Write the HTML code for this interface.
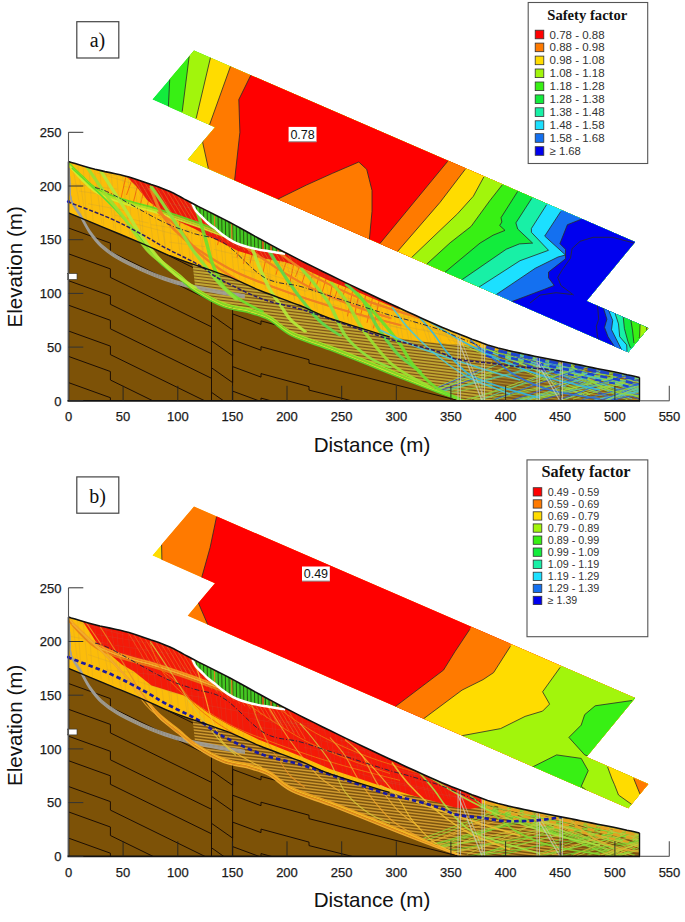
<!DOCTYPE html><html><head><meta charset="utf-8"><style>html,body{margin:0;padding:0;background:#fff;width:685px;height:922px;overflow:hidden}svg{display:block}text{font-family:"Liberation Sans",sans-serif}.tk{font-size:13px;fill:#1a1a1a;stroke:#1a1a1a;stroke-width:0.25px}.ax{font-size:20.6px;fill:#111}</style></head><body>
<svg width="685" height="922" viewBox="0 0 685 922">
<defs>
<clipPath id="outerA"><polygon points="194.0,50.5 635.1,241.9 586.5,300.9 648.3,327.9 628.3,352.3 187.7,159.8 202.3,142.3 215.0,127.2 152.2,99.5"/></clipPath>
<clipPath id="outerB"><polygon points="194.0,506.5 635.1,697.9 586.5,756.9 648.3,783.9 628.3,808.3 187.7,615.8 202.3,598.3 215.0,583.2 152.2,555.5"/></clipPath>
<clipPath id="tailA"><polygon points="506.5,265.9 654.3,330.5 628.3,372.3 480.0,300.0"/></clipPath>
<clipPath id="tailB"><polygon points="506.5,721.9 654.3,786.5 628.3,828.3 480.0,756.0"/></clipPath>
</defs>
<rect width="685" height="922" fill="#fff"/>
<g clip-path="url(#outerA)">
<polygon points="194.0,50.5 635.1,241.9 586.5,300.9 648.3,327.9 628.3,352.3 187.7,159.8 202.3,142.3 215.0,127.2 152.2,99.5" fill="#12ec3c"/>
<polygon points="202.7,-14.0 170.7,59.6 169.7,79.6 168.4,106.5 167.4,126.5 135.4,200.1 2135.4,1070.1 2202.7,856.0" fill="#38f014"/>
<polygon points="223.7,-37.2 191.7,36.4 189.2,56.2 182.2,111.6 179.7,131.4 147.7,205.0 2147.7,1075.0 2223.7,832.8" fill="#a2f50c"/>
<polygon points="247.1,-35.7 215.1,37.9 210.5,57.4 196.2,118.3 191.6,137.8 159.6,211.4 2159.6,1081.4 2247.1,834.3" fill="#ffdc00"/>
<polygon points="269.2,-26.1 237.2,47.5 230.5,66.3 209.6,124.6 202.6,142.1 208.4,168.6 212.7,188.1 180.7,261.7 2180.7,1131.7 2269.2,843.9" fill="#ff7a00"/>
<polygon points="291.7,-16.5 259.7,57.1 250.9,75.0 238.8,99.6 239.9,132.3 234.6,180.3 232.4,200.2 200.4,273.8 2200.4,1143.8 2291.7,853.5" fill="#ff0000"/>
<polygon points="492.4,72.3 460.4,145.9 447.7,161.3 379.8,243.7 367.1,259.1 335.1,332.7 2335.1,1202.7 2492.4,942.3" fill="#ff7a00"/>
<polygon points="509.4,79.7 477.4,153.3 465.3,169.2 440.0,202.4 397.5,251.5 384.4,266.6 352.4,340.2 2352.4,1210.2 2509.4,949.7" fill="#ffdc00"/>
<polygon points="525.4,85.8 493.4,159.4 483.8,177.0 473.3,196.3 457.5,213.8 440.0,230.4 411.5,257.6 397.0,271.4 365.0,345.0 2365.0,1215.0 2525.4,955.8" fill="#a2f50c"/>
<polygon points="546.7,95.5 514.7,169.1 502.3,184.8 489.8,200.7 471.1,226.4 450.1,242.8 426.7,264.2 411.9,277.7 379.9,351.3 2379.9,1221.3 2546.7,965.5" fill="#38f014"/>
<polygon points="560.4,100.9 528.4,174.5 517.7,191.4 501.0,217.7 501.9,222.0 499.7,225.5 505.0,230.4 493.1,235.2 480.0,243.1 445.0,272.2 429.6,285.0 397.6,358.6 2397.6,1228.6 2560.4,970.9" fill="#12ec3c"/>
<polygon points="574.5,108.0 542.5,181.6 531.7,198.4 515.9,222.9 517.7,229.0 532.6,243.1 519.4,243.9 506.3,249.2 462.0,279.7 445.5,291.0 413.5,364.6 2413.5,1234.6 2574.5,978.0" fill="#18f0a6"/>
<polygon points="589.4,114.2 557.4,187.8 546.6,204.7 531.4,228.5 531.4,232.3 548.5,250.3 520.0,260.7 479.0,287.1 462.2,297.9 430.2,371.5 2430.2,1241.5 2589.4,984.2" fill="#1ce0ff"/>
<polygon points="603.7,121.0 571.7,194.6 560.8,211.4 544.7,236.1 565.5,255.0 558.0,257.0 535.2,268.3 496.2,294.6 479.6,305.8 447.6,379.4 2447.6,1249.4 2603.7,991.0" fill="#1470f0"/>
<polygon points="631.3,138.6 599.3,212.2 580.7,219.5 567.4,224.7 559.9,243.7 565.5,249.3 565.5,258.8 548.5,272.1 548.5,277.8 554.2,285.4 544.7,289.2 512.0,301.5 493.3,308.5 461.3,382.1 2461.3,1252.1 2631.3,1008.6" fill="#0000ee"/>
<polygon points="270.0,206.0 277.0,199.5 306.3,185.1 332.5,173.3 358.8,162.0 366.7,169.3 372.0,190.4 372.0,211.4 369.3,240.0 369.0,260.0 270.0,215.0" fill="#ff7a00"/>
<g clip-path="url(#tailA)">
<polygon points="629.4,215.3 597.4,288.9 603.4,308.0 606.9,319.2 604.5,327.4 608.0,336.7 614.5,346.5 625.6,363.2 593.6,436.8 2593.6,1306.8 2629.4,1085.3" fill="#1470f0"/>
<polygon points="633.1,218.0 601.1,291.6 608.6,310.2 612.7,320.4 611.5,329.7 616.2,339.0 621.5,349.5 630.5,367.4 598.5,441.0 2598.5,1311.0 2633.1,1088.0" fill="#1ce0ff"/>
<polygon points="640.8,220.6 608.8,294.2 615.0,313.2 618.5,323.9 619.7,336.7 626.7,344.9 627.0,351.5 627.9,371.5 595.9,445.1 2595.9,1315.1 2640.8,1090.6" fill="#18f0a6"/>
<polygon points="653.2,223.1 621.2,296.7 623.2,316.6 624.4,328.5 627.9,341.4 630.5,348.0 637.8,366.6 605.8,440.2 2605.8,1310.2 2653.2,1093.1" fill="#12ec3c"/>
<polygon points="659.6,226.6 627.6,300.2 630.8,319.9 632.6,330.9 633.7,341.4 634.0,343.0 637.7,362.7 605.7,436.3 2605.7,1306.3 2659.6,1096.6" fill="#38f014"/>
<polygon points="672.9,230.4 640.9,304.0 640.1,324.0 639.6,336.7 639.0,338.0 679.0,330.0 2679.0,1200.0 2672.9,1100.4" fill="#a2f50c"/>
<polygon points="677.2,233.4 645.2,307.0 646.5,327.0 646.8,331.5 646.5,332.0 686.5,324.0 2686.5,1194.0 2677.2,1103.4" fill="#ffdc00"/>
</g>
<polyline points="169.7,79.6 168.4,106.5" fill="none" stroke="#2a2a2a" stroke-width="0.8"/>
<polyline points="189.2,56.2 182.2,111.6" fill="none" stroke="#2a2a2a" stroke-width="0.8"/>
<polyline points="210.5,57.4 196.2,118.3" fill="none" stroke="#2a2a2a" stroke-width="0.8"/>
<polyline points="230.5,66.3 209.6,124.6 202.6,142.1 208.4,168.6" fill="none" stroke="#2a2a2a" stroke-width="0.8"/>
<polyline points="250.9,75.0 238.8,99.6 239.9,132.3 234.6,180.3" fill="none" stroke="#2a2a2a" stroke-width="0.8"/>
<polyline points="447.7,161.3 379.8,243.7" fill="none" stroke="#2a2a2a" stroke-width="0.8"/>
<polyline points="465.3,169.2 440.0,202.4 397.5,251.5" fill="none" stroke="#2a2a2a" stroke-width="0.8"/>
<polyline points="483.8,177.0 473.3,196.3 457.5,213.8 440.0,230.4 411.5,257.6" fill="none" stroke="#2a2a2a" stroke-width="0.8"/>
<polyline points="502.3,184.8 489.8,200.7 471.1,226.4 450.1,242.8 426.7,264.2" fill="none" stroke="#2a2a2a" stroke-width="0.8"/>
<polyline points="517.7,191.4 501.0,217.7 501.9,222.0 499.7,225.5 505.0,230.4 493.1,235.2 480.0,243.1 445.0,272.2" fill="none" stroke="#2a2a2a" stroke-width="0.8"/>
<polyline points="531.7,198.4 515.9,222.9 517.7,229.0 532.6,243.1 519.4,243.9 506.3,249.2 462.0,279.7" fill="none" stroke="#2a2a2a" stroke-width="0.8"/>
<polyline points="546.6,204.7 531.4,228.5 531.4,232.3 548.5,250.3 520.0,260.7 479.0,287.1" fill="none" stroke="#2a2a2a" stroke-width="0.8"/>
<polyline points="560.8,211.4 544.7,236.1 565.5,255.0 558.0,257.0 535.2,268.3 496.2,294.6" fill="none" stroke="#2a2a2a" stroke-width="0.8"/>
<polyline points="580.7,219.5 567.4,224.7 559.9,243.7 565.5,249.3 565.5,258.8 548.5,272.1 548.5,277.8 554.2,285.4 544.7,289.2 512.0,301.5" fill="none" stroke="#2a2a2a" stroke-width="0.8"/>
<polyline points="277.0,199.5 306.3,185.1 332.5,173.3 358.8,162.0 366.7,169.3 372.0,190.4 372.0,211.4 369.3,240.0" fill="none" stroke="#2a2a2a" stroke-width="0.8"/>
<polyline points="603.4,308.0 606.9,319.2 604.5,327.4 608.0,336.7 614.5,346.5" fill="none" stroke="#2a2a2a" stroke-width="0.8"/>
<polyline points="608.6,310.2 612.7,320.4 611.5,329.7 616.2,339.0 621.5,349.5" fill="none" stroke="#2a2a2a" stroke-width="0.8"/>
<polyline points="615.0,313.2 618.5,323.9 619.7,336.7 626.7,344.9 627.0,351.5" fill="none" stroke="#2a2a2a" stroke-width="0.8"/>
<polyline points="623.2,316.6 624.4,328.5 627.9,341.4 630.5,348.0" fill="none" stroke="#2a2a2a" stroke-width="0.8"/>
<polyline points="630.8,319.9 632.6,330.9 633.7,341.4 634.0,343.0" fill="none" stroke="#2a2a2a" stroke-width="0.8"/>
<polyline points="640.1,324.0 639.6,336.7 639.0,338.0" fill="none" stroke="#2a2a2a" stroke-width="0.8"/>
<polyline points="646.5,327.0 646.8,331.5 646.5,332.0" fill="none" stroke="#2a2a2a" stroke-width="0.8"/>
<polyline points="597.5,305.2 598.7,319.2 596.4,326.2 597.5,336.7 600.0,343.0" fill="none" stroke="#2a2a2a" stroke-width="0.8"/>
<polyline points="634.0,243.0 612.3,237.3 593.0,237.3 580.1,241.3 572.1,248.5 570.5,258.2 562.5,269.4 557.7,277.4 560.9,285.5 573.7,295.1" fill="none" stroke="#2a2a2a" stroke-width="0.8"/>
<polyline points="530.0,303.0 540.0,295.1 556.0,292.7 572.1,294.5" fill="none" stroke="#2a2a2a" stroke-width="0.8"/>
</g>
<rect x="288.6" y="126.9" width="27.9" height="14.9" fill="#fff"/>
<line x1="288.6" y1="141.8" x2="316.5" y2="141.8" stroke="#888" stroke-width="1"/>
<text x="302.55" y="138.8" text-anchor="middle" font-size="12.5" fill="#111">0.78</text>
<clipPath id="slopea"><polygon points="68.5,161.6 71.3,162.4 75.2,163.6 79.9,165.0 84.9,166.5 90.1,168.0 95.0,169.3 99.9,170.4 105.0,171.6 110.1,172.6 115.3,173.7 120.2,174.8 124.8,175.9 129.0,177.1 132.9,178.3 136.7,179.5 140.3,180.7 143.9,182.0 147.6,183.3 151.3,184.6 155.1,185.8 158.8,187.1 162.5,188.4 166.2,189.9 170.0,191.5 173.7,193.2 177.2,195.1 180.7,197.0 184.4,199.1 188.5,201.3 193.2,203.8 198.6,206.6 204.7,209.6 211.2,212.9 217.7,216.2 224.1,219.4 230.0,222.5 235.4,225.4 240.6,228.2 245.6,231.0 250.5,233.7 255.2,236.4 260.0,239.0 264.5,241.4 268.6,243.7 272.7,245.9 276.9,248.2 281.6,250.7 287.0,253.5 293.2,256.6 299.9,260.1 307.1,263.7 314.6,267.4 322.2,271.2 330.0,275.0 337.9,278.9 346.1,282.9 354.6,286.9 363.1,291.0 371.6,295.0 380.0,299.0 388.6,303.0 397.4,307.1 406.2,311.2 414.7,315.1 422.7,318.8 430.0,322.0 436.3,324.8 441.8,327.2 446.9,329.3 451.6,331.2 456.4,333.1 461.4,335.1 466.6,337.1 471.9,339.2 477.1,341.1 482.3,343.1 487.6,344.9 492.8,346.5 498.0,348.0 503.3,349.3 508.5,350.6 513.7,351.7 519.0,352.9 524.2,354.0 529.4,355.1 534.6,356.2 539.9,357.2 545.1,358.2 550.3,359.2 555.5,360.2 560.7,361.2 566.0,362.3 571.2,363.3 576.4,364.4 581.7,365.4 586.9,366.5 592.2,367.6 597.7,368.7 603.2,369.8 608.6,370.8 613.7,371.8 618.3,372.8 622.7,373.7 626.9,374.7 630.9,375.5 634.4,376.3 637.3,377.0 639.5,377.5 639.5,400.8 68.5,400.8"/></clipPath>
<polygon points="68.5,161.6 71.3,162.4 75.2,163.6 79.9,165.0 84.9,166.5 90.1,168.0 95.0,169.3 99.9,170.4 105.0,171.6 110.1,172.6 115.3,173.7 120.2,174.8 124.8,175.9 129.0,177.1 132.9,178.3 136.7,179.5 140.3,180.7 143.9,182.0 147.6,183.3 151.3,184.6 155.1,185.8 158.8,187.1 162.5,188.4 166.2,189.9 170.0,191.5 173.7,193.2 177.2,195.1 180.7,197.0 184.4,199.1 188.5,201.3 193.2,203.8 198.6,206.6 204.7,209.6 211.2,212.9 217.7,216.2 224.1,219.4 230.0,222.5 235.4,225.4 240.6,228.2 245.6,231.0 250.5,233.7 255.2,236.4 260.0,239.0 264.5,241.4 268.6,243.7 272.7,245.9 276.9,248.2 281.6,250.7 287.0,253.5 293.2,256.6 299.9,260.1 307.1,263.7 314.6,267.4 322.2,271.2 330.0,275.0 337.9,278.9 346.1,282.9 354.6,286.9 363.1,291.0 371.6,295.0 380.0,299.0 388.6,303.0 397.4,307.1 406.2,311.2 414.7,315.1 422.7,318.8 430.0,322.0 436.3,324.8 441.8,327.2 446.9,329.3 451.6,331.2 456.4,333.1 461.4,335.1 466.6,337.1 471.9,339.2 477.1,341.1 482.3,343.1 487.6,344.9 492.8,346.5 498.0,348.0 503.3,349.3 508.5,350.6 513.7,351.7 519.0,352.9 524.2,354.0 529.4,355.1 534.6,356.2 539.9,357.2 545.1,358.2 550.3,359.2 555.5,360.2 560.7,361.2 566.0,362.3 571.2,363.3 576.4,364.4 581.7,365.4 586.9,366.5 592.2,367.6 597.7,368.7 603.2,369.8 608.6,370.8 613.7,371.8 618.3,372.8 622.7,373.7 626.9,374.7 630.9,375.5 634.4,376.3 637.3,377.0 639.5,377.5 639.5,400.8 68.5,400.8" fill="#7d5207"/>
<g clip-path="url(#slopea)">
<polyline points="68.5,203.5 110.4,218.6 110.4,227.1 211.5,276.6 211.5,290.6 232.6,305.4 232.6,289.4 261.0,299.9 261.0,296.4 309.0,309.4 309.0,312.9 645.0,396.9" fill="none" stroke="#1c0e04" stroke-width="1"/>
<polyline points="68.5,228.0 110.4,243.1 110.4,251.6 211.5,301.1 211.5,315.1 232.6,329.9 232.6,313.9 261.0,324.4 261.0,320.9 309.0,333.9 309.0,337.4 645.0,421.4" fill="none" stroke="#1c0e04" stroke-width="1"/>
<polyline points="68.5,253.8 110.4,268.9 110.4,277.4 211.5,326.9 211.5,340.9 232.6,355.7 232.6,339.7 261.0,350.2 261.0,346.7 309.0,359.7 309.0,363.2 645.0,447.2" fill="none" stroke="#1c0e04" stroke-width="1"/>
<polyline points="68.5,280.7 110.4,295.8 110.4,304.3 211.5,353.8 211.5,367.8 232.6,382.6 232.6,366.6 261.0,377.1 261.0,373.6 309.0,386.6 309.0,390.1 645.0,474.1" fill="none" stroke="#1c0e04" stroke-width="1"/>
<polyline points="68.5,305.2 110.4,320.3 110.4,328.8 211.5,378.3 211.5,392.3 232.6,407.1 232.6,391.1 261.0,401.6 261.0,398.1 309.0,411.1 309.0,414.6 645.0,498.6" fill="none" stroke="#1c0e04" stroke-width="1"/>
<polyline points="68.5,331.0 110.4,346.1 110.4,354.6 211.5,404.1 211.5,418.1 232.6,432.9 232.6,416.9 261.0,427.4 261.0,423.9 309.0,436.9 309.0,440.4 645.0,524.4" fill="none" stroke="#1c0e04" stroke-width="1"/>
<polyline points="68.5,356.4 110.4,371.5 110.4,380.0 211.5,429.5 211.5,443.5 232.6,458.3 232.6,442.3 261.0,452.8 261.0,449.3 309.0,462.3 309.0,465.8 645.0,549.8" fill="none" stroke="#1c0e04" stroke-width="1"/>
<polyline points="68.5,382.6 110.4,397.7 110.4,406.2 211.5,455.7 211.5,469.7 232.6,484.5 232.6,468.5 261.0,479.0 261.0,475.5 309.0,488.5 309.0,492.0 645.0,576.0" fill="none" stroke="#1c0e04" stroke-width="1"/>
<polyline points="68.5,408.0 110.4,423.1 110.4,431.6 211.5,481.1 211.5,495.1 232.6,509.9 232.6,493.9 261.0,504.4 261.0,500.9 309.0,513.9 309.0,517.4 645.0,601.4" fill="none" stroke="#1c0e04" stroke-width="1"/>
<line x1="211.5" y1="296.6" x2="211.5" y2="400.8" stroke="#1c0e04" stroke-width="1"/>
<line x1="232.6" y1="305.1" x2="232.6" y2="400.8" stroke="#1c0e04" stroke-width="1"/>
<polygon points="192.6,264.2 208.3,269.4 230.0,277.2 260.0,290.5 300.0,305.5 330.0,318.4 389.6,337.0 420.0,341.5 440.0,343.6 459.0,344.8 484.0,348.0 495.0,350.0 505.0,351.5 524.2,354.0 555.5,360.2 586.9,366.5 618.3,372.8 640.0,377.5 645.0,381.0 645.0,400.8 470.0,400.8 475.0,403.0 460.0,399.6 437.6,390.4 400.0,374.0 367.7,361.0 329.7,346.0 291.8,332.0 269.0,316.0 249.2,309.0 223.5,303.0 195.2,287.8" fill="#80581a"/>
<clipPath id="kha"><polygon points="192.6,264.2 208.3,269.4 230.0,277.2 260.0,290.5 300.0,305.5 330.0,318.4 389.6,337.0 420.0,341.5 440.0,343.6 459.0,344.8 484.0,348.0 495.0,350.0 505.0,351.5 524.2,354.0 555.5,360.2 586.9,366.5 618.3,372.8 640.0,377.5 645.0,381.0 645.0,400.8 470.0,400.8 475.0,403.0 460.0,399.6 437.6,390.4 400.0,374.0 367.7,361.0 329.7,346.0 291.8,332.0 269.0,316.0 249.2,309.0 223.5,303.0 195.2,287.8"/></clipPath>
<g clip-path="url(#kha)">
<line x1="190" y1="82.0" x2="492" y2="118.2" stroke="#c8b034" stroke-width="1.8" stroke-opacity="0.9"/>
<line x1="492" y1="118.2" x2="650" y2="137.2" stroke="#c8b034" stroke-width="1.26" stroke-opacity="0.55"/>
<line x1="190" y1="85.0" x2="492" y2="121.2" stroke="#c8b034" stroke-width="1.8" stroke-opacity="0.9"/>
<line x1="492" y1="121.2" x2="650" y2="140.2" stroke="#c8b034" stroke-width="1.26" stroke-opacity="0.55"/>
<line x1="190" y1="88.0" x2="492" y2="124.2" stroke="#c8b034" stroke-width="1.8" stroke-opacity="0.9"/>
<line x1="492" y1="124.2" x2="650" y2="143.2" stroke="#c8b034" stroke-width="1.26" stroke-opacity="0.55"/>
<line x1="190" y1="91.0" x2="492" y2="127.2" stroke="#c8b034" stroke-width="1.8" stroke-opacity="0.9"/>
<line x1="492" y1="127.2" x2="650" y2="146.2" stroke="#c8b034" stroke-width="1.26" stroke-opacity="0.55"/>
<line x1="190" y1="94.0" x2="492" y2="130.2" stroke="#c8b034" stroke-width="1.8" stroke-opacity="0.9"/>
<line x1="492" y1="130.2" x2="650" y2="149.2" stroke="#c8b034" stroke-width="1.26" stroke-opacity="0.55"/>
<line x1="190" y1="97.0" x2="492" y2="133.2" stroke="#c8b034" stroke-width="1.8" stroke-opacity="0.9"/>
<line x1="492" y1="133.2" x2="650" y2="152.2" stroke="#c8b034" stroke-width="1.26" stroke-opacity="0.55"/>
<line x1="190" y1="100.0" x2="492" y2="136.2" stroke="#c8b034" stroke-width="1.8" stroke-opacity="0.9"/>
<line x1="492" y1="136.2" x2="650" y2="155.2" stroke="#c8b034" stroke-width="1.26" stroke-opacity="0.55"/>
<line x1="190" y1="103.0" x2="492" y2="139.2" stroke="#c8b034" stroke-width="1.8" stroke-opacity="0.9"/>
<line x1="492" y1="139.2" x2="650" y2="158.2" stroke="#c8b034" stroke-width="1.26" stroke-opacity="0.55"/>
<line x1="190" y1="106.0" x2="492" y2="142.2" stroke="#c8b034" stroke-width="1.8" stroke-opacity="0.9"/>
<line x1="492" y1="142.2" x2="650" y2="161.2" stroke="#c8b034" stroke-width="1.26" stroke-opacity="0.55"/>
<line x1="190" y1="109.0" x2="492" y2="145.2" stroke="#c8b034" stroke-width="1.8" stroke-opacity="0.9"/>
<line x1="492" y1="145.2" x2="650" y2="164.2" stroke="#c8b034" stroke-width="1.26" stroke-opacity="0.55"/>
<line x1="190" y1="112.0" x2="492" y2="148.2" stroke="#c8b034" stroke-width="1.8" stroke-opacity="0.9"/>
<line x1="492" y1="148.2" x2="650" y2="167.2" stroke="#c8b034" stroke-width="1.26" stroke-opacity="0.55"/>
<line x1="190" y1="115.0" x2="492" y2="151.2" stroke="#c8b034" stroke-width="1.8" stroke-opacity="0.9"/>
<line x1="492" y1="151.2" x2="650" y2="170.2" stroke="#c8b034" stroke-width="1.26" stroke-opacity="0.55"/>
<line x1="190" y1="118.0" x2="492" y2="154.2" stroke="#c8b034" stroke-width="1.8" stroke-opacity="0.9"/>
<line x1="492" y1="154.2" x2="650" y2="173.2" stroke="#c8b034" stroke-width="1.26" stroke-opacity="0.55"/>
<line x1="190" y1="121.0" x2="492" y2="157.2" stroke="#c8b034" stroke-width="1.8" stroke-opacity="0.9"/>
<line x1="492" y1="157.2" x2="650" y2="176.2" stroke="#c8b034" stroke-width="1.26" stroke-opacity="0.55"/>
<line x1="190" y1="124.0" x2="492" y2="160.2" stroke="#c8b034" stroke-width="1.8" stroke-opacity="0.9"/>
<line x1="492" y1="160.2" x2="650" y2="179.2" stroke="#c8b034" stroke-width="1.26" stroke-opacity="0.55"/>
<line x1="190" y1="127.0" x2="492" y2="163.2" stroke="#c8b034" stroke-width="1.8" stroke-opacity="0.9"/>
<line x1="492" y1="163.2" x2="650" y2="182.2" stroke="#c8b034" stroke-width="1.26" stroke-opacity="0.55"/>
<line x1="190" y1="130.0" x2="492" y2="166.2" stroke="#c8b034" stroke-width="1.8" stroke-opacity="0.9"/>
<line x1="492" y1="166.2" x2="650" y2="185.2" stroke="#c8b034" stroke-width="1.26" stroke-opacity="0.55"/>
<line x1="190" y1="133.0" x2="492" y2="169.2" stroke="#c8b034" stroke-width="1.8" stroke-opacity="0.9"/>
<line x1="492" y1="169.2" x2="650" y2="188.2" stroke="#c8b034" stroke-width="1.26" stroke-opacity="0.55"/>
<line x1="190" y1="136.0" x2="492" y2="172.2" stroke="#c8b034" stroke-width="1.8" stroke-opacity="0.9"/>
<line x1="492" y1="172.2" x2="650" y2="191.2" stroke="#c8b034" stroke-width="1.26" stroke-opacity="0.55"/>
<line x1="190" y1="139.0" x2="492" y2="175.2" stroke="#c8b034" stroke-width="1.8" stroke-opacity="0.9"/>
<line x1="492" y1="175.2" x2="650" y2="194.2" stroke="#c8b034" stroke-width="1.26" stroke-opacity="0.55"/>
<line x1="190" y1="142.0" x2="492" y2="178.2" stroke="#c8b034" stroke-width="1.8" stroke-opacity="0.9"/>
<line x1="492" y1="178.2" x2="650" y2="197.2" stroke="#c8b034" stroke-width="1.26" stroke-opacity="0.55"/>
<line x1="190" y1="145.0" x2="492" y2="181.2" stroke="#c8b034" stroke-width="1.8" stroke-opacity="0.9"/>
<line x1="492" y1="181.2" x2="650" y2="200.2" stroke="#c8b034" stroke-width="1.26" stroke-opacity="0.55"/>
<line x1="190" y1="148.0" x2="492" y2="184.2" stroke="#c8b034" stroke-width="1.8" stroke-opacity="0.9"/>
<line x1="492" y1="184.2" x2="650" y2="203.2" stroke="#c8b034" stroke-width="1.26" stroke-opacity="0.55"/>
<line x1="190" y1="151.0" x2="492" y2="187.2" stroke="#c8b034" stroke-width="1.8" stroke-opacity="0.9"/>
<line x1="492" y1="187.2" x2="650" y2="206.2" stroke="#c8b034" stroke-width="1.26" stroke-opacity="0.55"/>
<line x1="190" y1="154.0" x2="492" y2="190.2" stroke="#c8b034" stroke-width="1.8" stroke-opacity="0.9"/>
<line x1="492" y1="190.2" x2="650" y2="209.2" stroke="#c8b034" stroke-width="1.26" stroke-opacity="0.55"/>
<line x1="190" y1="157.0" x2="492" y2="193.2" stroke="#c8b034" stroke-width="1.8" stroke-opacity="0.9"/>
<line x1="492" y1="193.2" x2="650" y2="212.2" stroke="#c8b034" stroke-width="1.26" stroke-opacity="0.55"/>
<line x1="190" y1="160.0" x2="492" y2="196.2" stroke="#c8b034" stroke-width="1.8" stroke-opacity="0.9"/>
<line x1="492" y1="196.2" x2="650" y2="215.2" stroke="#c8b034" stroke-width="1.26" stroke-opacity="0.55"/>
<line x1="190" y1="163.0" x2="492" y2="199.2" stroke="#c8b034" stroke-width="1.8" stroke-opacity="0.9"/>
<line x1="492" y1="199.2" x2="650" y2="218.2" stroke="#c8b034" stroke-width="1.26" stroke-opacity="0.55"/>
<line x1="190" y1="166.0" x2="492" y2="202.2" stroke="#c8b034" stroke-width="1.8" stroke-opacity="0.9"/>
<line x1="492" y1="202.2" x2="650" y2="221.2" stroke="#c8b034" stroke-width="1.26" stroke-opacity="0.55"/>
<line x1="190" y1="169.0" x2="492" y2="205.2" stroke="#c8b034" stroke-width="1.8" stroke-opacity="0.9"/>
<line x1="492" y1="205.2" x2="650" y2="224.2" stroke="#c8b034" stroke-width="1.26" stroke-opacity="0.55"/>
<line x1="190" y1="172.0" x2="492" y2="208.2" stroke="#c8b034" stroke-width="1.8" stroke-opacity="0.9"/>
<line x1="492" y1="208.2" x2="650" y2="227.2" stroke="#c8b034" stroke-width="1.26" stroke-opacity="0.55"/>
<line x1="190" y1="175.0" x2="492" y2="211.2" stroke="#c8b034" stroke-width="1.8" stroke-opacity="0.9"/>
<line x1="492" y1="211.2" x2="650" y2="230.2" stroke="#c8b034" stroke-width="1.26" stroke-opacity="0.55"/>
<line x1="190" y1="178.0" x2="492" y2="214.2" stroke="#c8b034" stroke-width="1.8" stroke-opacity="0.9"/>
<line x1="492" y1="214.2" x2="650" y2="233.2" stroke="#c8b034" stroke-width="1.26" stroke-opacity="0.55"/>
<line x1="190" y1="181.0" x2="492" y2="217.2" stroke="#c8b034" stroke-width="1.8" stroke-opacity="0.9"/>
<line x1="492" y1="217.2" x2="650" y2="236.2" stroke="#c8b034" stroke-width="1.26" stroke-opacity="0.55"/>
<line x1="190" y1="184.0" x2="492" y2="220.2" stroke="#c8b034" stroke-width="1.8" stroke-opacity="0.9"/>
<line x1="492" y1="220.2" x2="650" y2="239.2" stroke="#c8b034" stroke-width="1.26" stroke-opacity="0.55"/>
<line x1="190" y1="187.0" x2="492" y2="223.2" stroke="#c8b034" stroke-width="1.8" stroke-opacity="0.9"/>
<line x1="492" y1="223.2" x2="650" y2="242.2" stroke="#c8b034" stroke-width="1.26" stroke-opacity="0.55"/>
<line x1="190" y1="190.0" x2="492" y2="226.2" stroke="#c8b034" stroke-width="1.8" stroke-opacity="0.9"/>
<line x1="492" y1="226.2" x2="650" y2="245.2" stroke="#c8b034" stroke-width="1.26" stroke-opacity="0.55"/>
<line x1="190" y1="193.0" x2="492" y2="229.2" stroke="#c8b034" stroke-width="1.8" stroke-opacity="0.9"/>
<line x1="492" y1="229.2" x2="650" y2="248.2" stroke="#c8b034" stroke-width="1.26" stroke-opacity="0.55"/>
<line x1="190" y1="196.0" x2="492" y2="232.2" stroke="#c8b034" stroke-width="1.8" stroke-opacity="0.9"/>
<line x1="492" y1="232.2" x2="650" y2="251.2" stroke="#c8b034" stroke-width="1.26" stroke-opacity="0.55"/>
<line x1="190" y1="199.0" x2="492" y2="235.2" stroke="#c8b034" stroke-width="1.8" stroke-opacity="0.9"/>
<line x1="492" y1="235.2" x2="650" y2="254.2" stroke="#c8b034" stroke-width="1.26" stroke-opacity="0.55"/>
<line x1="190" y1="202.0" x2="492" y2="238.2" stroke="#c8b034" stroke-width="1.8" stroke-opacity="0.9"/>
<line x1="492" y1="238.2" x2="650" y2="257.2" stroke="#c8b034" stroke-width="1.26" stroke-opacity="0.55"/>
<line x1="190" y1="205.0" x2="492" y2="241.2" stroke="#c8b034" stroke-width="1.8" stroke-opacity="0.9"/>
<line x1="492" y1="241.2" x2="650" y2="260.2" stroke="#c8b034" stroke-width="1.26" stroke-opacity="0.55"/>
<line x1="190" y1="208.0" x2="492" y2="244.2" stroke="#c8b034" stroke-width="1.8" stroke-opacity="0.9"/>
<line x1="492" y1="244.2" x2="650" y2="263.2" stroke="#c8b034" stroke-width="1.26" stroke-opacity="0.55"/>
<line x1="190" y1="211.0" x2="492" y2="247.2" stroke="#c8b034" stroke-width="1.8" stroke-opacity="0.9"/>
<line x1="492" y1="247.2" x2="650" y2="266.2" stroke="#c8b034" stroke-width="1.26" stroke-opacity="0.55"/>
<line x1="190" y1="214.0" x2="492" y2="250.2" stroke="#c8b034" stroke-width="1.8" stroke-opacity="0.9"/>
<line x1="492" y1="250.2" x2="650" y2="269.2" stroke="#c8b034" stroke-width="1.26" stroke-opacity="0.55"/>
<line x1="190" y1="217.0" x2="492" y2="253.2" stroke="#c8b034" stroke-width="1.8" stroke-opacity="0.9"/>
<line x1="492" y1="253.2" x2="650" y2="272.2" stroke="#c8b034" stroke-width="1.26" stroke-opacity="0.55"/>
<line x1="190" y1="220.0" x2="492" y2="256.2" stroke="#c8b034" stroke-width="1.8" stroke-opacity="0.9"/>
<line x1="492" y1="256.2" x2="650" y2="275.2" stroke="#c8b034" stroke-width="1.26" stroke-opacity="0.55"/>
<line x1="190" y1="223.0" x2="492" y2="259.2" stroke="#c8b034" stroke-width="1.8" stroke-opacity="0.9"/>
<line x1="492" y1="259.2" x2="650" y2="278.2" stroke="#c8b034" stroke-width="1.26" stroke-opacity="0.55"/>
<line x1="190" y1="226.0" x2="492" y2="262.2" stroke="#c8b034" stroke-width="1.8" stroke-opacity="0.9"/>
<line x1="492" y1="262.2" x2="650" y2="281.2" stroke="#c8b034" stroke-width="1.26" stroke-opacity="0.55"/>
<line x1="190" y1="229.0" x2="492" y2="265.2" stroke="#c8b034" stroke-width="1.8" stroke-opacity="0.9"/>
<line x1="492" y1="265.2" x2="650" y2="284.2" stroke="#c8b034" stroke-width="1.26" stroke-opacity="0.55"/>
<line x1="190" y1="232.0" x2="492" y2="268.2" stroke="#c8b034" stroke-width="1.8" stroke-opacity="0.9"/>
<line x1="492" y1="268.2" x2="650" y2="287.2" stroke="#c8b034" stroke-width="1.26" stroke-opacity="0.55"/>
<line x1="190" y1="235.0" x2="492" y2="271.2" stroke="#c8b034" stroke-width="1.8" stroke-opacity="0.9"/>
<line x1="492" y1="271.2" x2="650" y2="290.2" stroke="#c8b034" stroke-width="1.26" stroke-opacity="0.55"/>
<line x1="190" y1="238.0" x2="492" y2="274.2" stroke="#c8b034" stroke-width="1.8" stroke-opacity="0.9"/>
<line x1="492" y1="274.2" x2="650" y2="293.2" stroke="#c8b034" stroke-width="1.26" stroke-opacity="0.55"/>
<line x1="190" y1="241.0" x2="492" y2="277.2" stroke="#c8b034" stroke-width="1.8" stroke-opacity="0.9"/>
<line x1="492" y1="277.2" x2="650" y2="296.2" stroke="#c8b034" stroke-width="1.26" stroke-opacity="0.55"/>
<line x1="190" y1="244.0" x2="492" y2="280.2" stroke="#c8b034" stroke-width="1.8" stroke-opacity="0.9"/>
<line x1="492" y1="280.2" x2="650" y2="299.2" stroke="#c8b034" stroke-width="1.26" stroke-opacity="0.55"/>
<line x1="190" y1="247.0" x2="492" y2="283.2" stroke="#c8b034" stroke-width="1.8" stroke-opacity="0.9"/>
<line x1="492" y1="283.2" x2="650" y2="302.2" stroke="#c8b034" stroke-width="1.26" stroke-opacity="0.55"/>
<line x1="190" y1="250.0" x2="492" y2="286.2" stroke="#c8b034" stroke-width="1.8" stroke-opacity="0.9"/>
<line x1="492" y1="286.2" x2="650" y2="305.2" stroke="#c8b034" stroke-width="1.26" stroke-opacity="0.55"/>
<line x1="190" y1="253.0" x2="492" y2="289.2" stroke="#c8b034" stroke-width="1.8" stroke-opacity="0.9"/>
<line x1="492" y1="289.2" x2="650" y2="308.2" stroke="#c8b034" stroke-width="1.26" stroke-opacity="0.55"/>
<line x1="190" y1="256.0" x2="492" y2="292.2" stroke="#c8b034" stroke-width="1.8" stroke-opacity="0.9"/>
<line x1="492" y1="292.2" x2="650" y2="311.2" stroke="#c8b034" stroke-width="1.26" stroke-opacity="0.55"/>
<line x1="190" y1="259.0" x2="492" y2="295.2" stroke="#c8b034" stroke-width="1.8" stroke-opacity="0.9"/>
<line x1="492" y1="295.2" x2="650" y2="314.2" stroke="#c8b034" stroke-width="1.26" stroke-opacity="0.55"/>
<line x1="190" y1="262.0" x2="492" y2="298.2" stroke="#c8b034" stroke-width="1.8" stroke-opacity="0.9"/>
<line x1="492" y1="298.2" x2="650" y2="317.2" stroke="#c8b034" stroke-width="1.26" stroke-opacity="0.55"/>
<line x1="190" y1="265.0" x2="492" y2="301.2" stroke="#c8b034" stroke-width="1.8" stroke-opacity="0.9"/>
<line x1="492" y1="301.2" x2="650" y2="320.2" stroke="#c8b034" stroke-width="1.26" stroke-opacity="0.55"/>
<line x1="190" y1="268.0" x2="492" y2="304.2" stroke="#c8b034" stroke-width="1.8" stroke-opacity="0.9"/>
<line x1="492" y1="304.2" x2="650" y2="323.2" stroke="#c8b034" stroke-width="1.26" stroke-opacity="0.55"/>
<line x1="190" y1="271.0" x2="492" y2="307.2" stroke="#c8b034" stroke-width="1.8" stroke-opacity="0.9"/>
<line x1="492" y1="307.2" x2="650" y2="326.2" stroke="#c8b034" stroke-width="1.26" stroke-opacity="0.55"/>
<line x1="190" y1="274.0" x2="492" y2="310.2" stroke="#c8b034" stroke-width="1.8" stroke-opacity="0.9"/>
<line x1="492" y1="310.2" x2="650" y2="329.2" stroke="#c8b034" stroke-width="1.26" stroke-opacity="0.55"/>
<line x1="190" y1="277.0" x2="492" y2="313.2" stroke="#c8b034" stroke-width="1.8" stroke-opacity="0.9"/>
<line x1="492" y1="313.2" x2="650" y2="332.2" stroke="#c8b034" stroke-width="1.26" stroke-opacity="0.55"/>
<line x1="190" y1="280.0" x2="492" y2="316.2" stroke="#c8b034" stroke-width="1.8" stroke-opacity="0.9"/>
<line x1="492" y1="316.2" x2="650" y2="335.2" stroke="#c8b034" stroke-width="1.26" stroke-opacity="0.55"/>
<line x1="190" y1="283.0" x2="492" y2="319.2" stroke="#c8b034" stroke-width="1.8" stroke-opacity="0.9"/>
<line x1="492" y1="319.2" x2="650" y2="338.2" stroke="#c8b034" stroke-width="1.26" stroke-opacity="0.55"/>
<line x1="190" y1="286.0" x2="492" y2="322.2" stroke="#c8b034" stroke-width="1.8" stroke-opacity="0.9"/>
<line x1="492" y1="322.2" x2="650" y2="341.2" stroke="#c8b034" stroke-width="1.26" stroke-opacity="0.55"/>
<line x1="190" y1="289.0" x2="492" y2="325.2" stroke="#c8b034" stroke-width="1.8" stroke-opacity="0.9"/>
<line x1="492" y1="325.2" x2="650" y2="344.2" stroke="#c8b034" stroke-width="1.26" stroke-opacity="0.55"/>
<line x1="190" y1="292.0" x2="492" y2="328.2" stroke="#c8b034" stroke-width="1.8" stroke-opacity="0.9"/>
<line x1="492" y1="328.2" x2="650" y2="347.2" stroke="#c8b034" stroke-width="1.26" stroke-opacity="0.55"/>
<line x1="190" y1="295.0" x2="492" y2="331.2" stroke="#c8b034" stroke-width="1.8" stroke-opacity="0.9"/>
<line x1="492" y1="331.2" x2="650" y2="350.2" stroke="#c8b034" stroke-width="1.26" stroke-opacity="0.55"/>
<line x1="190" y1="298.0" x2="492" y2="334.2" stroke="#c8b034" stroke-width="1.8" stroke-opacity="0.9"/>
<line x1="492" y1="334.2" x2="650" y2="353.2" stroke="#c8b034" stroke-width="1.26" stroke-opacity="0.55"/>
<line x1="190" y1="301.0" x2="492" y2="337.2" stroke="#c8b034" stroke-width="1.8" stroke-opacity="0.9"/>
<line x1="492" y1="337.2" x2="650" y2="356.2" stroke="#c8b034" stroke-width="1.26" stroke-opacity="0.55"/>
<line x1="190" y1="304.0" x2="492" y2="340.2" stroke="#c8b034" stroke-width="1.8" stroke-opacity="0.9"/>
<line x1="492" y1="340.2" x2="650" y2="359.2" stroke="#c8b034" stroke-width="1.26" stroke-opacity="0.55"/>
<line x1="190" y1="307.0" x2="492" y2="343.2" stroke="#c8b034" stroke-width="1.8" stroke-opacity="0.9"/>
<line x1="492" y1="343.2" x2="650" y2="362.2" stroke="#c8b034" stroke-width="1.26" stroke-opacity="0.55"/>
<line x1="190" y1="310.0" x2="492" y2="346.2" stroke="#c8b034" stroke-width="1.8" stroke-opacity="0.9"/>
<line x1="492" y1="346.2" x2="650" y2="365.2" stroke="#c8b034" stroke-width="1.26" stroke-opacity="0.55"/>
<line x1="190" y1="313.0" x2="492" y2="349.2" stroke="#c8b034" stroke-width="1.8" stroke-opacity="0.9"/>
<line x1="492" y1="349.2" x2="650" y2="368.2" stroke="#c8b034" stroke-width="1.26" stroke-opacity="0.55"/>
<line x1="190" y1="316.0" x2="492" y2="352.2" stroke="#c8b034" stroke-width="1.8" stroke-opacity="0.9"/>
<line x1="492" y1="352.2" x2="650" y2="371.2" stroke="#c8b034" stroke-width="1.26" stroke-opacity="0.55"/>
<line x1="190" y1="319.0" x2="492" y2="355.2" stroke="#c8b034" stroke-width="1.8" stroke-opacity="0.9"/>
<line x1="492" y1="355.2" x2="650" y2="374.2" stroke="#c8b034" stroke-width="1.26" stroke-opacity="0.55"/>
<line x1="190" y1="322.0" x2="492" y2="358.2" stroke="#c8b034" stroke-width="1.8" stroke-opacity="0.9"/>
<line x1="492" y1="358.2" x2="650" y2="377.2" stroke="#c8b034" stroke-width="1.26" stroke-opacity="0.55"/>
<line x1="190" y1="325.0" x2="492" y2="361.2" stroke="#c8b034" stroke-width="1.8" stroke-opacity="0.9"/>
<line x1="492" y1="361.2" x2="650" y2="380.2" stroke="#c8b034" stroke-width="1.26" stroke-opacity="0.55"/>
<line x1="190" y1="328.0" x2="492" y2="364.2" stroke="#c8b034" stroke-width="1.8" stroke-opacity="0.9"/>
<line x1="492" y1="364.2" x2="650" y2="383.2" stroke="#c8b034" stroke-width="1.26" stroke-opacity="0.55"/>
<line x1="190" y1="331.0" x2="492" y2="367.2" stroke="#c8b034" stroke-width="1.8" stroke-opacity="0.9"/>
<line x1="492" y1="367.2" x2="650" y2="386.2" stroke="#c8b034" stroke-width="1.26" stroke-opacity="0.55"/>
<line x1="190" y1="334.0" x2="492" y2="370.2" stroke="#c8b034" stroke-width="1.8" stroke-opacity="0.9"/>
<line x1="492" y1="370.2" x2="650" y2="389.2" stroke="#c8b034" stroke-width="1.26" stroke-opacity="0.55"/>
<line x1="190" y1="337.0" x2="492" y2="373.2" stroke="#c8b034" stroke-width="1.8" stroke-opacity="0.9"/>
<line x1="492" y1="373.2" x2="650" y2="392.2" stroke="#c8b034" stroke-width="1.26" stroke-opacity="0.55"/>
<line x1="190" y1="340.0" x2="492" y2="376.2" stroke="#c8b034" stroke-width="1.8" stroke-opacity="0.9"/>
<line x1="492" y1="376.2" x2="650" y2="395.2" stroke="#c8b034" stroke-width="1.26" stroke-opacity="0.55"/>
<line x1="190" y1="343.0" x2="492" y2="379.2" stroke="#c8b034" stroke-width="1.8" stroke-opacity="0.9"/>
<line x1="492" y1="379.2" x2="650" y2="398.2" stroke="#c8b034" stroke-width="1.26" stroke-opacity="0.55"/>
<line x1="190" y1="346.0" x2="492" y2="382.2" stroke="#c8b034" stroke-width="1.8" stroke-opacity="0.9"/>
<line x1="492" y1="382.2" x2="650" y2="401.2" stroke="#c8b034" stroke-width="1.26" stroke-opacity="0.55"/>
<line x1="190" y1="349.0" x2="492" y2="385.2" stroke="#c8b034" stroke-width="1.8" stroke-opacity="0.9"/>
<line x1="492" y1="385.2" x2="650" y2="404.2" stroke="#c8b034" stroke-width="1.26" stroke-opacity="0.55"/>
<line x1="190" y1="352.0" x2="492" y2="388.2" stroke="#c8b034" stroke-width="1.8" stroke-opacity="0.9"/>
<line x1="492" y1="388.2" x2="650" y2="407.2" stroke="#c8b034" stroke-width="1.26" stroke-opacity="0.55"/>
<line x1="190" y1="355.0" x2="492" y2="391.2" stroke="#c8b034" stroke-width="1.8" stroke-opacity="0.9"/>
<line x1="492" y1="391.2" x2="650" y2="410.2" stroke="#c8b034" stroke-width="1.26" stroke-opacity="0.55"/>
<line x1="190" y1="358.0" x2="492" y2="394.2" stroke="#c8b034" stroke-width="1.8" stroke-opacity="0.9"/>
<line x1="492" y1="394.2" x2="650" y2="413.2" stroke="#c8b034" stroke-width="1.26" stroke-opacity="0.55"/>
<line x1="190" y1="361.0" x2="492" y2="397.2" stroke="#c8b034" stroke-width="1.8" stroke-opacity="0.9"/>
<line x1="492" y1="397.2" x2="650" y2="416.2" stroke="#c8b034" stroke-width="1.26" stroke-opacity="0.55"/>
<line x1="190" y1="364.0" x2="492" y2="400.2" stroke="#c8b034" stroke-width="1.8" stroke-opacity="0.9"/>
<line x1="492" y1="400.2" x2="650" y2="419.2" stroke="#c8b034" stroke-width="1.26" stroke-opacity="0.55"/>
<line x1="190" y1="367.0" x2="492" y2="403.2" stroke="#c8b034" stroke-width="1.8" stroke-opacity="0.9"/>
<line x1="492" y1="403.2" x2="650" y2="422.2" stroke="#c8b034" stroke-width="1.26" stroke-opacity="0.55"/>
<line x1="190" y1="370.0" x2="492" y2="406.2" stroke="#c8b034" stroke-width="1.8" stroke-opacity="0.9"/>
<line x1="492" y1="406.2" x2="650" y2="425.2" stroke="#c8b034" stroke-width="1.26" stroke-opacity="0.55"/>
<line x1="190" y1="373.0" x2="492" y2="409.2" stroke="#c8b034" stroke-width="1.8" stroke-opacity="0.9"/>
<line x1="492" y1="409.2" x2="650" y2="428.2" stroke="#c8b034" stroke-width="1.26" stroke-opacity="0.55"/>
<line x1="190" y1="376.0" x2="492" y2="412.2" stroke="#c8b034" stroke-width="1.8" stroke-opacity="0.9"/>
<line x1="492" y1="412.2" x2="650" y2="431.2" stroke="#c8b034" stroke-width="1.26" stroke-opacity="0.55"/>
<line x1="190" y1="379.0" x2="492" y2="415.2" stroke="#c8b034" stroke-width="1.8" stroke-opacity="0.9"/>
<line x1="492" y1="415.2" x2="650" y2="434.2" stroke="#c8b034" stroke-width="1.26" stroke-opacity="0.55"/>
<line x1="190" y1="382.0" x2="492" y2="418.2" stroke="#c8b034" stroke-width="1.8" stroke-opacity="0.9"/>
<line x1="492" y1="418.2" x2="650" y2="437.2" stroke="#c8b034" stroke-width="1.26" stroke-opacity="0.55"/>
<line x1="190" y1="385.0" x2="492" y2="421.2" stroke="#c8b034" stroke-width="1.8" stroke-opacity="0.9"/>
<line x1="492" y1="421.2" x2="650" y2="440.2" stroke="#c8b034" stroke-width="1.26" stroke-opacity="0.55"/>
<line x1="190" y1="388.0" x2="492" y2="424.2" stroke="#c8b034" stroke-width="1.8" stroke-opacity="0.9"/>
<line x1="492" y1="424.2" x2="650" y2="443.2" stroke="#c8b034" stroke-width="1.26" stroke-opacity="0.55"/>
<line x1="190" y1="391.0" x2="492" y2="427.2" stroke="#c8b034" stroke-width="1.8" stroke-opacity="0.9"/>
<line x1="492" y1="427.2" x2="650" y2="446.2" stroke="#c8b034" stroke-width="1.26" stroke-opacity="0.55"/>
<line x1="190" y1="394.0" x2="492" y2="430.2" stroke="#c8b034" stroke-width="1.8" stroke-opacity="0.9"/>
<line x1="492" y1="430.2" x2="650" y2="449.2" stroke="#c8b034" stroke-width="1.26" stroke-opacity="0.55"/>
<line x1="190" y1="397.0" x2="492" y2="433.2" stroke="#c8b034" stroke-width="1.8" stroke-opacity="0.9"/>
<line x1="492" y1="433.2" x2="650" y2="452.2" stroke="#c8b034" stroke-width="1.26" stroke-opacity="0.55"/>
<line x1="190" y1="400.0" x2="492" y2="436.2" stroke="#c8b034" stroke-width="1.8" stroke-opacity="0.9"/>
<line x1="492" y1="436.2" x2="650" y2="455.2" stroke="#c8b034" stroke-width="1.26" stroke-opacity="0.55"/>
<line x1="190" y1="403.0" x2="492" y2="439.2" stroke="#c8b034" stroke-width="1.8" stroke-opacity="0.9"/>
<line x1="492" y1="439.2" x2="650" y2="458.2" stroke="#c8b034" stroke-width="1.26" stroke-opacity="0.55"/>
<line x1="190" y1="406.0" x2="492" y2="442.2" stroke="#c8b034" stroke-width="1.8" stroke-opacity="0.9"/>
<line x1="492" y1="442.2" x2="650" y2="461.2" stroke="#c8b034" stroke-width="1.26" stroke-opacity="0.55"/>
<line x1="190" y1="409.0" x2="492" y2="445.2" stroke="#c8b034" stroke-width="1.8" stroke-opacity="0.9"/>
<line x1="492" y1="445.2" x2="650" y2="464.2" stroke="#c8b034" stroke-width="1.26" stroke-opacity="0.55"/>
<line x1="190" y1="412.0" x2="492" y2="448.2" stroke="#c8b034" stroke-width="1.8" stroke-opacity="0.9"/>
<line x1="492" y1="448.2" x2="650" y2="467.2" stroke="#c8b034" stroke-width="1.26" stroke-opacity="0.55"/>
<line x1="190" y1="415.0" x2="492" y2="451.2" stroke="#c8b034" stroke-width="1.8" stroke-opacity="0.9"/>
<line x1="492" y1="451.2" x2="650" y2="470.2" stroke="#c8b034" stroke-width="1.26" stroke-opacity="0.55"/>
<line x1="190" y1="418.0" x2="492" y2="454.2" stroke="#c8b034" stroke-width="1.8" stroke-opacity="0.9"/>
<line x1="492" y1="454.2" x2="650" y2="473.2" stroke="#c8b034" stroke-width="1.26" stroke-opacity="0.55"/>
<line x1="190" y1="421.0" x2="492" y2="457.2" stroke="#c8b034" stroke-width="1.8" stroke-opacity="0.9"/>
<line x1="492" y1="457.2" x2="650" y2="476.2" stroke="#c8b034" stroke-width="1.26" stroke-opacity="0.55"/>
<line x1="190" y1="424.0" x2="492" y2="460.2" stroke="#c8b034" stroke-width="1.8" stroke-opacity="0.9"/>
<line x1="492" y1="460.2" x2="650" y2="479.2" stroke="#c8b034" stroke-width="1.26" stroke-opacity="0.55"/>
<line x1="190" y1="427.0" x2="492" y2="463.2" stroke="#c8b034" stroke-width="1.8" stroke-opacity="0.9"/>
<line x1="492" y1="463.2" x2="650" y2="482.2" stroke="#c8b034" stroke-width="1.26" stroke-opacity="0.55"/>
<line x1="190" y1="430.0" x2="492" y2="466.2" stroke="#c8b034" stroke-width="1.8" stroke-opacity="0.9"/>
<line x1="492" y1="466.2" x2="650" y2="485.2" stroke="#c8b034" stroke-width="1.26" stroke-opacity="0.55"/>
<line x1="190" y1="433.0" x2="492" y2="469.2" stroke="#c8b034" stroke-width="1.8" stroke-opacity="0.9"/>
<line x1="492" y1="469.2" x2="650" y2="488.2" stroke="#c8b034" stroke-width="1.26" stroke-opacity="0.55"/>
<line x1="190" y1="436.0" x2="492" y2="472.2" stroke="#c8b034" stroke-width="1.8" stroke-opacity="0.9"/>
<line x1="492" y1="472.2" x2="650" y2="491.2" stroke="#c8b034" stroke-width="1.26" stroke-opacity="0.55"/>
<line x1="190" y1="439.0" x2="492" y2="475.2" stroke="#c8b034" stroke-width="1.8" stroke-opacity="0.9"/>
<line x1="492" y1="475.2" x2="650" y2="494.2" stroke="#c8b034" stroke-width="1.26" stroke-opacity="0.55"/>
<line x1="190" y1="442.0" x2="492" y2="478.2" stroke="#c8b034" stroke-width="1.8" stroke-opacity="0.9"/>
<line x1="492" y1="478.2" x2="650" y2="497.2" stroke="#c8b034" stroke-width="1.26" stroke-opacity="0.55"/>
<line x1="190" y1="445.0" x2="492" y2="481.2" stroke="#c8b034" stroke-width="1.8" stroke-opacity="0.9"/>
<line x1="492" y1="481.2" x2="650" y2="500.2" stroke="#c8b034" stroke-width="1.26" stroke-opacity="0.55"/>
<line x1="190" y1="448.0" x2="492" y2="484.2" stroke="#c8b034" stroke-width="1.8" stroke-opacity="0.9"/>
<line x1="492" y1="484.2" x2="650" y2="503.2" stroke="#c8b034" stroke-width="1.26" stroke-opacity="0.55"/>
<line x1="190" y1="451.0" x2="492" y2="487.2" stroke="#c8b034" stroke-width="1.8" stroke-opacity="0.9"/>
<line x1="492" y1="487.2" x2="650" y2="506.2" stroke="#c8b034" stroke-width="1.26" stroke-opacity="0.55"/>
<line x1="190" y1="454.0" x2="492" y2="490.2" stroke="#c8b034" stroke-width="1.8" stroke-opacity="0.9"/>
<line x1="492" y1="490.2" x2="650" y2="509.2" stroke="#c8b034" stroke-width="1.26" stroke-opacity="0.55"/>
<line x1="190" y1="457.0" x2="492" y2="493.2" stroke="#c8b034" stroke-width="1.8" stroke-opacity="0.9"/>
<line x1="492" y1="493.2" x2="650" y2="512.2" stroke="#c8b034" stroke-width="1.26" stroke-opacity="0.55"/>
<line x1="190" y1="460.0" x2="492" y2="496.2" stroke="#c8b034" stroke-width="1.8" stroke-opacity="0.9"/>
<line x1="492" y1="496.2" x2="650" y2="515.2" stroke="#c8b034" stroke-width="1.26" stroke-opacity="0.55"/>
<line x1="190" y1="463.0" x2="492" y2="499.2" stroke="#c8b034" stroke-width="1.8" stroke-opacity="0.9"/>
<line x1="492" y1="499.2" x2="650" y2="518.2" stroke="#c8b034" stroke-width="1.26" stroke-opacity="0.55"/>
<line x1="190" y1="466.0" x2="492" y2="502.2" stroke="#c8b034" stroke-width="1.8" stroke-opacity="0.9"/>
<line x1="492" y1="502.2" x2="650" y2="521.2" stroke="#c8b034" stroke-width="1.26" stroke-opacity="0.55"/>
<line x1="190" y1="469.0" x2="492" y2="505.2" stroke="#c8b034" stroke-width="1.8" stroke-opacity="0.9"/>
<line x1="492" y1="505.2" x2="650" y2="524.2" stroke="#c8b034" stroke-width="1.26" stroke-opacity="0.55"/>
<line x1="190" y1="472.0" x2="492" y2="508.2" stroke="#c8b034" stroke-width="1.8" stroke-opacity="0.9"/>
<line x1="492" y1="508.2" x2="650" y2="527.2" stroke="#c8b034" stroke-width="1.26" stroke-opacity="0.55"/>
<line x1="190" y1="475.0" x2="492" y2="511.2" stroke="#c8b034" stroke-width="1.8" stroke-opacity="0.9"/>
<line x1="492" y1="511.2" x2="650" y2="530.2" stroke="#c8b034" stroke-width="1.26" stroke-opacity="0.55"/>
<line x1="190" y1="478.0" x2="492" y2="514.2" stroke="#c8b034" stroke-width="1.8" stroke-opacity="0.9"/>
<line x1="492" y1="514.2" x2="650" y2="533.2" stroke="#c8b034" stroke-width="1.26" stroke-opacity="0.55"/>
<line x1="190" y1="481.0" x2="492" y2="517.2" stroke="#c8b034" stroke-width="1.8" stroke-opacity="0.9"/>
<line x1="492" y1="517.2" x2="650" y2="536.2" stroke="#c8b034" stroke-width="1.26" stroke-opacity="0.55"/>
<line x1="190" y1="484.0" x2="492" y2="520.2" stroke="#c8b034" stroke-width="1.8" stroke-opacity="0.9"/>
<line x1="492" y1="520.2" x2="650" y2="539.2" stroke="#c8b034" stroke-width="1.26" stroke-opacity="0.55"/>
<line x1="190" y1="487.0" x2="492" y2="523.2" stroke="#c8b034" stroke-width="1.8" stroke-opacity="0.9"/>
<line x1="492" y1="523.2" x2="650" y2="542.2" stroke="#c8b034" stroke-width="1.26" stroke-opacity="0.55"/>
<line x1="190" y1="490.0" x2="492" y2="526.2" stroke="#c8b034" stroke-width="1.8" stroke-opacity="0.9"/>
<line x1="492" y1="526.2" x2="650" y2="545.2" stroke="#c8b034" stroke-width="1.26" stroke-opacity="0.55"/>
<line x1="190" y1="493.0" x2="492" y2="529.2" stroke="#c8b034" stroke-width="1.8" stroke-opacity="0.9"/>
<line x1="492" y1="529.2" x2="650" y2="548.2" stroke="#c8b034" stroke-width="1.26" stroke-opacity="0.55"/>
<line x1="190" y1="496.0" x2="492" y2="532.2" stroke="#c8b034" stroke-width="1.8" stroke-opacity="0.9"/>
<line x1="492" y1="532.2" x2="650" y2="551.2" stroke="#c8b034" stroke-width="1.26" stroke-opacity="0.55"/>
<line x1="190" y1="499.0" x2="492" y2="535.2" stroke="#c8b034" stroke-width="1.8" stroke-opacity="0.9"/>
<line x1="492" y1="535.2" x2="650" y2="554.2" stroke="#c8b034" stroke-width="1.26" stroke-opacity="0.55"/>
<line x1="190" y1="502.0" x2="492" y2="538.2" stroke="#c8b034" stroke-width="1.8" stroke-opacity="0.9"/>
<line x1="492" y1="538.2" x2="650" y2="557.2" stroke="#c8b034" stroke-width="1.26" stroke-opacity="0.55"/>
<line x1="190" y1="505.0" x2="492" y2="541.2" stroke="#c8b034" stroke-width="1.8" stroke-opacity="0.9"/>
<line x1="492" y1="541.2" x2="650" y2="560.2" stroke="#c8b034" stroke-width="1.26" stroke-opacity="0.55"/>
<line x1="190" y1="508.0" x2="492" y2="544.2" stroke="#c8b034" stroke-width="1.8" stroke-opacity="0.9"/>
<line x1="492" y1="544.2" x2="650" y2="563.2" stroke="#c8b034" stroke-width="1.26" stroke-opacity="0.55"/>
<line x1="190" y1="511.0" x2="492" y2="547.2" stroke="#c8b034" stroke-width="1.8" stroke-opacity="0.9"/>
<line x1="492" y1="547.2" x2="650" y2="566.2" stroke="#c8b034" stroke-width="1.26" stroke-opacity="0.55"/>
<line x1="190" y1="514.0" x2="492" y2="550.2" stroke="#c8b034" stroke-width="1.8" stroke-opacity="0.9"/>
<line x1="492" y1="550.2" x2="650" y2="569.2" stroke="#c8b034" stroke-width="1.26" stroke-opacity="0.55"/>
<line x1="190" y1="517.0" x2="492" y2="553.2" stroke="#c8b034" stroke-width="1.8" stroke-opacity="0.9"/>
<line x1="492" y1="553.2" x2="650" y2="572.2" stroke="#c8b034" stroke-width="1.26" stroke-opacity="0.55"/>
<line x1="190" y1="520.0" x2="492" y2="556.2" stroke="#c8b034" stroke-width="1.8" stroke-opacity="0.9"/>
<line x1="492" y1="556.2" x2="650" y2="575.2" stroke="#c8b034" stroke-width="1.26" stroke-opacity="0.55"/>
<line x1="190" y1="523.0" x2="492" y2="559.2" stroke="#c8b034" stroke-width="1.8" stroke-opacity="0.9"/>
<line x1="492" y1="559.2" x2="650" y2="578.2" stroke="#c8b034" stroke-width="1.26" stroke-opacity="0.55"/>
<line x1="190" y1="526.0" x2="492" y2="562.2" stroke="#c8b034" stroke-width="1.8" stroke-opacity="0.9"/>
<line x1="492" y1="562.2" x2="650" y2="581.2" stroke="#c8b034" stroke-width="1.26" stroke-opacity="0.55"/>
<line x1="190" y1="529.0" x2="492" y2="565.2" stroke="#c8b034" stroke-width="1.8" stroke-opacity="0.9"/>
<line x1="492" y1="565.2" x2="650" y2="584.2" stroke="#c8b034" stroke-width="1.26" stroke-opacity="0.55"/>
<line x1="190" y1="532.0" x2="492" y2="568.2" stroke="#c8b034" stroke-width="1.8" stroke-opacity="0.9"/>
<line x1="492" y1="568.2" x2="650" y2="587.2" stroke="#c8b034" stroke-width="1.26" stroke-opacity="0.55"/>
<line x1="190" y1="535.0" x2="492" y2="571.2" stroke="#c8b034" stroke-width="1.8" stroke-opacity="0.9"/>
<line x1="492" y1="571.2" x2="650" y2="590.2" stroke="#c8b034" stroke-width="1.26" stroke-opacity="0.55"/>
<line x1="190" y1="538.0" x2="492" y2="574.2" stroke="#c8b034" stroke-width="1.8" stroke-opacity="0.9"/>
<line x1="492" y1="574.2" x2="650" y2="593.2" stroke="#c8b034" stroke-width="1.26" stroke-opacity="0.55"/>
<line x1="190" y1="541.0" x2="492" y2="577.2" stroke="#c8b034" stroke-width="1.8" stroke-opacity="0.9"/>
<line x1="492" y1="577.2" x2="650" y2="596.2" stroke="#c8b034" stroke-width="1.26" stroke-opacity="0.55"/>
<line x1="190" y1="544.0" x2="492" y2="580.2" stroke="#c8b034" stroke-width="1.8" stroke-opacity="0.9"/>
<line x1="492" y1="580.2" x2="650" y2="599.2" stroke="#c8b034" stroke-width="1.26" stroke-opacity="0.55"/>
<line x1="190" y1="547.0" x2="492" y2="583.2" stroke="#c8b034" stroke-width="1.8" stroke-opacity="0.9"/>
<line x1="492" y1="583.2" x2="650" y2="602.2" stroke="#c8b034" stroke-width="1.26" stroke-opacity="0.55"/>
<line x1="190" y1="550.0" x2="492" y2="586.2" stroke="#c8b034" stroke-width="1.8" stroke-opacity="0.9"/>
<line x1="492" y1="586.2" x2="650" y2="605.2" stroke="#c8b034" stroke-width="1.26" stroke-opacity="0.55"/>
<line x1="190" y1="553.0" x2="492" y2="589.2" stroke="#c8b034" stroke-width="1.8" stroke-opacity="0.9"/>
<line x1="492" y1="589.2" x2="650" y2="608.2" stroke="#c8b034" stroke-width="1.26" stroke-opacity="0.55"/>
<line x1="190" y1="556.0" x2="492" y2="592.2" stroke="#c8b034" stroke-width="1.8" stroke-opacity="0.9"/>
<line x1="492" y1="592.2" x2="650" y2="611.2" stroke="#c8b034" stroke-width="1.26" stroke-opacity="0.55"/>
<line x1="190" y1="559.0" x2="492" y2="595.2" stroke="#c8b034" stroke-width="1.8" stroke-opacity="0.9"/>
<line x1="492" y1="595.2" x2="650" y2="614.2" stroke="#c8b034" stroke-width="1.26" stroke-opacity="0.55"/>
<line x1="190" y1="562.0" x2="492" y2="598.2" stroke="#c8b034" stroke-width="1.8" stroke-opacity="0.9"/>
<line x1="492" y1="598.2" x2="650" y2="617.2" stroke="#c8b034" stroke-width="1.26" stroke-opacity="0.55"/>
<line x1="190" y1="565.0" x2="492" y2="601.2" stroke="#c8b034" stroke-width="1.8" stroke-opacity="0.9"/>
<line x1="492" y1="601.2" x2="650" y2="620.2" stroke="#c8b034" stroke-width="1.26" stroke-opacity="0.55"/>
<line x1="190" y1="568.0" x2="492" y2="604.2" stroke="#c8b034" stroke-width="1.8" stroke-opacity="0.9"/>
<line x1="492" y1="604.2" x2="650" y2="623.2" stroke="#c8b034" stroke-width="1.26" stroke-opacity="0.55"/>
<line x1="190" y1="571.0" x2="492" y2="607.2" stroke="#c8b034" stroke-width="1.8" stroke-opacity="0.9"/>
<line x1="492" y1="607.2" x2="650" y2="626.2" stroke="#c8b034" stroke-width="1.26" stroke-opacity="0.55"/>
<line x1="190" y1="574.0" x2="492" y2="610.2" stroke="#c8b034" stroke-width="1.8" stroke-opacity="0.9"/>
<line x1="492" y1="610.2" x2="650" y2="629.2" stroke="#c8b034" stroke-width="1.26" stroke-opacity="0.55"/>
<line x1="190" y1="577.0" x2="492" y2="613.2" stroke="#c8b034" stroke-width="1.8" stroke-opacity="0.9"/>
<line x1="492" y1="613.2" x2="650" y2="632.2" stroke="#c8b034" stroke-width="1.26" stroke-opacity="0.55"/>
<line x1="190" y1="580.0" x2="492" y2="616.2" stroke="#c8b034" stroke-width="1.8" stroke-opacity="0.9"/>
<line x1="492" y1="616.2" x2="650" y2="635.2" stroke="#c8b034" stroke-width="1.26" stroke-opacity="0.55"/>
<line x1="190" y1="583.0" x2="492" y2="619.2" stroke="#c8b034" stroke-width="1.8" stroke-opacity="0.9"/>
<line x1="492" y1="619.2" x2="650" y2="638.2" stroke="#c8b034" stroke-width="1.26" stroke-opacity="0.55"/>
</g>
<g clip-path="url(#kha)">
<line x1="441.9" y1="332.6" x2="598.5" y2="370.5" stroke="#5cc8a0" stroke-width="1.0" stroke-opacity="0.9"/>
<line x1="397.0" y1="307.1" x2="498.5" y2="347.3" stroke="#48bce0" stroke-width="1.0" stroke-opacity="0.9"/>
<line x1="429.9" y1="329.1" x2="577.8" y2="373.3" stroke="#a2dc40" stroke-width="1.0" stroke-opacity="0.9"/>
<line x1="546.2" y1="359.9" x2="745.0" y2="425.4" stroke="#5cc8a0" stroke-width="1.0" stroke-opacity="0.9"/>
<line x1="481.4" y1="342.9" x2="566.9" y2="375.0" stroke="#5cc8a0" stroke-width="1.0" stroke-opacity="0.9"/>
<line x1="391.1" y1="312.0" x2="494.2" y2="352.4" stroke="#5cc8a0" stroke-width="1.0" stroke-opacity="0.9"/>
<line x1="566.9" y1="371.3" x2="774.3" y2="445.0" stroke="#a2dc40" stroke-width="1.0" stroke-opacity="0.9"/>
<line x1="569.3" y1="368.7" x2="650.8" y2="404.4" stroke="#2a5ce0" stroke-width="1.0" stroke-opacity="0.9"/>
<line x1="405.3" y1="312.2" x2="619.8" y2="353.3" stroke="#a2dc40" stroke-width="1.0" stroke-opacity="0.9"/>
<line x1="582.5" y1="374.2" x2="775.9" y2="424.3" stroke="#5cc8a0" stroke-width="1.0" stroke-opacity="0.9"/>
<line x1="471.2" y1="344.8" x2="675.9" y2="408.8" stroke="#86d048" stroke-width="1.0" stroke-opacity="0.9"/>
<line x1="602.7" y1="379.5" x2="688.8" y2="408.9" stroke="#2a5ce0" stroke-width="1.0" stroke-opacity="0.9"/>
<line x1="630.8" y1="384.6" x2="805.0" y2="438.2" stroke="#48bce0" stroke-width="1.0" stroke-opacity="0.9"/>
<line x1="544.6" y1="368.0" x2="624.5" y2="384.6" stroke="#a2dc40" stroke-width="1.0" stroke-opacity="0.9"/>
<line x1="602.0" y1="379.4" x2="790.1" y2="407.5" stroke="#a2dc40" stroke-width="1.0" stroke-opacity="0.9"/>
<line x1="613.2" y1="372.0" x2="739.7" y2="405.0" stroke="#86d048" stroke-width="1.0" stroke-opacity="0.9"/>
<line x1="391.5" y1="310.5" x2="566.4" y2="334.1" stroke="#2a5ce0" stroke-width="1.0" stroke-opacity="0.9"/>
<line x1="523.2" y1="363.0" x2="621.0" y2="383.7" stroke="#86d048" stroke-width="1.0" stroke-opacity="0.9"/>
<line x1="460.5" y1="335.5" x2="525.5" y2="356.2" stroke="#48bce0" stroke-width="1.0" stroke-opacity="0.9"/>
<line x1="632.6" y1="378.8" x2="802.9" y2="414.1" stroke="#2a5ce0" stroke-width="1.0" stroke-opacity="0.9"/>
<line x1="461.6" y1="344.8" x2="582.0" y2="394.9" stroke="#a2dc40" stroke-width="1.0" stroke-opacity="0.9"/>
<line x1="606.2" y1="374.2" x2="775.1" y2="442.8" stroke="#86d048" stroke-width="1.0" stroke-opacity="0.9"/>
<line x1="541.2" y1="366.8" x2="670.2" y2="403.9" stroke="#48bce0" stroke-width="1.0" stroke-opacity="0.9"/>
<line x1="623.5" y1="378.3" x2="732.0" y2="400.5" stroke="#2a5ce0" stroke-width="1.0" stroke-opacity="0.9"/>
<line x1="383.0" y1="304.5" x2="446.2" y2="324.2" stroke="#5cc8a0" stroke-width="1.0" stroke-opacity="0.9"/>
<line x1="533.2" y1="357.2" x2="646.4" y2="394.4" stroke="#2a5ce0" stroke-width="1.0" stroke-opacity="0.9"/>
<line x1="556.6" y1="363.9" x2="734.7" y2="426.9" stroke="#86d048" stroke-width="1.0" stroke-opacity="0.9"/>
<line x1="533.2" y1="365.4" x2="652.3" y2="380.5" stroke="#a2dc40" stroke-width="1.0" stroke-opacity="0.9"/>
<line x1="457.6" y1="339.6" x2="547.3" y2="355.6" stroke="#2a5ce0" stroke-width="1.0" stroke-opacity="0.9"/>
<line x1="599.4" y1="371.6" x2="676.2" y2="400.8" stroke="#86d048" stroke-width="1.0" stroke-opacity="0.9"/>
<line x1="632.6" y1="382.8" x2="772.6" y2="405.6" stroke="#2a5ce0" stroke-width="1.0" stroke-opacity="0.9"/>
<line x1="442.1" y1="329.1" x2="613.8" y2="374.4" stroke="#86d048" stroke-width="1.0" stroke-opacity="0.9"/>
<line x1="536.2" y1="366.0" x2="632.1" y2="398.8" stroke="#48bce0" stroke-width="1.0" stroke-opacity="0.9"/>
<line x1="400.8" y1="316.1" x2="551.7" y2="345.1" stroke="#2a5ce0" stroke-width="1.0" stroke-opacity="0.9"/>
<line x1="438.5" y1="326.9" x2="529.0" y2="353.6" stroke="#5cc8a0" stroke-width="1.0" stroke-opacity="0.9"/>
<line x1="427.7" y1="323.8" x2="590.4" y2="386.6" stroke="#5cc8a0" stroke-width="1.0" stroke-opacity="0.9"/>
<line x1="469.8" y1="339.7" x2="656.8" y2="380.1" stroke="#2a5ce0" stroke-width="1.0" stroke-opacity="0.9"/>
<line x1="500.8" y1="355.1" x2="651.8" y2="387.6" stroke="#86d048" stroke-width="1.0" stroke-opacity="0.9"/>
<line x1="619.4" y1="374.6" x2="830.3" y2="400.2" stroke="#5cc8a0" stroke-width="1.0" stroke-opacity="0.9"/>
<line x1="636.6" y1="381.2" x2="845.0" y2="471.5" stroke="#48bce0" stroke-width="1.0" stroke-opacity="0.9"/>
<line x1="388.4" y1="307.5" x2="568.1" y2="373.7" stroke="#2a5ce0" stroke-width="1.0" stroke-opacity="0.9"/>
<line x1="521.4" y1="362.3" x2="718.7" y2="442.1" stroke="#2a5ce0" stroke-width="1.0" stroke-opacity="0.9"/>
<line x1="411.2" y1="315.9" x2="599.7" y2="340.7" stroke="#5cc8a0" stroke-width="1.0" stroke-opacity="0.9"/>
<line x1="620.2" y1="382.2" x2="772.5" y2="445.7" stroke="#86d048" stroke-width="1.0" stroke-opacity="0.9"/>
<line x1="505.1" y1="351.0" x2="603.3" y2="379.1" stroke="#86d048" stroke-width="1.0" stroke-opacity="0.9"/>
<line x1="516.5" y1="356.5" x2="674.4" y2="424.4" stroke="#2a5ce0" stroke-width="1.0" stroke-opacity="0.9"/>
<line x1="412.6" y1="323.9" x2="602.5" y2="380.5" stroke="#86d048" stroke-width="1.0" stroke-opacity="0.9"/>
<line x1="471.5" y1="341.0" x2="662.2" y2="397.5" stroke="#48bce0" stroke-width="1.0" stroke-opacity="0.9"/>
<line x1="442.3" y1="330.1" x2="522.8" y2="363.4" stroke="#86d048" stroke-width="1.0" stroke-opacity="0.9"/>
<line x1="506.8" y1="355.9" x2="687.8" y2="401.5" stroke="#48bce0" stroke-width="1.0" stroke-opacity="0.9"/>
<line x1="449.8" y1="335.8" x2="585.5" y2="371.0" stroke="#86d048" stroke-width="1.0" stroke-opacity="0.9"/>
<line x1="602.8" y1="377.4" x2="670.8" y2="386.6" stroke="#a2dc40" stroke-width="1.0" stroke-opacity="0.9"/>
<line x1="633.4" y1="384.7" x2="773.8" y2="405.5" stroke="#2a5ce0" stroke-width="1.0" stroke-opacity="0.9"/>
<line x1="420.8" y1="318.6" x2="543.2" y2="348.9" stroke="#2a5ce0" stroke-width="1.0" stroke-opacity="0.9"/>
<line x1="473.8" y1="341.8" x2="553.6" y2="360.1" stroke="#5cc8a0" stroke-width="1.0" stroke-opacity="0.9"/>
<line x1="380.9" y1="306.7" x2="531.6" y2="364.3" stroke="#86d048" stroke-width="1.0" stroke-opacity="0.9"/>
<line x1="477.1" y1="347.2" x2="597.9" y2="392.9" stroke="#86d048" stroke-width="1.0" stroke-opacity="0.9"/>
<line x1="542.0" y1="361.9" x2="681.3" y2="395.7" stroke="#2a5ce0" stroke-width="1.0" stroke-opacity="0.9"/>
<line x1="489.3" y1="352.3" x2="588.5" y2="379.3" stroke="#5cc8a0" stroke-width="1.0" stroke-opacity="0.9"/>
<line x1="450.2" y1="336.6" x2="546.1" y2="373.5" stroke="#48bce0" stroke-width="1.0" stroke-opacity="0.9"/>
<line x1="608.7" y1="380.2" x2="812.4" y2="429.8" stroke="#2a5ce0" stroke-width="1.0" stroke-opacity="0.9"/>
<line x1="411.6" y1="320.6" x2="588.6" y2="396.7" stroke="#5cc8a0" stroke-width="1.0" stroke-opacity="0.9"/>
<line x1="586.0" y1="373.0" x2="736.3" y2="427.4" stroke="#86d048" stroke-width="1.0" stroke-opacity="0.9"/>
<line x1="591.0" y1="374.5" x2="688.8" y2="401.5" stroke="#a2dc40" stroke-width="1.0" stroke-opacity="0.9"/>
<line x1="391.5" y1="305.3" x2="592.4" y2="336.0" stroke="#48bce0" stroke-width="1.0" stroke-opacity="0.9"/>
<line x1="593.1" y1="371.1" x2="657.1" y2="396.9" stroke="#86d048" stroke-width="1.0" stroke-opacity="0.9"/>
<line x1="555.1" y1="368.5" x2="707.8" y2="434.8" stroke="#86d048" stroke-width="1.0" stroke-opacity="0.9"/>
<line x1="389.4" y1="311.1" x2="563.9" y2="361.5" stroke="#86d048" stroke-width="1.0" stroke-opacity="0.9"/>
<line x1="524.2" y1="355.0" x2="672.2" y2="399.8" stroke="#5cc8a0" stroke-width="1.0" stroke-opacity="0.9"/>
<line x1="426.9" y1="321.4" x2="590.3" y2="394.8" stroke="#a2dc40" stroke-width="1.0" stroke-opacity="0.9"/>
<line x1="527.8" y1="400.3" x2="631.9" y2="372.4" stroke="#a2dc40" stroke-width="1.0" stroke-opacity="0.85"/>
<line x1="605.3" y1="399.9" x2="710.3" y2="353.7" stroke="#48bce0" stroke-width="1.0" stroke-opacity="0.85"/>
<line x1="613.5" y1="399.6" x2="692.8" y2="370.0" stroke="#5cc8a0" stroke-width="1.0" stroke-opacity="0.85"/>
<line x1="561.5" y1="400.1" x2="679.5" y2="364.1" stroke="#a2dc40" stroke-width="1.0" stroke-opacity="0.85"/>
<line x1="595.4" y1="399.1" x2="745.2" y2="372.3" stroke="#5cc8a0" stroke-width="1.0" stroke-opacity="0.85"/>
<line x1="608.2" y1="400.0" x2="684.5" y2="368.9" stroke="#48bce0" stroke-width="1.0" stroke-opacity="0.85"/>
<line x1="415.2" y1="399.8" x2="577.4" y2="330.0" stroke="#5cc8a0" stroke-width="1.0" stroke-opacity="0.85"/>
<line x1="608.8" y1="399.4" x2="718.4" y2="359.8" stroke="#5cc8a0" stroke-width="1.0" stroke-opacity="0.85"/>
<line x1="520.3" y1="399.3" x2="583.1" y2="385.8" stroke="#a2dc40" stroke-width="1.0" stroke-opacity="0.85"/>
<line x1="573.0" y1="399.2" x2="661.6" y2="370.7" stroke="#a2dc40" stroke-width="1.0" stroke-opacity="0.85"/>
<line x1="565.8" y1="399.1" x2="683.4" y2="346.5" stroke="#5cc8a0" stroke-width="1.0" stroke-opacity="0.85"/>
<line x1="429.4" y1="400.0" x2="567.7" y2="341.8" stroke="#86d048" stroke-width="1.0" stroke-opacity="0.85"/>
<line x1="495.5" y1="400.2" x2="603.5" y2="356.3" stroke="#86d048" stroke-width="1.0" stroke-opacity="0.85"/>
<line x1="492.2" y1="399.3" x2="638.3" y2="367.0" stroke="#86d048" stroke-width="1.0" stroke-opacity="0.85"/>
<line x1="610.1" y1="400.5" x2="692.8" y2="382.1" stroke="#2a5ce0" stroke-width="1.0" stroke-opacity="0.85"/>
<line x1="413.0" y1="400.0" x2="477.4" y2="377.3" stroke="#2a5ce0" stroke-width="1.0" stroke-opacity="0.85"/>
<line x1="420.7" y1="398.9" x2="491.6" y2="384.4" stroke="#86d048" stroke-width="1.0" stroke-opacity="0.85"/>
<line x1="408.3" y1="399.3" x2="472.6" y2="372.0" stroke="#a2dc40" stroke-width="1.0" stroke-opacity="0.85"/>
<line x1="519.3" y1="400.2" x2="619.4" y2="384.9" stroke="#a2dc40" stroke-width="1.0" stroke-opacity="0.85"/>
<line x1="471.1" y1="399.0" x2="620.2" y2="347.8" stroke="#a2dc40" stroke-width="1.0" stroke-opacity="0.85"/>
<line x1="473.8" y1="399.9" x2="566.8" y2="382.6" stroke="#a2dc40" stroke-width="1.0" stroke-opacity="0.85"/>
<line x1="407.0" y1="400.6" x2="478.6" y2="370.3" stroke="#2a5ce0" stroke-width="1.0" stroke-opacity="0.85"/>
<line x1="542.8" y1="399.5" x2="682.4" y2="359.7" stroke="#2a5ce0" stroke-width="1.0" stroke-opacity="0.85"/>
<line x1="405.7" y1="400.7" x2="533.6" y2="368.5" stroke="#5cc8a0" stroke-width="1.0" stroke-opacity="0.85"/>
<line x1="407.2" y1="399.8" x2="553.4" y2="362.4" stroke="#5cc8a0" stroke-width="1.0" stroke-opacity="0.85"/>
<line x1="558.1" y1="400.1" x2="636.1" y2="371.3" stroke="#2a5ce0" stroke-width="1.0" stroke-opacity="0.85"/>
<line x1="593.6" y1="400.1" x2="765.4" y2="368.0" stroke="#48bce0" stroke-width="1.0" stroke-opacity="0.85"/>
<line x1="601.0" y1="400.1" x2="711.4" y2="362.0" stroke="#2a5ce0" stroke-width="1.0" stroke-opacity="0.85"/>
<line x1="535.4" y1="399.7" x2="616.6" y2="379.9" stroke="#86d048" stroke-width="1.0" stroke-opacity="0.85"/>
<line x1="405.8" y1="399.2" x2="534.9" y2="358.4" stroke="#a2dc40" stroke-width="1.0" stroke-opacity="0.85"/>
<line x1="466.2" y1="399.3" x2="630.9" y2="355.7" stroke="#86d048" stroke-width="1.0" stroke-opacity="0.85"/>
<line x1="494.9" y1="399.3" x2="616.7" y2="355.7" stroke="#2a5ce0" stroke-width="1.0" stroke-opacity="0.85"/>
<line x1="606.8" y1="399.7" x2="675.1" y2="372.9" stroke="#a2dc40" stroke-width="1.0" stroke-opacity="0.85"/>
<line x1="583.3" y1="399.0" x2="655.2" y2="382.4" stroke="#86d048" stroke-width="1.0" stroke-opacity="0.85"/>
<line x1="515.4" y1="400.6" x2="659.2" y2="374.2" stroke="#5cc8a0" stroke-width="1.0" stroke-opacity="0.85"/>
<line x1="480.0" y1="400.3" x2="629.8" y2="341.1" stroke="#5cc8a0" stroke-width="1.0" stroke-opacity="0.85"/>
<line x1="525.9" y1="400.5" x2="651.3" y2="351.7" stroke="#48bce0" stroke-width="1.0" stroke-opacity="0.85"/>
<line x1="516.4" y1="399.2" x2="670.2" y2="364.6" stroke="#86d048" stroke-width="1.0" stroke-opacity="0.85"/>
<line x1="582.2" y1="399.7" x2="739.9" y2="356.8" stroke="#2a5ce0" stroke-width="1.0" stroke-opacity="0.85"/>
<line x1="512.6" y1="400.0" x2="689.9" y2="339.7" stroke="#2a5ce0" stroke-width="1.0" stroke-opacity="0.85"/>
</g>
</g>
<polygon points="68.5,161.6 71.3,162.4 75.2,163.6 79.9,165.0 84.9,166.5 90.1,168.0 95.0,169.3 99.9,170.4 105.0,171.6 110.1,172.6 115.3,173.7 120.2,174.8 124.8,175.9 129.0,177.1 132.9,178.3 136.7,179.5 140.3,180.7 143.9,182.0 147.6,183.3 151.3,184.6 155.1,185.8 158.8,187.1 162.5,188.4 166.2,189.9 170.0,191.5 173.7,193.2 177.2,195.1 180.7,197.0 184.4,199.1 188.5,201.3 193.2,203.8 198.6,206.6 204.7,209.6 211.2,212.9 217.7,216.2 224.1,219.4 230.0,222.5 235.4,225.4 240.6,228.2 245.6,231.0 250.5,233.7 255.2,236.4 260.0,239.0 264.5,241.4 268.6,243.7 272.7,245.9 276.9,248.2 281.6,250.7 287.0,253.5 293.2,256.6 299.9,260.1 307.1,263.7 314.6,267.4 322.2,271.2 330.0,275.0 337.9,278.9 346.1,282.9 354.6,286.9 363.1,291.0 371.6,295.0 380.0,299.0 388.6,303.0 397.4,307.1 406.2,311.2 414.7,315.1 422.7,318.8 430.0,322.0 436.3,324.8 441.8,327.2 446.9,329.3 451.6,331.2 456.4,333.1 461.4,335.1 466.6,337.1 471.9,339.2 477.1,341.1 482.3,343.1 487.6,344.9 492.8,346.5 498.0,348.0 503.3,349.3 508.5,350.6 513.7,351.7 519.0,352.9 524.2,354.0 529.4,355.1 534.6,356.2 539.9,357.2 545.1,358.2 550.3,359.2 555.5,360.2 560.7,361.2 566.0,362.3 571.2,363.3 576.4,364.4 581.7,365.4 586.9,366.5 592.2,367.6 597.7,368.7 603.2,369.8 608.6,370.8 613.7,371.8 618.3,372.8 622.7,373.7 626.9,374.7 630.9,375.5 634.4,376.3 637.3,377.0 639.5,377.5 640.0,377.5 618.3,372.8 586.9,366.5 555.5,360.2 524.2,354.0 505.0,351.5 495.0,350.0 484.0,348.0 459.0,344.8 440.0,343.6 420.0,341.5 389.6,337.0 330.0,318.4 300.0,305.5 260.0,290.5 230.0,277.2 208.3,269.4 192.6,264.2 166.3,254.3 144.0,244.3 104.0,227.6 68.5,212.8" fill="#fcbd0a"/>
<clipPath id="upa"><polygon points="68.5,161.6 71.3,162.4 75.2,163.6 79.9,165.0 84.9,166.5 90.1,168.0 95.0,169.3 99.9,170.4 105.0,171.6 110.1,172.6 115.3,173.7 120.2,174.8 124.8,175.9 129.0,177.1 132.9,178.3 136.7,179.5 140.3,180.7 143.9,182.0 147.6,183.3 151.3,184.6 155.1,185.8 158.8,187.1 162.5,188.4 166.2,189.9 170.0,191.5 173.7,193.2 177.2,195.1 180.7,197.0 184.4,199.1 188.5,201.3 193.2,203.8 198.6,206.6 204.7,209.6 211.2,212.9 217.7,216.2 224.1,219.4 230.0,222.5 235.4,225.4 240.6,228.2 245.6,231.0 250.5,233.7 255.2,236.4 260.0,239.0 264.5,241.4 268.6,243.7 272.7,245.9 276.9,248.2 281.6,250.7 287.0,253.5 293.2,256.6 299.9,260.1 307.1,263.7 314.6,267.4 322.2,271.2 330.0,275.0 337.9,278.9 346.1,282.9 354.6,286.9 363.1,291.0 371.6,295.0 380.0,299.0 388.6,303.0 397.4,307.1 406.2,311.2 414.7,315.1 422.7,318.8 430.0,322.0 436.3,324.8 441.8,327.2 446.9,329.3 451.6,331.2 456.4,333.1 461.4,335.1 466.6,337.1 471.9,339.2 477.1,341.1 482.3,343.1 487.6,344.9 492.8,346.5 498.0,348.0 503.3,349.3 508.5,350.6 513.7,351.7 519.0,352.9 524.2,354.0 529.4,355.1 534.6,356.2 539.9,357.2 545.1,358.2 550.3,359.2 555.5,360.2 560.7,361.2 566.0,362.3 571.2,363.3 576.4,364.4 581.7,365.4 586.9,366.5 592.2,367.6 597.7,368.7 603.2,369.8 608.6,370.8 613.7,371.8 618.3,372.8 622.7,373.7 626.9,374.7 630.9,375.5 634.4,376.3 637.3,377.0 639.5,377.5 640.0,377.5 618.3,372.8 586.9,366.5 555.5,360.2 524.2,354.0 505.0,351.5 495.0,350.0 484.0,348.0 459.0,344.8 440.0,343.6 420.0,341.5 389.6,337.0 330.0,318.4 300.0,305.5 260.0,290.5 230.0,277.2 208.3,269.4 192.6,264.2 166.3,254.3 144.0,244.3 104.0,227.6 68.5,212.8"/></clipPath>
<polygon points="129.0,177.1 132.9,178.3 136.7,179.5 140.3,180.7 143.9,182.0 147.6,183.3 151.3,184.6 155.1,185.8 158.8,187.1 162.5,188.4 166.2,189.9 170.0,191.5 173.7,193.2 177.2,195.1 180.7,197.0 184.4,199.1 188.5,201.3 192.3,203.8 196.0,211.0 202.8,217.8 208.0,223.0 215.0,228.3 223.0,235.0 232.6,241.4 241.0,245.0 250.0,247.6 259.0,249.6 267.6,251.0 276.0,252.5 285.1,253.7 287.0,253.5 293.2,256.6 299.9,260.1 307.1,263.7 314.6,267.4 322.2,271.2 330.0,275.0 337.9,278.9 346.1,282.9 354.6,286.9 363.1,291.0 371.6,295.0 380.0,299.0 388.6,303.0 397.4,307.1 400.0,310.0 387.0,304.5 360.0,293.0 330.0,281.0 300.0,267.0 284.8,262.0 261.5,258.0 238.1,251.0 217.1,240.5 205.0,234.5 195.0,229.0 180.0,222.0 163.4,212.8 147.0,200.0 136.0,186.0 125.9,175.9" fill="#ec1a0a"/>
<g clip-path="url(#upa)">
<line x1="72.0" y1="162.7" x2="81.3" y2="214.3" stroke="#8c8070" stroke-width="0.45" stroke-opacity="0.32"/>
<line x1="77.6" y1="164.3" x2="85.3" y2="216.6" stroke="#8c8070" stroke-width="0.45" stroke-opacity="0.32"/>
<line x1="83.2" y1="166.0" x2="86.4" y2="218.9" stroke="#8c8070" stroke-width="0.45" stroke-opacity="0.32"/>
<line x1="88.8" y1="167.6" x2="93.1" y2="221.3" stroke="#8c8070" stroke-width="0.45" stroke-opacity="0.32"/>
<line x1="94.4" y1="169.1" x2="101.8" y2="223.6" stroke="#8c8070" stroke-width="0.45" stroke-opacity="0.32"/>
<line x1="100.0" y1="170.5" x2="103.8" y2="225.9" stroke="#8c8070" stroke-width="0.45" stroke-opacity="0.32"/>
<line x1="105.6" y1="171.7" x2="113.9" y2="228.3" stroke="#8c8070" stroke-width="0.45" stroke-opacity="0.32"/>
<line x1="111.2" y1="172.8" x2="115.8" y2="230.6" stroke="#8c8070" stroke-width="0.45" stroke-opacity="0.32"/>
<line x1="116.8" y1="174.0" x2="121.0" y2="232.9" stroke="#8c8070" stroke-width="0.45" stroke-opacity="0.32"/>
<line x1="122.4" y1="175.3" x2="129.8" y2="235.3" stroke="#8c8070" stroke-width="0.45" stroke-opacity="0.32"/>
<line x1="128.0" y1="176.8" x2="132.4" y2="237.6" stroke="#8c8070" stroke-width="0.45" stroke-opacity="0.32"/>
<line x1="133.6" y1="178.5" x2="142.1" y2="240.0" stroke="#8c8070" stroke-width="0.45" stroke-opacity="0.32"/>
<line x1="139.2" y1="180.4" x2="143.7" y2="242.3" stroke="#8c8070" stroke-width="0.45" stroke-opacity="0.32"/>
<line x1="144.8" y1="182.3" x2="153.5" y2="244.7" stroke="#8c8070" stroke-width="0.45" stroke-opacity="0.32"/>
<line x1="150.4" y1="184.2" x2="159.9" y2="247.2" stroke="#8c8070" stroke-width="0.45" stroke-opacity="0.32"/>
<line x1="156.0" y1="186.1" x2="165.6" y2="249.7" stroke="#8c8070" stroke-width="0.45" stroke-opacity="0.32"/>
<line x1="161.6" y1="188.1" x2="165.4" y2="252.2" stroke="#8c8070" stroke-width="0.45" stroke-opacity="0.32"/>
<line x1="167.2" y1="190.3" x2="172.2" y2="254.6" stroke="#8c8070" stroke-width="0.45" stroke-opacity="0.32"/>
<line x1="172.8" y1="192.8" x2="180.4" y2="256.7" stroke="#8c8070" stroke-width="0.45" stroke-opacity="0.32"/>
<line x1="178.4" y1="195.7" x2="182.5" y2="258.9" stroke="#8c8070" stroke-width="0.45" stroke-opacity="0.32"/>
<line x1="184.0" y1="198.8" x2="190.3" y2="261.0" stroke="#8c8070" stroke-width="0.45" stroke-opacity="0.32"/>
<line x1="189.6" y1="201.9" x2="193.2" y2="263.1" stroke="#8c8070" stroke-width="0.45" stroke-opacity="0.32"/>
<line x1="195.2" y1="204.8" x2="204.7" y2="265.1" stroke="#8c8070" stroke-width="0.45" stroke-opacity="0.32"/>
<line x1="200.8" y1="207.7" x2="204.0" y2="266.9" stroke="#8c8070" stroke-width="0.45" stroke-opacity="0.32"/>
<line x1="206.4" y1="210.5" x2="213.7" y2="268.8" stroke="#8c8070" stroke-width="0.45" stroke-opacity="0.32"/>
<line x1="212.0" y1="213.3" x2="218.5" y2="270.7" stroke="#8c8070" stroke-width="0.45" stroke-opacity="0.32"/>
<line x1="217.6" y1="216.1" x2="224.1" y2="272.7" stroke="#8c8070" stroke-width="0.45" stroke-opacity="0.32"/>
<line x1="223.2" y1="219.0" x2="226.3" y2="274.8" stroke="#8c8070" stroke-width="0.45" stroke-opacity="0.32"/>
<line x1="228.8" y1="221.9" x2="234.2" y2="276.8" stroke="#8c8070" stroke-width="0.45" stroke-opacity="0.32"/>
<line x1="234.4" y1="224.8" x2="239.7" y2="279.2" stroke="#8c8070" stroke-width="0.45" stroke-opacity="0.32"/>
<line x1="240.0" y1="227.9" x2="245.4" y2="281.6" stroke="#8c8070" stroke-width="0.45" stroke-opacity="0.32"/>
<line x1="245.6" y1="231.0" x2="253.5" y2="284.1" stroke="#8c8070" stroke-width="0.45" stroke-opacity="0.32"/>
<line x1="251.2" y1="234.1" x2="254.8" y2="286.6" stroke="#8c8070" stroke-width="0.45" stroke-opacity="0.32"/>
<line x1="256.8" y1="237.2" x2="265.7" y2="289.1" stroke="#8c8070" stroke-width="0.45" stroke-opacity="0.32"/>
<line x1="262.4" y1="240.3" x2="270.8" y2="291.4" stroke="#8c8070" stroke-width="0.45" stroke-opacity="0.32"/>
<line x1="268.0" y1="243.4" x2="271.2" y2="293.5" stroke="#8c8070" stroke-width="0.45" stroke-opacity="0.32"/>
<line x1="273.6" y1="246.4" x2="277.2" y2="295.6" stroke="#8c8070" stroke-width="0.45" stroke-opacity="0.32"/>
<line x1="279.2" y1="249.4" x2="289.2" y2="297.7" stroke="#8c8070" stroke-width="0.45" stroke-opacity="0.32"/>
<line x1="284.8" y1="252.4" x2="294.8" y2="299.8" stroke="#8c8070" stroke-width="0.45" stroke-opacity="0.32"/>
<line x1="290.4" y1="255.2" x2="294.8" y2="301.9" stroke="#8c8070" stroke-width="0.45" stroke-opacity="0.32"/>
<line x1="296.0" y1="258.1" x2="299.4" y2="304.0" stroke="#8c8070" stroke-width="0.45" stroke-opacity="0.32"/>
<line x1="301.6" y1="260.9" x2="306.0" y2="306.2" stroke="#8c8070" stroke-width="0.45" stroke-opacity="0.32"/>
<line x1="307.2" y1="263.7" x2="315.1" y2="308.6" stroke="#8c8070" stroke-width="0.45" stroke-opacity="0.32"/>
<line x1="312.8" y1="266.5" x2="317.3" y2="311.0" stroke="#8c8070" stroke-width="0.45" stroke-opacity="0.32"/>
<line x1="318.4" y1="269.3" x2="323.6" y2="313.4" stroke="#8c8070" stroke-width="0.45" stroke-opacity="0.32"/>
<line x1="324.0" y1="272.1" x2="332.5" y2="315.8" stroke="#8c8070" stroke-width="0.45" stroke-opacity="0.32"/>
<line x1="329.6" y1="274.8" x2="335.5" y2="318.2" stroke="#8c8070" stroke-width="0.45" stroke-opacity="0.32"/>
<line x1="335.2" y1="277.5" x2="344.1" y2="320.0" stroke="#8c8070" stroke-width="0.45" stroke-opacity="0.32"/>
<line x1="340.8" y1="280.3" x2="348.7" y2="321.8" stroke="#8c8070" stroke-width="0.45" stroke-opacity="0.32"/>
<line x1="346.4" y1="283.0" x2="352.1" y2="323.5" stroke="#8c8070" stroke-width="0.45" stroke-opacity="0.32"/>
<line x1="352.0" y1="285.7" x2="358.3" y2="325.3" stroke="#8c8070" stroke-width="0.45" stroke-opacity="0.32"/>
<line x1="357.6" y1="288.4" x2="361.1" y2="327.0" stroke="#8c8070" stroke-width="0.45" stroke-opacity="0.32"/>
<line x1="363.2" y1="291.0" x2="372.2" y2="328.8" stroke="#8c8070" stroke-width="0.45" stroke-opacity="0.32"/>
<line x1="368.8" y1="293.7" x2="373.3" y2="330.5" stroke="#8c8070" stroke-width="0.45" stroke-opacity="0.32"/>
<line x1="374.4" y1="296.4" x2="380.8" y2="332.3" stroke="#8c8070" stroke-width="0.45" stroke-opacity="0.32"/>
<line x1="380.0" y1="299.0" x2="383.2" y2="334.0" stroke="#8c8070" stroke-width="0.45" stroke-opacity="0.32"/>
<line x1="385.6" y1="301.6" x2="391.8" y2="335.8" stroke="#8c8070" stroke-width="0.45" stroke-opacity="0.32"/>
<line x1="391.2" y1="304.2" x2="399.0" y2="337.2" stroke="#8c8070" stroke-width="0.45" stroke-opacity="0.32"/>
<line x1="396.8" y1="306.8" x2="402.9" y2="338.1" stroke="#8c8070" stroke-width="0.45" stroke-opacity="0.32"/>
<line x1="402.4" y1="309.4" x2="408.6" y2="338.9" stroke="#8c8070" stroke-width="0.45" stroke-opacity="0.32"/>
<line x1="408.0" y1="312.0" x2="411.3" y2="339.7" stroke="#8c8070" stroke-width="0.45" stroke-opacity="0.32"/>
<line x1="413.6" y1="314.6" x2="418.4" y2="340.6" stroke="#8c8070" stroke-width="0.45" stroke-opacity="0.32"/>
<line x1="419.2" y1="317.1" x2="428.1" y2="341.4" stroke="#8c8070" stroke-width="0.45" stroke-opacity="0.32"/>
<line x1="424.8" y1="319.7" x2="430.9" y2="342.0" stroke="#8c8070" stroke-width="0.45" stroke-opacity="0.32"/>
<line x1="430.4" y1="322.2" x2="435.9" y2="342.6" stroke="#8c8070" stroke-width="0.45" stroke-opacity="0.32"/>
<line x1="436.0" y1="324.6" x2="441.8" y2="343.2" stroke="#8c8070" stroke-width="0.45" stroke-opacity="0.32"/>
<line x1="441.6" y1="327.1" x2="451.4" y2="343.7" stroke="#8c8070" stroke-width="0.45" stroke-opacity="0.32"/>
<line x1="447.2" y1="329.4" x2="455.8" y2="344.1" stroke="#8c8070" stroke-width="0.45" stroke-opacity="0.32"/>
<line x1="452.8" y1="331.7" x2="457.6" y2="344.4" stroke="#8c8070" stroke-width="0.45" stroke-opacity="0.32"/>
<line x1="458.4" y1="333.9" x2="464.0" y2="344.8" stroke="#8c8070" stroke-width="0.45" stroke-opacity="0.32"/>
<line x1="464.0" y1="336.1" x2="473.0" y2="345.4" stroke="#8c8070" stroke-width="0.45" stroke-opacity="0.32"/>
<line x1="469.6" y1="338.3" x2="476.3" y2="346.2" stroke="#8c8070" stroke-width="0.45" stroke-opacity="0.32"/>
<line x1="475.2" y1="340.4" x2="479.3" y2="346.9" stroke="#8c8070" stroke-width="0.45" stroke-opacity="0.32"/>
<line x1="480.8" y1="342.5" x2="484.0" y2="347.6" stroke="#8c8070" stroke-width="0.45" stroke-opacity="0.32"/>
<line x1="486.4" y1="344.4" x2="493.5" y2="348.4" stroke="#8c8070" stroke-width="0.45" stroke-opacity="0.32"/>
<line x1="70.0" y1="183.7" x2="117.3" y2="189.1" stroke="#8c8070" stroke-width="0.45" stroke-opacity="0.32"/>
<line x1="79.0" y1="191.1" x2="119.5" y2="196.9" stroke="#8c8070" stroke-width="0.45" stroke-opacity="0.32"/>
<line x1="88.0" y1="203.8" x2="127.1" y2="210.9" stroke="#8c8070" stroke-width="0.45" stroke-opacity="0.32"/>
<line x1="97.0" y1="173.2" x2="147.0" y2="179.5" stroke="#8c8070" stroke-width="0.45" stroke-opacity="0.32"/>
<line x1="106.0" y1="175.5" x2="148.3" y2="188.6" stroke="#8c8070" stroke-width="0.45" stroke-opacity="0.32"/>
<line x1="115.0" y1="215.2" x2="148.5" y2="223.1" stroke="#8c8070" stroke-width="0.45" stroke-opacity="0.32"/>
<line x1="124.0" y1="186.5" x2="160.7" y2="191.7" stroke="#8c8070" stroke-width="0.45" stroke-opacity="0.32"/>
<line x1="133.0" y1="223.3" x2="178.8" y2="235.4" stroke="#8c8070" stroke-width="0.45" stroke-opacity="0.32"/>
<line x1="142.0" y1="197.2" x2="201.3" y2="210.6" stroke="#8c8070" stroke-width="0.45" stroke-opacity="0.32"/>
<line x1="151.0" y1="224.6" x2="209.7" y2="233.5" stroke="#8c8070" stroke-width="0.45" stroke-opacity="0.32"/>
<line x1="160.0" y1="217.1" x2="186.1" y2="224.5" stroke="#8c8070" stroke-width="0.45" stroke-opacity="0.32"/>
<line x1="169.0" y1="242.1" x2="205.1" y2="246.7" stroke="#8c8070" stroke-width="0.45" stroke-opacity="0.32"/>
<line x1="178.0" y1="218.7" x2="206.1" y2="228.8" stroke="#8c8070" stroke-width="0.45" stroke-opacity="0.32"/>
<line x1="187.0" y1="207.4" x2="235.8" y2="211.6" stroke="#8c8070" stroke-width="0.45" stroke-opacity="0.32"/>
<line x1="196.0" y1="230.4" x2="237.9" y2="236.3" stroke="#8c8070" stroke-width="0.45" stroke-opacity="0.32"/>
<line x1="205.0" y1="234.6" x2="241.6" y2="247.6" stroke="#8c8070" stroke-width="0.45" stroke-opacity="0.32"/>
<line x1="214.0" y1="249.4" x2="250.9" y2="258.2" stroke="#8c8070" stroke-width="0.45" stroke-opacity="0.32"/>
<line x1="223.0" y1="235.9" x2="271.1" y2="243.7" stroke="#8c8070" stroke-width="0.45" stroke-opacity="0.32"/>
<line x1="232.0" y1="256.8" x2="279.1" y2="264.8" stroke="#8c8070" stroke-width="0.45" stroke-opacity="0.32"/>
<line x1="241.0" y1="269.2" x2="272.4" y2="277.3" stroke="#8c8070" stroke-width="0.45" stroke-opacity="0.32"/>
<line x1="250.0" y1="255.8" x2="294.2" y2="265.2" stroke="#8c8070" stroke-width="0.45" stroke-opacity="0.32"/>
<line x1="259.0" y1="271.0" x2="298.1" y2="283.4" stroke="#8c8070" stroke-width="0.45" stroke-opacity="0.32"/>
<line x1="268.0" y1="278.3" x2="306.5" y2="291.7" stroke="#8c8070" stroke-width="0.45" stroke-opacity="0.32"/>
<line x1="277.0" y1="263.5" x2="308.4" y2="275.5" stroke="#8c8070" stroke-width="0.45" stroke-opacity="0.32"/>
<line x1="286.0" y1="270.7" x2="326.6" y2="281.7" stroke="#8c8070" stroke-width="0.45" stroke-opacity="0.32"/>
<line x1="295.0" y1="271.6" x2="348.7" y2="280.7" stroke="#8c8070" stroke-width="0.45" stroke-opacity="0.32"/>
<line x1="304.0" y1="289.8" x2="361.0" y2="300.7" stroke="#8c8070" stroke-width="0.45" stroke-opacity="0.32"/>
<line x1="313.0" y1="300.5" x2="339.5" y2="306.2" stroke="#8c8070" stroke-width="0.45" stroke-opacity="0.32"/>
<line x1="322.0" y1="298.0" x2="375.8" y2="302.9" stroke="#8c8070" stroke-width="0.45" stroke-opacity="0.32"/>
<line x1="331.0" y1="300.0" x2="379.1" y2="307.2" stroke="#8c8070" stroke-width="0.45" stroke-opacity="0.32"/>
<line x1="340.0" y1="300.7" x2="393.0" y2="305.2" stroke="#8c8070" stroke-width="0.45" stroke-opacity="0.32"/>
<line x1="349.0" y1="304.6" x2="375.7" y2="313.3" stroke="#8c8070" stroke-width="0.45" stroke-opacity="0.32"/>
<line x1="358.0" y1="315.6" x2="405.6" y2="329.6" stroke="#8c8070" stroke-width="0.45" stroke-opacity="0.32"/>
<line x1="367.0" y1="294.9" x2="398.8" y2="306.8" stroke="#8c8070" stroke-width="0.45" stroke-opacity="0.32"/>
<line x1="376.0" y1="323.4" x2="412.8" y2="330.5" stroke="#8c8070" stroke-width="0.45" stroke-opacity="0.32"/>
<line x1="385.0" y1="314.8" x2="438.8" y2="320.9" stroke="#8c8070" stroke-width="0.45" stroke-opacity="0.32"/>
<line x1="394.0" y1="323.8" x2="453.2" y2="337.2" stroke="#8c8070" stroke-width="0.45" stroke-opacity="0.32"/>
<line x1="403.0" y1="314.8" x2="462.5" y2="319.9" stroke="#8c8070" stroke-width="0.45" stroke-opacity="0.32"/>
<line x1="412.0" y1="321.4" x2="444.3" y2="333.9" stroke="#8c8070" stroke-width="0.45" stroke-opacity="0.32"/>
<line x1="421.0" y1="328.7" x2="463.7" y2="341.8" stroke="#8c8070" stroke-width="0.45" stroke-opacity="0.32"/>
<line x1="430.0" y1="328.6" x2="485.9" y2="340.4" stroke="#8c8070" stroke-width="0.45" stroke-opacity="0.32"/>
<line x1="439.0" y1="333.6" x2="485.8" y2="338.0" stroke="#8c8070" stroke-width="0.45" stroke-opacity="0.32"/>
<line x1="448.0" y1="339.4" x2="493.9" y2="352.0" stroke="#8c8070" stroke-width="0.45" stroke-opacity="0.32"/>
<line x1="457.0" y1="336.1" x2="515.0" y2="342.6" stroke="#8c8070" stroke-width="0.45" stroke-opacity="0.32"/>
<line x1="466.0" y1="339.4" x2="505.0" y2="351.7" stroke="#8c8070" stroke-width="0.45" stroke-opacity="0.32"/>
<line x1="126.0" y1="176.2" x2="120.0" y2="202.8" stroke="#ec1a0a" stroke-width="0.6" stroke-opacity="0.8"/>
<line x1="132.5" y1="178.1" x2="126.5" y2="195.0" stroke="#ec1a0a" stroke-width="0.6" stroke-opacity="0.8"/>
<line x1="139.0" y1="180.3" x2="133.0" y2="203.6" stroke="#ec1a0a" stroke-width="0.6" stroke-opacity="0.8"/>
<line x1="145.5" y1="182.6" x2="139.5" y2="208.9" stroke="#ec1a0a" stroke-width="0.6" stroke-opacity="0.8"/>
<line x1="152.0" y1="184.8" x2="146.0" y2="211.7" stroke="#ec1a0a" stroke-width="0.6" stroke-opacity="0.8"/>
<line x1="158.5" y1="187.0" x2="152.5" y2="208.8" stroke="#ec1a0a" stroke-width="0.6" stroke-opacity="0.8"/>
<line x1="165.0" y1="189.4" x2="159.0" y2="215.7" stroke="#ec1a0a" stroke-width="0.6" stroke-opacity="0.8"/>
<line x1="171.5" y1="192.2" x2="165.5" y2="220.4" stroke="#ec1a0a" stroke-width="0.6" stroke-opacity="0.8"/>
<line x1="178.0" y1="195.5" x2="172.0" y2="215.5" stroke="#ec1a0a" stroke-width="0.6" stroke-opacity="0.8"/>
<line x1="184.5" y1="199.1" x2="178.5" y2="230.2" stroke="#ec1a0a" stroke-width="0.6" stroke-opacity="0.8"/>
<line x1="191.0" y1="202.6" x2="185.0" y2="225.2" stroke="#ec1a0a" stroke-width="0.6" stroke-opacity="0.8"/>
<line x1="197.5" y1="206.0" x2="191.5" y2="227.4" stroke="#ec1a0a" stroke-width="0.6" stroke-opacity="0.8"/>
<line x1="204.0" y1="209.3" x2="198.0" y2="226.3" stroke="#ec1a0a" stroke-width="0.6" stroke-opacity="0.8"/>
<line x1="210.5" y1="212.6" x2="204.5" y2="227.7" stroke="#ec1a0a" stroke-width="0.6" stroke-opacity="0.8"/>
<line x1="217.0" y1="215.8" x2="211.0" y2="235.9" stroke="#ec1a0a" stroke-width="0.6" stroke-opacity="0.8"/>
<line x1="223.5" y1="219.1" x2="217.5" y2="245.1" stroke="#ec1a0a" stroke-width="0.6" stroke-opacity="0.8"/>
<line x1="230.0" y1="222.5" x2="224.0" y2="243.3" stroke="#ec1a0a" stroke-width="0.6" stroke-opacity="0.8"/>
<line x1="236.5" y1="226.0" x2="230.5" y2="244.2" stroke="#ec1a0a" stroke-width="0.6" stroke-opacity="0.8"/>
<line x1="243.0" y1="229.6" x2="237.0" y2="257.4" stroke="#ec1a0a" stroke-width="0.6" stroke-opacity="0.8"/>
<line x1="249.5" y1="233.2" x2="243.5" y2="263.9" stroke="#ec1a0a" stroke-width="0.6" stroke-opacity="0.8"/>
<line x1="256.0" y1="236.8" x2="250.0" y2="263.5" stroke="#ec1a0a" stroke-width="0.6" stroke-opacity="0.8"/>
<line x1="262.5" y1="240.4" x2="256.5" y2="261.6" stroke="#ec1a0a" stroke-width="0.6" stroke-opacity="0.8"/>
<line x1="269.0" y1="243.9" x2="263.0" y2="272.3" stroke="#ec1a0a" stroke-width="0.6" stroke-opacity="0.8"/>
<line x1="275.5" y1="247.5" x2="269.5" y2="263.6" stroke="#ec1a0a" stroke-width="0.6" stroke-opacity="0.8"/>
<line x1="282.0" y1="250.9" x2="276.0" y2="274.7" stroke="#ec1a0a" stroke-width="0.6" stroke-opacity="0.8"/>
<line x1="288.5" y1="254.3" x2="282.5" y2="273.5" stroke="#ec1a0a" stroke-width="0.6" stroke-opacity="0.8"/>
<line x1="295.0" y1="257.6" x2="289.0" y2="286.8" stroke="#ec1a0a" stroke-width="0.6" stroke-opacity="0.8"/>
<line x1="301.5" y1="260.9" x2="295.5" y2="276.9" stroke="#ec1a0a" stroke-width="0.6" stroke-opacity="0.8"/>
<line x1="308.0" y1="264.1" x2="302.0" y2="283.1" stroke="#ec1a0a" stroke-width="0.6" stroke-opacity="0.8"/>
<line x1="314.5" y1="267.4" x2="308.5" y2="289.8" stroke="#ec1a0a" stroke-width="0.6" stroke-opacity="0.8"/>
<line x1="321.0" y1="270.6" x2="315.0" y2="289.8" stroke="#ec1a0a" stroke-width="0.6" stroke-opacity="0.8"/>
<line x1="327.5" y1="273.8" x2="321.5" y2="294.3" stroke="#ec1a0a" stroke-width="0.6" stroke-opacity="0.8"/>
<line x1="334.0" y1="277.0" x2="328.0" y2="304.7" stroke="#ec1a0a" stroke-width="0.6" stroke-opacity="0.8"/>
<line x1="340.5" y1="280.1" x2="334.5" y2="298.6" stroke="#ec1a0a" stroke-width="0.6" stroke-opacity="0.8"/>
<line x1="347.0" y1="283.3" x2="341.0" y2="302.0" stroke="#ec1a0a" stroke-width="0.6" stroke-opacity="0.8"/>
<line x1="353.5" y1="286.4" x2="347.5" y2="316.3" stroke="#ec1a0a" stroke-width="0.6" stroke-opacity="0.8"/>
<line x1="360.0" y1="289.5" x2="354.0" y2="317.0" stroke="#ec1a0a" stroke-width="0.6" stroke-opacity="0.8"/>
<line x1="366.5" y1="292.6" x2="360.5" y2="315.5" stroke="#ec1a0a" stroke-width="0.6" stroke-opacity="0.8"/>
<line x1="373.0" y1="295.7" x2="367.0" y2="322.8" stroke="#ec1a0a" stroke-width="0.6" stroke-opacity="0.8"/>
<line x1="379.5" y1="298.8" x2="373.5" y2="328.3" stroke="#ec1a0a" stroke-width="0.6" stroke-opacity="0.8"/>
<line x1="128.0" y1="176.8" x2="146.0" y2="206.8" stroke="#f0c040" stroke-width="0.5" stroke-opacity="0.6"/>
<line x1="133.5" y1="178.5" x2="151.5" y2="208.5" stroke="#f0c040" stroke-width="0.5" stroke-opacity="0.6"/>
<line x1="139.0" y1="180.3" x2="157.0" y2="210.3" stroke="#f0c040" stroke-width="0.5" stroke-opacity="0.6"/>
<line x1="144.5" y1="182.2" x2="162.5" y2="212.2" stroke="#f0c040" stroke-width="0.5" stroke-opacity="0.6"/>
<line x1="150.0" y1="184.1" x2="168.0" y2="214.1" stroke="#f0c040" stroke-width="0.5" stroke-opacity="0.6"/>
<line x1="155.5" y1="186.0" x2="173.5" y2="216.0" stroke="#f0c040" stroke-width="0.5" stroke-opacity="0.6"/>
<line x1="161.0" y1="187.9" x2="179.0" y2="217.9" stroke="#f0c040" stroke-width="0.5" stroke-opacity="0.6"/>
<line x1="166.5" y1="190.0" x2="184.5" y2="220.0" stroke="#f0c040" stroke-width="0.5" stroke-opacity="0.6"/>
<line x1="172.0" y1="192.5" x2="190.0" y2="222.5" stroke="#f0c040" stroke-width="0.5" stroke-opacity="0.6"/>
<line x1="177.5" y1="195.2" x2="195.5" y2="225.2" stroke="#f0c040" stroke-width="0.5" stroke-opacity="0.6"/>
<line x1="183.0" y1="198.3" x2="201.0" y2="228.3" stroke="#f0c040" stroke-width="0.5" stroke-opacity="0.6"/>
<line x1="188.5" y1="201.3" x2="206.5" y2="231.3" stroke="#f0c040" stroke-width="0.5" stroke-opacity="0.6"/>
<line x1="194.0" y1="204.2" x2="212.0" y2="234.2" stroke="#f0c040" stroke-width="0.5" stroke-opacity="0.6"/>
<line x1="199.5" y1="207.0" x2="217.5" y2="237.0" stroke="#f0c040" stroke-width="0.5" stroke-opacity="0.6"/>
<line x1="205.0" y1="209.8" x2="223.0" y2="239.8" stroke="#f0c040" stroke-width="0.5" stroke-opacity="0.6"/>
<line x1="210.5" y1="212.6" x2="228.5" y2="242.6" stroke="#f0c040" stroke-width="0.5" stroke-opacity="0.6"/>
<line x1="216.0" y1="215.3" x2="234.0" y2="245.3" stroke="#f0c040" stroke-width="0.5" stroke-opacity="0.6"/>
<line x1="221.5" y1="218.1" x2="239.5" y2="248.1" stroke="#f0c040" stroke-width="0.5" stroke-opacity="0.6"/>
<line x1="227.0" y1="220.9" x2="245.0" y2="250.9" stroke="#f0c040" stroke-width="0.5" stroke-opacity="0.6"/>
<line x1="232.5" y1="223.8" x2="250.5" y2="253.8" stroke="#f0c040" stroke-width="0.5" stroke-opacity="0.6"/>
<line x1="238.0" y1="226.8" x2="256.0" y2="256.8" stroke="#f0c040" stroke-width="0.5" stroke-opacity="0.6"/>
<line x1="243.5" y1="229.8" x2="261.5" y2="259.8" stroke="#f0c040" stroke-width="0.5" stroke-opacity="0.6"/>
<line x1="249.0" y1="232.9" x2="267.0" y2="262.9" stroke="#f0c040" stroke-width="0.5" stroke-opacity="0.6"/>
<line x1="254.5" y1="236.0" x2="272.5" y2="266.0" stroke="#f0c040" stroke-width="0.5" stroke-opacity="0.6"/>
<line x1="260.0" y1="239.0" x2="278.0" y2="269.0" stroke="#f0c040" stroke-width="0.5" stroke-opacity="0.6"/>
<line x1="265.5" y1="242.0" x2="283.5" y2="272.0" stroke="#f0c040" stroke-width="0.5" stroke-opacity="0.6"/>
<line x1="271.0" y1="245.0" x2="289.0" y2="275.0" stroke="#f0c040" stroke-width="0.5" stroke-opacity="0.6"/>
<line x1="276.5" y1="248.0" x2="294.5" y2="278.0" stroke="#f0c040" stroke-width="0.5" stroke-opacity="0.6"/>
<line x1="282.0" y1="250.9" x2="300.0" y2="280.9" stroke="#f0c040" stroke-width="0.5" stroke-opacity="0.6"/>
<line x1="287.5" y1="253.8" x2="305.5" y2="283.8" stroke="#f0c040" stroke-width="0.5" stroke-opacity="0.6"/>
<path d="M68.5,163.0 C70.8,165.2 77.3,171.7 82.0,176.0 C86.7,180.3 90.0,184.8 96.7,188.7 C103.4,192.6 113.8,196.3 122.4,199.2 C131.0,202.1 138.4,203.3 148.1,206.2 C157.8,209.1 169.7,212.9 180.8,216.7 C192.0,220.5 203.5,224.6 215.0,229.0 C226.5,233.4 244.2,240.7 250.0,243.0" fill="none" stroke="#58e020" stroke-width="1.8" stroke-opacity="0.9" />
<path d="M68.5,164.0 C70.8,166.3 77.3,173.6 82.0,178.0 C86.7,182.4 90.0,186.8 96.7,190.7 C103.4,194.6 113.8,198.3 122.4,201.2 C131.0,204.1 138.4,205.3 148.1,208.2 C157.8,211.1 169.7,214.9 180.8,218.7 C192.0,222.5 203.5,226.6 215.0,231.0 C226.5,235.4 244.2,242.7 250.0,245.0" fill="none" stroke="#a0ea28" stroke-width="1.8" stroke-opacity="0.9" />
<path d="M68.5,165.0 C70.8,167.5 77.3,175.4 82.0,180.0 C86.7,184.6 90.0,188.8 96.7,192.7 C103.4,196.6 113.8,200.3 122.4,203.2 C131.0,206.1 138.4,207.3 148.1,210.2 C157.8,213.1 169.7,216.9 180.8,220.7 C192.0,224.5 203.5,228.6 215.0,233.0 C226.5,237.4 244.2,244.7 250.0,247.0" fill="none" stroke="#d0f030" stroke-width="1.8" stroke-opacity="0.9" />
<path d="M150.0,188.0 C151.7,192.0 156.0,205.0 160.0,212.0 C164.0,219.0 168.0,223.8 174.2,230.0 C180.3,236.2 186.8,242.1 196.9,249.0 C207.0,255.9 222.2,265.4 234.9,271.7 C247.6,278.0 260.2,282.1 272.8,286.9 C285.4,291.6 298.2,296.1 310.8,300.2 C323.4,304.3 333.8,307.5 348.7,311.6 C363.6,315.7 391.4,322.7 400.0,324.9" fill="none" stroke="#f08020" stroke-width="1.9" stroke-opacity="0.9" />
<path d="M151.5,188.5 C153.2,192.5 157.5,205.5 161.5,212.5 C165.5,219.5 169.5,224.3 175.7,230.5 C181.8,236.7 188.3,242.6 198.4,249.5 C208.5,256.4 223.8,265.9 236.4,272.2 C249.1,278.5 261.7,282.6 274.3,287.4 C286.9,292.1 299.7,296.6 312.3,300.7 C324.9,304.8 335.3,308.0 350.2,312.1 C365.1,316.2 392.9,323.2 401.5,325.4" fill="none" stroke="#f08020" stroke-width="1.9" stroke-opacity="0.9" />
<path d="M212.0,222.0 C214.0,223.7 220.2,229.0 224.0,232.0 C227.8,235.0 229.9,236.5 234.9,240.0 C239.9,243.5 245.7,247.5 253.9,253.0 C262.1,258.5 274.7,267.2 284.2,273.0 C293.7,278.8 300.1,282.8 310.8,288.0 C321.6,293.2 335.5,299.0 348.7,304.0 C361.9,309.0 383.1,315.7 390.0,318.0" fill="none" stroke="#f08020" stroke-width="1.9" stroke-opacity="0.9" />
<path d="M213.5,222.5 C215.5,224.2 221.7,229.5 225.5,232.5 C229.3,235.5 231.4,237.0 236.4,240.5 C241.4,244.0 247.2,248.0 255.4,253.5 C263.6,259.0 276.2,267.7 285.7,273.5 C295.2,279.3 301.6,283.3 312.3,288.5 C323.1,293.7 337.0,299.5 350.2,304.5 C363.4,309.5 384.6,316.2 391.5,318.5" fill="none" stroke="#f08020" stroke-width="1.9" stroke-opacity="0.9" />
<path d="M157.4,212.0 C160.5,214.3 169.9,219.9 176.1,226.1 C182.3,232.3 188.3,242.8 194.8,249.4 C201.3,256.1 207.5,260.6 215.0,266.0 C222.5,271.4 235.8,279.3 240.0,282.0" fill="none" stroke="#f08020" stroke-width="1.9" stroke-opacity="0.9" />
<path d="M158.9,212.5 C162.0,214.8 171.4,220.4 177.6,226.6 C183.8,232.8 189.8,243.2 196.3,249.9 C202.8,256.6 209.0,261.1 216.5,266.5 C224.0,271.9 237.3,279.8 241.5,282.5" fill="none" stroke="#f08020" stroke-width="1.9" stroke-opacity="0.9" />
<path d="M270.0,246.0 C275.0,249.7 290.0,261.5 300.0,268.0 C310.0,274.5 318.3,279.3 330.0,285.0 C341.7,290.7 355.0,296.5 370.0,302.0 C385.0,307.5 411.7,315.3 420.0,318.0" fill="none" stroke="#f08020" stroke-width="1.9" stroke-opacity="0.9" />
<path d="M271.5,246.5 C276.5,250.2 291.5,262.0 301.5,268.5 C311.5,275.0 319.8,279.8 331.5,285.5 C343.2,291.2 356.5,297.0 371.5,302.5 C386.5,308.0 413.2,315.8 421.5,318.5" fill="none" stroke="#f08020" stroke-width="1.9" stroke-opacity="0.9" />
</g>
<g clip-path="url(#slopea)">
<path d="M69.0,168.0 C69.2,170.8 69.6,179.7 70.0,185.0 C70.4,190.3 69.8,195.2 71.5,200.0 C73.2,204.8 77.4,208.9 80.4,214.0 C83.4,219.1 86.2,225.3 89.7,230.4 C93.2,235.5 96.7,240.1 101.4,244.4 C106.1,248.7 111.1,252.2 117.7,256.1 C124.3,260.0 133.3,264.2 141.1,267.7 C148.9,271.2 156.6,274.4 164.4,277.1 C172.2,279.8 179.2,282.0 187.8,284.1 C196.4,286.2 206.3,288.1 215.8,289.9 C225.3,291.7 240.1,294.1 245.0,295.0" fill="none" stroke="#a0a09c" stroke-width="1.2" stroke-opacity="0.9" />
<path d="M69.0,168.0 C69.2,170.9 69.6,179.9 70.0,185.3 C70.4,190.7 69.8,195.6 71.5,200.5 C73.2,205.4 77.4,209.8 80.4,215.0 C83.4,220.2 86.2,226.3 89.7,231.4 C93.2,236.5 96.7,241.1 101.4,245.4 C106.1,249.7 111.1,253.2 117.7,257.1 C124.3,261.0 133.3,265.2 141.1,268.7 C148.9,272.2 156.6,275.4 164.4,278.1 C172.2,280.8 179.2,283.0 187.8,285.1 C196.4,287.2 206.3,289.1 215.8,290.9 C225.3,292.7 240.1,295.1 245.0,296.0" fill="none" stroke="#a0a09c" stroke-width="1.2" stroke-opacity="0.9" />
<path d="M69.0,168.0 C69.2,170.9 69.6,180.1 70.0,185.6 C70.4,191.1 69.8,195.9 71.5,201.0 C73.2,206.1 77.4,210.8 80.4,216.0 C83.4,221.2 86.2,227.3 89.7,232.4 C93.2,237.5 96.7,242.1 101.4,246.4 C106.1,250.7 111.1,254.2 117.7,258.1 C124.3,262.0 133.3,266.2 141.1,269.7 C148.9,273.2 156.6,276.4 164.4,279.1 C172.2,281.8 179.2,284.0 187.8,286.1 C196.4,288.2 206.3,290.1 215.8,291.9 C225.3,293.7 240.1,296.1 245.0,297.0" fill="none" stroke="#a0a09c" stroke-width="1.2" stroke-opacity="0.9" />
<path d="M69.0,168.0 C69.2,171.0 69.6,180.3 70.0,185.9 C70.4,191.5 69.8,196.3 71.5,201.5 C73.2,206.7 77.4,211.7 80.4,217.0 C83.4,222.3 86.2,228.3 89.7,233.4 C93.2,238.5 96.7,243.1 101.4,247.4 C106.1,251.7 111.1,255.2 117.7,259.1 C124.3,263.0 133.3,267.2 141.1,270.7 C148.9,274.2 156.6,277.4 164.4,280.1 C172.2,282.8 179.2,285.0 187.8,287.1 C196.4,289.2 206.3,291.1 215.8,292.9 C225.3,294.7 240.1,297.1 245.0,298.0" fill="none" stroke="#a0a09c" stroke-width="1.2" stroke-opacity="0.9" />
<path d="M72.0,168.0 C74.2,170.0 79.3,174.7 85.0,180.0 C90.7,185.3 99.8,193.8 106.0,200.0 C112.2,206.2 116.7,211.1 122.4,217.0 C128.1,222.9 135.8,230.5 140.0,235.3 C144.2,240.1 144.6,241.9 147.9,245.8 C151.2,249.7 154.4,254.1 159.7,258.9 C164.9,263.7 173.5,269.9 179.4,274.7 C185.3,279.5 187.8,283.1 195.2,287.8 C202.5,292.5 214.5,299.5 223.5,303.0 C232.5,306.5 241.6,306.8 249.2,309.0 C256.8,311.2 261.9,312.2 269.0,316.0 C276.1,319.8 281.7,327.0 291.8,332.0 C301.9,337.0 317.1,341.2 329.7,346.0 C342.3,350.8 356.0,356.3 367.7,361.0 C379.4,365.7 388.4,369.1 400.0,374.0 C411.6,378.9 427.6,386.1 437.6,390.4 C447.6,394.7 453.8,397.5 460.0,399.6 C466.2,401.7 472.5,402.4 475.0,403.0" fill="none" stroke="#a8e628" stroke-width="1.5" stroke-opacity="0.95" />
<path d="M72.0,168.0 C74.2,170.0 79.3,174.7 85.0,180.0 C90.7,185.3 99.8,193.8 106.0,200.0 C112.2,206.2 116.7,211.0 122.4,217.0 C128.1,223.0 135.8,231.0 140.0,236.0 C144.2,240.9 144.6,242.4 147.9,246.5 C151.2,250.5 154.4,255.3 159.7,260.2 C164.9,265.1 173.5,271.2 179.4,276.0 C185.3,280.8 187.8,284.4 195.2,289.1 C202.5,293.8 214.5,300.8 223.5,304.3 C232.5,307.8 241.6,308.1 249.2,310.3 C256.8,312.5 261.9,313.5 269.0,317.3 C276.1,321.1 281.7,328.3 291.8,333.3 C301.9,338.3 317.1,342.5 329.7,347.3 C342.3,352.1 356.0,357.6 367.7,362.3 C379.4,367.0 388.4,370.5 400.0,375.3 C411.6,380.1 427.6,387.0 437.6,391.0 C447.6,395.1 453.8,397.6 460.0,399.6 C466.2,401.6 472.5,402.4 475.0,403.0" fill="none" stroke="#7ede2a" stroke-width="1.5" stroke-opacity="0.95" />
<path d="M72.0,168.0 C74.2,170.0 79.3,174.7 85.0,180.0 C90.7,185.3 99.8,193.8 106.0,200.0 C112.2,206.2 116.7,210.9 122.4,217.0 C128.1,223.1 135.8,231.6 140.0,236.6 C144.2,241.6 144.6,243.0 147.9,247.1 C151.2,251.3 154.4,256.5 159.7,261.5 C164.9,266.5 173.5,272.5 179.4,277.3 C185.3,282.1 187.8,285.7 195.2,290.4 C202.5,295.1 214.5,302.1 223.5,305.6 C232.5,309.1 241.6,309.4 249.2,311.6 C256.8,313.8 261.9,314.8 269.0,318.6 C276.1,322.4 281.7,329.6 291.8,334.6 C301.9,339.6 317.1,343.8 329.7,348.6 C342.3,353.4 356.0,358.9 367.7,363.6 C379.4,368.3 388.4,371.9 400.0,376.6 C411.6,381.3 427.6,387.9 437.6,391.7 C447.6,395.5 453.8,397.7 460.0,399.6 C466.2,401.5 472.5,402.4 475.0,403.0" fill="none" stroke="#c8ec30" stroke-width="1.5" stroke-opacity="0.95" />
<path d="M72.0,168.0 C74.2,170.0 79.3,174.7 85.0,180.0 C90.7,185.3 99.8,193.8 106.0,200.0 C112.2,206.2 116.7,210.8 122.4,217.0 C128.1,223.2 135.8,232.1 140.0,237.2 C144.2,242.4 144.6,243.5 147.9,247.8 C151.2,252.0 154.4,257.7 159.7,262.8 C164.9,267.9 173.5,273.8 179.4,278.6 C185.3,283.4 187.8,287.0 195.2,291.7 C202.5,296.4 214.5,303.4 223.5,306.9 C232.5,310.4 241.6,310.7 249.2,312.9 C256.8,315.1 261.9,316.1 269.0,319.9 C276.1,323.7 281.7,330.9 291.8,335.9 C301.9,340.9 317.1,345.1 329.7,349.9 C342.3,354.7 356.0,360.2 367.7,364.9 C379.4,369.6 388.4,373.3 400.0,377.9 C411.6,382.5 427.6,388.7 437.6,392.3 C447.6,396.0 453.8,397.8 460.0,399.6 C466.2,401.4 472.5,402.4 475.0,403.0" fill="none" stroke="#5cd82a" stroke-width="1.5" stroke-opacity="0.95" />
<path d="M85.0,165.3 C88.5,170.4 99.8,187.1 106.0,195.7 C112.2,204.3 115.8,207.8 122.4,216.7 C129.0,225.6 139.5,241.8 145.8,249.4 C152.1,256.9 157.6,259.9 160.0,262.0" fill="none" stroke="#9be030" stroke-width="1.9" stroke-opacity="0.9" />
<path d="M86.6,165.3 C90.1,170.4 101.4,187.1 107.6,195.7 C113.8,204.3 117.4,207.8 124.0,216.7 C130.6,225.6 141.1,241.8 147.4,249.4 C153.7,256.9 159.2,259.9 161.6,262.0" fill="none" stroke="#9be030" stroke-width="1.9" stroke-opacity="0.9" />
<path d="M196.0,210.0 C197.5,215.0 202.5,231.3 205.0,240.0 C207.5,248.7 208.8,255.7 211.0,262.0 C213.2,268.3 215.8,273.7 218.0,278.0 C220.2,282.3 220.3,284.1 224.0,287.8 C227.7,291.5 233.7,296.0 240.0,300.0 C246.3,304.0 258.3,310.0 262.0,312.0" fill="none" stroke="#6fe02c" stroke-width="1.9" stroke-opacity="0.9" />
<path d="M197.6,210.0 C199.1,215.0 204.1,231.3 206.6,240.0 C209.1,248.7 210.4,255.7 212.6,262.0 C214.8,268.3 217.4,273.7 219.6,278.0 C221.8,282.3 221.9,284.1 225.6,287.8 C229.3,291.5 235.3,296.0 241.6,300.0 C247.9,304.0 259.9,310.0 263.6,312.0" fill="none" stroke="#6fe02c" stroke-width="1.9" stroke-opacity="0.9" />
<path d="M244.0,236.0 C245.3,238.3 249.6,244.8 252.0,250.0 C254.4,255.2 255.7,260.5 258.5,267.0 C261.3,273.5 265.3,282.6 269.0,289.2 C272.7,295.8 277.2,301.6 280.7,306.7 C284.2,311.8 285.9,315.8 290.0,320.0 C294.1,324.2 302.5,330.0 305.0,332.0" fill="none" stroke="#b5e838" stroke-width="1.9" stroke-opacity="0.9" />
<path d="M245.6,236.0 C246.9,238.3 251.2,244.8 253.6,250.0 C256.0,255.2 257.3,260.5 260.1,267.0 C262.9,273.5 266.9,282.6 270.6,289.2 C274.3,295.8 278.8,301.6 282.3,306.7 C285.8,311.8 287.6,315.8 291.6,320.0 C295.7,324.2 304.1,330.0 306.6,332.0" fill="none" stroke="#b5e838" stroke-width="1.9" stroke-opacity="0.9" />
<path d="M300.0,268.0 C302.0,270.3 307.1,275.7 312.0,282.0 C316.9,288.3 324.2,296.8 329.7,305.9 C335.2,314.9 338.7,327.8 345.0,336.3 C351.3,344.8 360.2,351.7 367.7,357.0 C375.2,362.3 386.3,366.2 390.0,368.0" fill="none" stroke="#8ee23a" stroke-width="1.9" stroke-opacity="0.9" />
<path d="M301.6,268.0 C303.6,270.3 308.7,275.7 313.6,282.0 C318.6,288.3 325.8,296.8 331.3,305.9 C336.8,314.9 340.3,327.8 346.6,336.3 C352.9,344.8 361.8,351.7 369.3,357.0 C376.8,362.3 387.9,366.2 391.6,368.0" fill="none" stroke="#8ee23a" stroke-width="1.9" stroke-opacity="0.9" />
<path d="M345.0,284.0 C347.8,286.7 356.9,293.2 362.0,300.0 C367.1,306.8 371.0,317.7 375.3,324.9 C379.6,332.1 383.9,337.6 388.0,343.0 C392.1,348.4 394.7,352.2 400.0,357.0 C405.3,361.8 416.7,369.5 420.0,372.0" fill="none" stroke="#5fd848" stroke-width="1.9" stroke-opacity="0.9" />
<path d="M346.6,284.0 C349.4,286.7 358.6,293.2 363.6,300.0 C368.7,306.8 372.6,317.7 376.9,324.9 C381.2,332.1 385.5,337.6 389.6,343.0 C393.7,348.4 396.3,352.2 401.6,357.0 C406.9,361.8 418.3,369.5 421.6,372.0" fill="none" stroke="#5fd848" stroke-width="1.9" stroke-opacity="0.9" />
<path d="M330.0,282.0 C332.5,285.0 339.5,292.0 344.9,300.0 C350.3,308.0 354.4,319.2 362.3,330.0 C370.2,340.8 380.8,355.6 392.0,365.0 C403.2,374.4 423.1,383.1 429.3,386.7" fill="none" stroke="#9be030" stroke-width="1.9" stroke-opacity="0.9" />
<path d="M331.6,282.0 C334.1,285.0 341.1,292.0 346.5,300.0 C351.9,308.0 356.1,319.2 363.9,330.0 C371.8,340.8 382.4,355.6 393.6,365.0 C404.8,374.4 424.7,383.1 430.9,386.7" fill="none" stroke="#9be030" stroke-width="1.9" stroke-opacity="0.9" />
<path d="M354.8,292.3 C358.9,296.9 372.2,310.9 379.6,319.6 C387.1,328.3 394.1,337.1 399.5,344.5 C404.9,351.9 406.1,357.3 411.9,364.3 C417.7,371.3 426.3,380.9 434.2,386.7 C442.1,392.5 454.9,396.9 459.0,399.0" fill="none" stroke="#6fe02c" stroke-width="1.9" stroke-opacity="0.9" />
<path d="M356.4,292.3 C360.5,296.9 373.8,310.9 381.2,319.6 C388.7,328.3 395.7,337.1 401.1,344.5 C406.5,351.9 407.7,357.3 413.5,364.3 C419.3,371.3 427.9,380.9 435.8,386.7 C443.7,392.5 456.5,396.9 460.6,399.0" fill="none" stroke="#6fe02c" stroke-width="1.9" stroke-opacity="0.9" />
<path d="M100.0,171.0 C102.0,174.2 107.7,183.2 112.0,190.0 C116.3,196.8 121.3,204.5 126.0,212.0 C130.7,219.5 135.0,227.7 140.0,235.0 C145.0,242.3 150.2,249.3 156.0,256.0 C161.8,262.7 168.5,269.7 175.0,275.0 C181.5,280.3 191.7,285.8 195.0,288.0" fill="none" stroke="#b5e838" stroke-width="1.9" stroke-opacity="0.9" />
<path d="M101.6,171.0 C103.6,174.2 109.3,183.2 113.6,190.0 C117.9,196.8 122.9,204.5 127.6,212.0 C132.3,219.5 136.6,227.7 141.6,235.0 C146.6,242.3 151.8,249.3 157.6,256.0 C163.4,262.7 170.1,269.7 176.6,275.0 C183.1,280.3 193.3,285.8 196.6,288.0" fill="none" stroke="#b5e838" stroke-width="1.9" stroke-opacity="0.9" />
<path d="M150.0,186.0 C152.2,189.2 158.3,198.0 163.0,205.0 C167.7,212.0 173.2,220.5 178.0,228.0 C182.8,235.5 187.3,243.3 192.0,250.0 C196.7,256.7 201.3,262.2 206.0,268.0 C210.7,273.8 215.0,279.7 220.0,285.0 C225.0,290.3 233.3,297.5 236.0,300.0" fill="none" stroke="#8ee23a" stroke-width="1.9" stroke-opacity="0.9" />
<path d="M151.6,186.0 C153.8,189.2 159.9,198.0 164.6,205.0 C169.3,212.0 174.8,220.5 179.6,228.0 C184.4,235.5 188.9,243.3 193.6,250.0 C198.3,256.7 202.9,262.2 207.6,268.0 C212.3,273.8 216.6,279.7 221.6,285.0 C226.6,290.3 234.9,297.5 237.6,300.0" fill="none" stroke="#8ee23a" stroke-width="1.9" stroke-opacity="0.9" />
<path d="M262.0,240.0 C264.2,243.7 270.3,254.5 275.0,262.0 C279.7,269.5 285.0,277.8 290.0,285.0 C295.0,292.2 300.0,298.8 305.0,305.0 C310.0,311.2 314.2,316.8 320.0,322.0 C325.8,327.2 336.7,333.7 340.0,336.0" fill="none" stroke="#5fd848" stroke-width="1.9" stroke-opacity="0.9" />
<path d="M263.6,240.0 C265.8,243.7 271.9,254.5 276.6,262.0 C281.3,269.5 286.6,277.8 291.6,285.0 C296.6,292.2 301.6,298.8 306.6,305.0 C311.6,311.2 315.8,316.8 321.6,322.0 C327.4,327.2 338.3,333.7 341.6,336.0" fill="none" stroke="#5fd848" stroke-width="1.9" stroke-opacity="0.9" />
<path d="M419.4,317.2 C421.9,320.1 429.6,328.7 434.2,334.5 C438.8,340.3 440.9,345.3 446.7,351.9 C452.5,358.5 460.1,368.4 469.0,374.2 C477.9,380.0 488.2,382.7 500.0,386.7 C511.8,390.7 533.3,396.1 540.0,398.0" fill="none" stroke="#30b8e8" stroke-width="1.6" stroke-opacity="0.9" />
<path d="M392.0,307.0 C395.0,310.8 402.0,321.5 410.0,330.0 C418.0,338.5 430.0,350.0 440.0,358.0 C450.0,366.0 458.3,372.0 470.0,378.0 C481.7,384.0 503.3,391.3 510.0,394.0" fill="none" stroke="#48c8d8" stroke-width="1.6" stroke-opacity="0.9" />
<path d="M470.0,340.0 C473.3,342.7 482.5,350.2 490.0,356.0 C497.5,361.8 505.0,369.3 515.0,375.0 C525.0,380.7 535.8,386.0 550.0,390.0 C564.2,394.0 591.7,397.5 600.0,399.0" fill="none" stroke="#2a70e0" stroke-width="1.6" stroke-opacity="0.9" />
<path d="M566.0,360.0 C568.3,362.2 574.7,368.8 580.0,373.0 C585.3,377.2 591.3,381.7 598.0,385.0 C604.7,388.3 613.0,391.2 620.0,393.0 C627.0,394.8 636.7,395.5 640.0,396.0" fill="none" stroke="#90d840" stroke-width="1.6" stroke-opacity="0.9" />
<path d="M430.0,322.0 C435.0,325.0 448.3,333.7 460.0,340.0 C471.7,346.3 485.0,353.7 500.0,360.0 C515.0,366.3 533.3,373.0 550.0,378.0 C566.7,383.0 591.7,388.0 600.0,390.0" fill="none" stroke="#30b8e8" stroke-width="1.6" stroke-opacity="0.9" />
<path d="M380.0,330.0 C386.7,333.0 403.3,341.7 420.0,348.0 C436.7,354.3 463.3,362.7 480.0,368.0 C496.7,373.3 513.3,378.0 520.0,380.0" fill="none" stroke="#48c8d8" stroke-width="1.6" stroke-opacity="0.9" />
<polyline points="486.0,346.8 492.0,348.7 498.0,350.5 504.0,352.0 510.0,353.4 516.0,354.7 522.0,356.0 528.0,357.3 534.0,358.5 540.0,359.7 546.0,360.9 552.0,362.0 558.0,363.2 564.0,364.4 570.0,365.6 576.0,366.8 582.0,368.0 588.0,369.2 594.0,370.4 600.0,371.6 606.0,372.8 612.0,374.0 618.0,375.2 624.0,376.5 630.0,377.8 636.0,379.2" fill="none" stroke="#1438d8" stroke-width="3.2" stroke-dasharray="9,4" stroke-opacity="0.9"/>
<polyline points="486.0,351.3 492.0,353.2 498.0,355.0 504.0,356.5 510.0,357.9 516.0,359.2 522.0,360.5 528.0,361.8 534.0,363.0 540.0,364.2 546.0,365.4 552.0,366.5 558.0,367.7 564.0,368.9 570.0,370.1 576.0,371.3 582.0,372.5 588.0,373.7 594.0,374.9 600.0,376.1 606.0,377.3 612.0,378.5 618.0,379.7 624.0,381.0 630.0,382.3 636.0,383.7" fill="none" stroke="#1438d8" stroke-width="2.6" stroke-dasharray="7,6" stroke-opacity="0.9"/>
<polyline points="486.0,355.8 492.0,357.7 498.0,359.5 504.0,361.0 510.0,362.4 516.0,363.7 522.0,365.0 528.0,366.3 534.0,367.5 540.0,368.7 546.0,369.9 552.0,371.0 558.0,372.2 564.0,373.4 570.0,374.6 576.0,375.8 582.0,377.0 588.0,378.2 594.0,379.4 600.0,380.6 606.0,381.8 612.0,383.0 618.0,384.2 624.0,385.5 630.0,386.8 636.0,388.2" fill="none" stroke="#1438d8" stroke-width="2.0" stroke-dasharray="6,8" stroke-opacity="0.9"/>
<line x1="458" y1="333.8" x2="458" y2="400.8" stroke="#c8ccc0" stroke-width="1.0" stroke-opacity="0.75"/>
<line x1="460.5" y1="334.7" x2="460.5" y2="400.8" stroke="#c8ccc0" stroke-width="1.0" stroke-opacity="0.75"/>
<line x1="482" y1="342.9" x2="482" y2="400.8" stroke="#c8ccc0" stroke-width="1.0" stroke-opacity="0.75"/>
<line x1="484.5" y1="343.8" x2="484.5" y2="400.8" stroke="#c8ccc0" stroke-width="1.0" stroke-opacity="0.75"/>
<line x1="458" y1="339.8" x2="482" y2="400.8" stroke="#c8ccc0" stroke-width="1.2" stroke-opacity="0.75"/>
<line x1="461" y1="339.8" x2="485" y2="400.8" stroke="#c8ccc0" stroke-width="1.0" stroke-opacity="0.6"/>
<line x1="537" y1="356.6" x2="537" y2="400.8" stroke="#c8ccc0" stroke-width="1.0" stroke-opacity="0.75"/>
<line x1="539.5" y1="357.1" x2="539.5" y2="400.8" stroke="#c8ccc0" stroke-width="1.0" stroke-opacity="0.75"/>
<line x1="560" y1="361.1" x2="560" y2="400.8" stroke="#c8ccc0" stroke-width="1.0" stroke-opacity="0.75"/>
<line x1="562.5" y1="361.6" x2="562.5" y2="400.8" stroke="#c8ccc0" stroke-width="1.0" stroke-opacity="0.75"/>
<line x1="537" y1="362.6" x2="560" y2="400.8" stroke="#c8ccc0" stroke-width="1.2" stroke-opacity="0.75"/>
<line x1="540" y1="362.6" x2="563" y2="400.8" stroke="#c8ccc0" stroke-width="1.0" stroke-opacity="0.6"/>
<path d="M67.5,201.7 C74.7,204.5 98.0,213.0 110.7,218.6 C123.5,224.2 134.7,230.5 144.0,235.5 C153.3,240.5 158.2,244.1 166.3,248.4 C174.4,252.7 186.0,258.0 192.6,261.5 C199.2,265.0 200.9,266.3 205.7,269.4 C210.5,272.5 212.0,275.0 221.2,279.9 C230.4,284.8 247.8,293.6 260.9,298.5 C274.0,303.4 288.5,305.6 300.0,309.0 C311.5,312.4 316.2,314.3 330.0,319.0 C343.8,323.7 369.8,333.1 383.0,337.2 C396.2,341.3 400.0,341.4 409.2,343.8 C418.4,346.2 430.6,349.2 438.4,351.8 C446.2,354.4 450.1,357.5 455.9,359.1 C461.7,360.7 467.9,360.6 473.4,361.3 C478.9,362.0 481.6,362.2 489.0,363.1 C496.4,364.0 506.2,365.5 518.0,366.7 C529.8,367.9 553.0,369.8 560.0,370.4" fill="none" stroke="#2c1c64" stroke-width="1.5" stroke-dasharray="4,1.8"/>
<path d="M95.0,187.5 C97.6,188.5 99.5,187.8 110.7,193.4 C121.9,199.1 148.5,214.8 162.1,221.4 C175.7,228.0 182.2,229.5 192.5,233.1 C202.8,236.7 212.0,235.6 224.0,243.0 C236.0,250.4 251.7,270.3 264.4,277.5 C277.1,284.7 289.1,283.2 300.0,286.3 C310.9,289.4 315.7,291.4 330.0,296.0 C344.3,300.6 372.6,309.8 385.8,313.9 C399.0,318.0 400.4,317.8 409.2,320.4 C418.0,322.9 429.9,326.3 438.4,329.2 C446.9,332.1 453.1,335.2 460.0,338.0 C466.9,340.8 476.7,344.7 480.0,346.0" fill="none" stroke="#202040" stroke-width="0.9" stroke-dasharray="5,2,1,2"/>
<path d="M68.5,212.8 C74.4,215.3 91.4,222.3 104.0,227.6 C116.6,232.8 133.6,239.9 144.0,244.3 C154.4,248.8 158.2,251.0 166.3,254.3 C174.4,257.6 185.6,261.7 192.6,264.2 C199.6,266.7 202.1,267.2 208.3,269.4 C214.5,271.6 221.4,273.7 230.0,277.2 C238.6,280.7 248.3,285.8 260.0,290.5 C271.7,295.2 288.3,300.9 300.0,305.5 C311.7,310.1 315.1,313.1 330.0,318.4 C344.9,323.6 379.7,333.9 389.6,337.0" fill="none" stroke="#111" stroke-width="1.4"/>
</g>
<polygon points="192.3,203.8 230.0,222.8 260.0,239.0 285.1,253.7 276.0,252.5 267.6,251.0 259.0,249.6 250.0,247.6 241.0,245.0 232.6,241.4 223.0,235.0 215.0,228.3 208.0,223.0 202.8,217.8 196.0,211.0 192.3,203.8" fill="#44c822"/>
<clipPath id="wga"><polygon points="192.3,203.8 230.0,222.8 260.0,239.0 285.1,253.7 276.0,252.5 267.6,251.0 259.0,249.6 250.0,247.6 241.0,245.0 232.6,241.4 223.0,235.0 215.0,228.3 208.0,223.0 202.8,217.8 196.0,211.0 192.3,203.8"/></clipPath>
<g clip-path="url(#wga)" stroke="#1a2a08" stroke-width="0.7">
<line x1="196.0" y1="190" x2="197.5" y2="270"/>
<line x1="199.6" y1="190" x2="201.1" y2="270"/>
<line x1="203.2" y1="190" x2="204.7" y2="270"/>
<line x1="206.8" y1="190" x2="208.3" y2="270"/>
<line x1="210.4" y1="190" x2="211.9" y2="270"/>
<line x1="214.0" y1="190" x2="215.5" y2="270"/>
<line x1="217.6" y1="190" x2="219.1" y2="270"/>
<line x1="221.2" y1="190" x2="222.7" y2="270"/>
<line x1="224.8" y1="190" x2="226.3" y2="270"/>
<line x1="228.4" y1="190" x2="229.9" y2="270"/>
<line x1="232.0" y1="190" x2="233.5" y2="270"/>
<line x1="235.6" y1="190" x2="237.1" y2="270"/>
<line x1="239.2" y1="190" x2="240.7" y2="270"/>
<line x1="242.8" y1="190" x2="244.3" y2="270"/>
<line x1="246.4" y1="190" x2="247.9" y2="270"/>
<line x1="250.0" y1="190" x2="251.5" y2="270"/>
<line x1="253.6" y1="190" x2="255.1" y2="270"/>
<line x1="257.2" y1="190" x2="258.7" y2="270"/>
<line x1="260.8" y1="190" x2="262.3" y2="270"/>
<line x1="264.4" y1="190" x2="265.9" y2="270"/>
<line x1="268.0" y1="190" x2="269.5" y2="270"/>
<line x1="271.6" y1="190" x2="273.1" y2="270"/>
<line x1="275.2" y1="190" x2="276.7" y2="270"/>
<line x1="278.8" y1="190" x2="280.3" y2="270"/>
<line x1="282.4" y1="190" x2="283.9" y2="270"/>
<line x1="286.0" y1="190" x2="287.5" y2="270"/>
<line x1="262" y1="190" x2="263.5" y2="270" stroke="#e05018" stroke-width="1.6"/>
<line x1="270" y1="190" x2="271.5" y2="270" stroke="#e05018" stroke-width="1.6"/>
<line x1="277" y1="190" x2="278.5" y2="270" stroke="#e05018" stroke-width="1.6"/>
<line x1="281" y1="190" x2="282.5" y2="270" stroke="#e05018" stroke-width="1.6"/>
<line x1="214" y1="190" x2="215.5" y2="270" stroke="#e08020" stroke-width="1.2"/>
<line x1="231" y1="190" x2="232.5" y2="270" stroke="#e08020" stroke-width="1.2"/>
</g>
<path d="M192.3,203.8 C192.9,205.0 194.2,208.7 196.0,211.0 C197.8,213.3 200.8,215.8 202.8,217.8 C204.8,219.8 206.0,221.2 208.0,223.0 C210.0,224.8 212.5,226.3 215.0,228.3 C217.5,230.3 220.1,232.8 223.0,235.0 C225.9,237.2 229.6,239.7 232.6,241.4 C235.6,243.1 238.1,244.0 241.0,245.0 C243.9,246.0 247.0,246.8 250.0,247.6 C253.0,248.4 256.1,249.0 259.0,249.6 C261.9,250.2 264.8,250.5 267.6,251.0 C270.4,251.5 273.1,252.1 276.0,252.5 C278.9,252.9 283.6,253.5 285.1,253.7" fill="none" stroke="#ffffff" stroke-width="2.4" stroke-opacity="1" />
<polyline points="68.5,161.6 71.3,162.4 75.2,163.6 79.9,165.0 84.9,166.5 90.1,168.0 95.0,169.3 99.9,170.4 105.0,171.6 110.1,172.6 115.3,173.7 120.2,174.8 124.8,175.9 129.0,177.1 132.9,178.3 136.7,179.5 140.3,180.7 143.9,182.0 147.6,183.3 151.3,184.6 155.1,185.8 158.8,187.1 162.5,188.4 166.2,189.9 170.0,191.5 173.7,193.2 177.2,195.1 180.7,197.0 184.4,199.1 188.5,201.3 193.2,203.8 198.6,206.6 204.7,209.6 211.2,212.9 217.7,216.2 224.1,219.4 230.0,222.5 235.4,225.4 240.6,228.2 245.6,231.0 250.5,233.7 255.2,236.4 260.0,239.0 264.5,241.4 268.6,243.7 272.7,245.9 276.9,248.2 281.6,250.7 287.0,253.5 293.2,256.6 299.9,260.1 307.1,263.7 314.6,267.4 322.2,271.2 330.0,275.0 337.9,278.9 346.1,282.9 354.6,286.9 363.1,291.0 371.6,295.0 380.0,299.0 388.6,303.0 397.4,307.1 406.2,311.2 414.7,315.1 422.7,318.8 430.0,322.0 436.3,324.8 441.8,327.2 446.9,329.3 451.6,331.2 456.4,333.1 461.4,335.1 466.6,337.1 471.9,339.2 477.1,341.1 482.3,343.1 487.6,344.9 492.8,346.5 498.0,348.0 503.3,349.3 508.5,350.6 513.7,351.7 519.0,352.9 524.2,354.0 529.4,355.1 534.6,356.2 539.9,357.2 545.1,358.2 550.3,359.2 555.5,360.2 560.7,361.2 566.0,362.3 571.2,363.3 576.4,364.4 581.7,365.4 586.9,366.5 592.2,367.6 597.7,368.7 603.2,369.8 608.6,370.8 613.7,371.8 618.3,372.8 622.7,373.7 626.9,374.7 630.9,375.5 634.4,376.3 637.3,377.0 639.5,377.5" fill="none" stroke="#111" stroke-width="1.6"/>
<line x1="639.5" y1="377.5" x2="639.5" y2="400.8" stroke="#111" stroke-width="1.4"/>
<line x1="68.5" y1="161.6" x2="68.5" y2="400.8" stroke="#222" stroke-width="1.6"/>
<rect x="67.3" y="273.6" width="9.7" height="5.8" fill="#fff" stroke="#333" stroke-width="0.6"/>
<circle cx="68.5" cy="201.6" r="1.6" fill="#2020c0"/>
<g stroke="#555" stroke-width="1.1" fill="none">
<line x1="68.5" y1="132.3" x2="68.5" y2="400.8"/>
<line x1="639.5" y1="400.8" x2="669.5" y2="400.8"/>
<line x1="669.3" y1="400.8" x2="669.3" y2="385.8"/>
</g>
<line x1="67.5" y1="400.8" x2="640" y2="400.8" stroke="#111" stroke-width="1.8"/>
<line x1="68.5" y1="400.8" x2="83.3" y2="400.8" stroke="#333" stroke-width="1"/>
<text x="61.4" y="405.5" text-anchor="end" class="tk">0</text>
<line x1="68.5" y1="347.1" x2="83.3" y2="347.1" stroke="#333" stroke-width="1"/>
<text x="61.4" y="351.8" text-anchor="end" class="tk">50</text>
<line x1="68.5" y1="293.4" x2="83.3" y2="293.4" stroke="#333" stroke-width="1"/>
<text x="61.4" y="298.1" text-anchor="end" class="tk">100</text>
<line x1="68.5" y1="239.7" x2="83.3" y2="239.7" stroke="#333" stroke-width="1"/>
<text x="61.4" y="244.4" text-anchor="end" class="tk">150</text>
<line x1="68.5" y1="186.0" x2="83.3" y2="186.0" stroke="#333" stroke-width="1"/>
<text x="61.4" y="190.7" text-anchor="end" class="tk">200</text>
<line x1="68.5" y1="132.3" x2="83.3" y2="132.3" stroke="#333" stroke-width="1"/>
<text x="61.4" y="137.0" text-anchor="end" class="tk">250</text>
<text x="68.5" y="421.1" text-anchor="middle" class="tk">0</text>
<line x1="123.1" y1="400.8" x2="123.1" y2="385.8" stroke="#222" stroke-width="0.9"/>
<text x="123.1" y="421.1" text-anchor="middle" class="tk">50</text>
<line x1="177.8" y1="400.8" x2="177.8" y2="385.8" stroke="#222" stroke-width="0.9"/>
<text x="177.8" y="421.1" text-anchor="middle" class="tk">100</text>
<line x1="232.4" y1="400.8" x2="232.4" y2="385.8" stroke="#222" stroke-width="0.9"/>
<text x="232.4" y="421.1" text-anchor="middle" class="tk">150</text>
<line x1="287.0" y1="400.8" x2="287.0" y2="385.8" stroke="#222" stroke-width="0.9"/>
<text x="287.0" y="421.1" text-anchor="middle" class="tk">200</text>
<line x1="341.7" y1="400.8" x2="341.7" y2="385.8" stroke="#222" stroke-width="0.9"/>
<text x="341.7" y="421.1" text-anchor="middle" class="tk">250</text>
<line x1="396.3" y1="400.8" x2="396.3" y2="385.8" stroke="#222" stroke-width="0.9"/>
<text x="396.3" y="421.1" text-anchor="middle" class="tk">300</text>
<line x1="450.9" y1="400.8" x2="450.9" y2="385.8" stroke="#222" stroke-width="0.9"/>
<text x="450.9" y="421.1" text-anchor="middle" class="tk">350</text>
<line x1="505.6" y1="400.8" x2="505.6" y2="385.8" stroke="#222" stroke-width="0.9"/>
<text x="505.6" y="421.1" text-anchor="middle" class="tk">400</text>
<line x1="560.2" y1="400.8" x2="560.2" y2="385.8" stroke="#222" stroke-width="0.9"/>
<text x="560.2" y="421.1" text-anchor="middle" class="tk">450</text>
<line x1="614.9" y1="400.8" x2="614.9" y2="385.8" stroke="#222" stroke-width="0.9"/>
<text x="614.9" y="421.1" text-anchor="middle" class="tk">500</text>
<text x="669.5" y="421.1" text-anchor="middle" class="tk">550</text>
<text x="372" y="451.9" text-anchor="middle" class="ax">Distance (m)</text>
<text transform="translate(21.8,266.8) rotate(-90)" text-anchor="middle" class="ax">Elevation (m)</text>
<rect x="528.2" y="2.5" width="119.5" height="161.0" fill="#fff" stroke="#555" stroke-width="1.1"/>
<text x="587.3" y="20.4" text-anchor="middle" style="font-family:Liberation Serif,serif;font-weight:bold;font-size:14.6px" fill="#111" textLength="80" lengthAdjust="spacingAndGlyphs">Safety factor</text>
<rect x="535.2" y="30.2" width="8.6" height="8.6" fill="#ff0000" stroke="#333" stroke-width="0.8"/>
<text x="549.6" y="38.5" font-size="11.3" fill="#333" textLength="55.0" lengthAdjust="spacingAndGlyphs">0.78 - 0.88</text>
<rect x="535.2" y="43.1" width="8.6" height="8.6" fill="#ff7a00" stroke="#333" stroke-width="0.8"/>
<text x="549.6" y="51.4" font-size="11.3" fill="#333" textLength="55.0" lengthAdjust="spacingAndGlyphs">0.88 - 0.98</text>
<rect x="535.2" y="56.1" width="8.6" height="8.6" fill="#ffdc00" stroke="#333" stroke-width="0.8"/>
<text x="549.6" y="64.4" font-size="11.3" fill="#333" textLength="55.0" lengthAdjust="spacingAndGlyphs">0.98 - 1.08</text>
<rect x="535.2" y="69.0" width="8.6" height="8.6" fill="#a2f50c" stroke="#333" stroke-width="0.8"/>
<text x="549.6" y="77.3" font-size="11.3" fill="#333" textLength="55.0" lengthAdjust="spacingAndGlyphs">1.08 - 1.18</text>
<rect x="535.2" y="82.0" width="8.6" height="8.6" fill="#38f014" stroke="#333" stroke-width="0.8"/>
<text x="549.6" y="90.3" font-size="11.3" fill="#333" textLength="55.0" lengthAdjust="spacingAndGlyphs">1.18 - 1.28</text>
<rect x="535.2" y="94.9" width="8.6" height="8.6" fill="#12ec3c" stroke="#333" stroke-width="0.8"/>
<text x="549.6" y="103.2" font-size="11.3" fill="#333" textLength="55.0" lengthAdjust="spacingAndGlyphs">1.28 - 1.38</text>
<rect x="535.2" y="107.8" width="8.6" height="8.6" fill="#18f0a6" stroke="#333" stroke-width="0.8"/>
<text x="549.6" y="116.1" font-size="11.3" fill="#333" textLength="55.0" lengthAdjust="spacingAndGlyphs">1.38 - 1.48</text>
<rect x="535.2" y="120.8" width="8.6" height="8.6" fill="#1ce0ff" stroke="#333" stroke-width="0.8"/>
<text x="549.6" y="129.1" font-size="11.3" fill="#333" textLength="55.0" lengthAdjust="spacingAndGlyphs">1.48 - 1.58</text>
<rect x="535.2" y="133.7" width="8.6" height="8.6" fill="#1470f0" stroke="#333" stroke-width="0.8"/>
<text x="549.6" y="142.0" font-size="11.3" fill="#333" textLength="55.0" lengthAdjust="spacingAndGlyphs">1.58 - 1.68</text>
<rect x="535.2" y="146.7" width="8.6" height="8.6" fill="#0000ee" stroke="#333" stroke-width="0.8"/>
<text x="549.6" y="155.0" font-size="11.3" fill="#333" textLength="31.3" lengthAdjust="spacingAndGlyphs">≥ 1.68</text>
<rect x="76.8" y="21.7" width="42" height="36.3" fill="#fff" stroke="#444" stroke-width="1.2"/>
<text x="97.5" y="47.4" text-anchor="middle" style="font-family:Liberation Serif,serif;font-size:20px" fill="#111">a)</text>
<g clip-path="url(#outerB)">
<polygon points="194.0,506.5 635.1,697.9 586.5,756.9 648.3,783.9 628.3,808.3 187.7,615.8 202.3,598.3 215.0,583.2 152.2,555.5" fill="#ffdc00"/>
<polygon points="193.2,451.0 161.2,524.6 161.6,544.6 161.9,560.7 162.3,580.7 130.3,654.3 2130.3,1524.3 2193.2,1321.0" fill="#ff7a00"/>
<polygon points="252.6,423.7 220.6,497.3 216.5,516.9 210.1,547.6 201.9,576.8 198.4,603.0 208.6,626.6 216.5,645.0 184.5,718.6 2184.5,1588.6 2252.6,1293.7" fill="#ff0000"/>
<polygon points="512.9,539.1 480.9,612.7 469.8,629.3 455.0,651.5 443.5,670.1 395.3,706.6 379.4,718.7 347.4,792.3 2347.4,1662.3 2512.9,1409.1" fill="#ff7a00"/>
<polygon points="553.2,555.8 521.2,629.4 510.4,646.3 493.6,672.6 483.1,679.6 462.0,690.1 423.5,718.8 407.5,730.8 375.5,804.4 2375.5,1674.4 2553.2,1425.8" fill="#ffdc00"/>
<polygon points="603.9,577.5 571.9,651.1 560.2,667.3 542.6,691.8 549.6,704.1 542.6,711.1 525.1,716.4 500.6,728.6 462.0,735.7 442.3,739.3 410.3,812.9 2410.3,1682.9 2603.9,1447.5" fill="#a2f50c"/>
<polygon points="640.0,690.0 632.0,700.5 595.2,705.8 584.7,714.6 581.2,725.1 568.9,737.4 584.7,754.9 600.0,760.0 660.0,720.0" fill="#38f014"/>
<polygon points="528.0,770.0 532.1,767.2 556.6,754.9 581.2,758.4 588.2,770.7 581.2,786.4 588.2,791.7 595.0,800.0 528.0,790.0" fill="#38f014"/>
<g clip-path="url(#tailB)">
<polygon points="632.6,674.4 600.6,748.0 607.5,766.8 612.0,779.0 614.5,784.7 618.5,795.0 631.8,804.5 671.8,796.5 2671.8,1666.5 2632.6,1544.4" fill="#ffdc00"/>
<polygon points="658.2,686.3 626.2,759.9 633.7,778.5 639.0,791.7 640.0,794.0 680.0,786.0 2680.0,1656.0 2658.2,1556.3" fill="#ff7a00"/>
</g>
<polyline points="161.6,544.6 161.9,560.7" fill="none" stroke="#2a2a2a" stroke-width="0.8"/>
<polyline points="216.5,516.9 210.1,547.6 201.9,576.8 198.4,603.0 208.6,626.6" fill="none" stroke="#2a2a2a" stroke-width="0.8"/>
<polyline points="469.8,629.3 455.0,651.5 443.5,670.1 395.3,706.6" fill="none" stroke="#2a2a2a" stroke-width="0.8"/>
<polyline points="510.4,646.3 493.6,672.6 483.1,679.6 462.0,690.1 423.5,718.8" fill="none" stroke="#2a2a2a" stroke-width="0.8"/>
<polyline points="560.2,667.3 542.6,691.8 549.6,704.1 542.6,711.1 525.1,716.4 500.6,728.6 462.0,735.7" fill="none" stroke="#2a2a2a" stroke-width="0.8"/>
<polyline points="632.0,700.5 595.2,705.8 584.7,714.6 581.2,725.1 568.9,737.4 584.7,754.9 600.0,760.0" fill="none" stroke="#2a2a2a" stroke-width="0.8"/>
<polyline points="532.1,767.2 556.6,754.9 581.2,758.4 588.2,770.7 581.2,786.4 588.2,791.7 595.0,800.0" fill="none" stroke="#2a2a2a" stroke-width="0.8"/>
<polyline points="607.5,766.8 612.0,779.0 614.5,784.7 618.5,795.0 631.8,804.5" fill="none" stroke="#2a2a2a" stroke-width="0.8"/>
<polyline points="633.7,778.5 639.0,791.7 640.0,794.0" fill="none" stroke="#2a2a2a" stroke-width="0.8"/>
</g>
<rect x="302" y="566.5" width="27.8" height="14.6" fill="#fff"/>
<line x1="302" y1="581.1" x2="329.8" y2="581.1" stroke="#888" stroke-width="1"/>
<text x="315.9" y="578.1" text-anchor="middle" font-size="12.5" fill="#111">0.49</text>
<clipPath id="slopeb"><polygon points="68.5,617.1 71.3,618.0 75.2,619.1 79.9,620.5 84.9,622.0 90.1,623.5 95.0,624.8 99.9,626.0 105.0,627.0 110.1,628.1 115.3,629.2 120.2,630.3 124.8,631.4 129.0,632.6 132.9,633.8 136.7,635.0 140.3,636.2 143.9,637.5 147.6,638.8 151.3,640.1 155.1,641.3 158.8,642.6 162.5,643.9 166.2,645.4 170.0,647.0 173.7,648.7 177.2,650.6 180.7,652.5 184.4,654.6 188.5,656.8 193.2,659.3 198.6,662.1 204.7,665.1 211.2,668.4 217.7,671.7 224.1,674.9 230.0,678.0 235.4,680.9 240.6,683.7 245.6,686.5 250.5,689.2 255.2,691.9 260.0,694.5 264.5,697.0 268.6,699.2 272.7,701.4 276.9,703.7 281.6,706.2 287.0,709.0 293.2,712.1 299.9,715.6 307.1,719.2 314.6,722.9 322.2,726.7 330.0,730.5 337.9,734.4 346.1,738.4 354.6,742.4 363.1,746.5 371.6,750.5 380.0,754.5 388.6,758.5 397.4,762.6 406.2,766.7 414.7,770.6 422.7,774.2 430.0,777.5 436.3,780.3 441.8,782.7 446.9,784.8 451.6,786.7 456.4,788.6 461.4,790.6 466.6,792.6 471.9,794.7 477.1,796.6 482.3,798.5 487.6,800.4 492.8,802.0 498.0,803.5 503.3,804.8 508.5,806.1 513.7,807.2 519.0,808.4 524.2,809.5 529.4,810.6 534.6,811.7 539.9,812.7 545.1,813.7 550.3,814.7 555.5,815.7 560.7,816.7 566.0,817.8 571.2,818.8 576.4,819.9 581.7,821.0 586.9,822.0 592.2,823.1 597.7,824.2 603.2,825.2 608.6,826.3 613.7,827.3 618.3,828.3 622.7,829.2 626.9,830.2 630.9,831.0 634.4,831.8 637.3,832.5 639.5,833.0 639.5,856.3 68.5,856.3"/></clipPath>
<polygon points="68.5,617.1 71.3,618.0 75.2,619.1 79.9,620.5 84.9,622.0 90.1,623.5 95.0,624.8 99.9,626.0 105.0,627.0 110.1,628.1 115.3,629.2 120.2,630.3 124.8,631.4 129.0,632.6 132.9,633.8 136.7,635.0 140.3,636.2 143.9,637.5 147.6,638.8 151.3,640.1 155.1,641.3 158.8,642.6 162.5,643.9 166.2,645.4 170.0,647.0 173.7,648.7 177.2,650.6 180.7,652.5 184.4,654.6 188.5,656.8 193.2,659.3 198.6,662.1 204.7,665.1 211.2,668.4 217.7,671.7 224.1,674.9 230.0,678.0 235.4,680.9 240.6,683.7 245.6,686.5 250.5,689.2 255.2,691.9 260.0,694.5 264.5,697.0 268.6,699.2 272.7,701.4 276.9,703.7 281.6,706.2 287.0,709.0 293.2,712.1 299.9,715.6 307.1,719.2 314.6,722.9 322.2,726.7 330.0,730.5 337.9,734.4 346.1,738.4 354.6,742.4 363.1,746.5 371.6,750.5 380.0,754.5 388.6,758.5 397.4,762.6 406.2,766.7 414.7,770.6 422.7,774.2 430.0,777.5 436.3,780.3 441.8,782.7 446.9,784.8 451.6,786.7 456.4,788.6 461.4,790.6 466.6,792.6 471.9,794.7 477.1,796.6 482.3,798.5 487.6,800.4 492.8,802.0 498.0,803.5 503.3,804.8 508.5,806.1 513.7,807.2 519.0,808.4 524.2,809.5 529.4,810.6 534.6,811.7 539.9,812.7 545.1,813.7 550.3,814.7 555.5,815.7 560.7,816.7 566.0,817.8 571.2,818.8 576.4,819.9 581.7,821.0 586.9,822.0 592.2,823.1 597.7,824.2 603.2,825.2 608.6,826.3 613.7,827.3 618.3,828.3 622.7,829.2 626.9,830.2 630.9,831.0 634.4,831.8 637.3,832.5 639.5,833.0 639.5,856.3 68.5,856.3" fill="#7d5207"/>
<g clip-path="url(#slopeb)">
<polyline points="68.5,659.0 110.4,674.1 110.4,682.6 211.5,732.1 211.5,746.1 232.6,760.9 232.6,744.9 261.0,755.4 261.0,751.9 309.0,764.9 309.0,768.4 645.0,852.4" fill="none" stroke="#1c0e04" stroke-width="1"/>
<polyline points="68.5,683.5 110.4,698.6 110.4,707.1 211.5,756.6 211.5,770.6 232.6,785.4 232.6,769.4 261.0,779.9 261.0,776.4 309.0,789.4 309.0,792.9 645.0,876.9" fill="none" stroke="#1c0e04" stroke-width="1"/>
<polyline points="68.5,709.3 110.4,724.4 110.4,732.9 211.5,782.4 211.5,796.4 232.6,811.2 232.6,795.2 261.0,805.7 261.0,802.2 309.0,815.2 309.0,818.7 645.0,902.7" fill="none" stroke="#1c0e04" stroke-width="1"/>
<polyline points="68.5,736.2 110.4,751.3 110.4,759.8 211.5,809.3 211.5,823.3 232.6,838.1 232.6,822.1 261.0,832.6 261.0,829.1 309.0,842.1 309.0,845.6 645.0,929.6" fill="none" stroke="#1c0e04" stroke-width="1"/>
<polyline points="68.5,760.7 110.4,775.8 110.4,784.3 211.5,833.8 211.5,847.8 232.6,862.6 232.6,846.6 261.0,857.1 261.0,853.6 309.0,866.6 309.0,870.1 645.0,954.1" fill="none" stroke="#1c0e04" stroke-width="1"/>
<polyline points="68.5,786.5 110.4,801.6 110.4,810.1 211.5,859.6 211.5,873.6 232.6,888.4 232.6,872.4 261.0,882.9 261.0,879.4 309.0,892.4 309.0,895.9 645.0,979.9" fill="none" stroke="#1c0e04" stroke-width="1"/>
<polyline points="68.5,811.9 110.4,827.0 110.4,835.5 211.5,885.0 211.5,899.0 232.6,913.8 232.6,897.8 261.0,908.3 261.0,904.8 309.0,917.8 309.0,921.3 645.0,1005.3" fill="none" stroke="#1c0e04" stroke-width="1"/>
<polyline points="68.5,838.1 110.4,853.2 110.4,861.7 211.5,911.2 211.5,925.2 232.6,940.0 232.6,924.0 261.0,934.5 261.0,931.0 309.0,944.0 309.0,947.5 645.0,1031.5" fill="none" stroke="#1c0e04" stroke-width="1"/>
<polyline points="68.5,863.5 110.4,878.6 110.4,887.1 211.5,936.6 211.5,950.6 232.6,965.4 232.6,949.4 261.0,959.9 261.0,956.4 309.0,969.4 309.0,972.9 645.0,1056.9" fill="none" stroke="#1c0e04" stroke-width="1"/>
<line x1="211.5" y1="752.1" x2="211.5" y2="856.3" stroke="#1c0e04" stroke-width="1"/>
<line x1="232.6" y1="760.6" x2="232.6" y2="856.3" stroke="#1c0e04" stroke-width="1"/>
<polygon points="192.6,719.7 208.3,724.9 230.0,732.7 260.0,746.0 300.0,761.0 330.0,773.9 389.6,792.5 420.0,797.0 440.0,799.1 459.0,800.3 484.0,803.5 495.0,805.5 505.0,807.0 524.2,809.5 555.5,815.7 586.9,822.0 618.3,828.3 640.0,833.0 645.0,836.5 645.0,856.3 470.0,856.3 475.0,858.5 460.0,855.1 437.6,845.9 400.0,829.5 367.7,816.5 329.7,801.5 291.8,787.5 269.0,771.5 249.2,764.5 223.5,758.5 195.2,743.3" fill="#7d5410"/>
<clipPath id="khb"><polygon points="192.6,719.7 208.3,724.9 230.0,732.7 260.0,746.0 300.0,761.0 330.0,773.9 389.6,792.5 420.0,797.0 440.0,799.1 459.0,800.3 484.0,803.5 495.0,805.5 505.0,807.0 524.2,809.5 555.5,815.7 586.9,822.0 618.3,828.3 640.0,833.0 645.0,836.5 645.0,856.3 470.0,856.3 475.0,858.5 460.0,855.1 437.6,845.9 400.0,829.5 367.7,816.5 329.7,801.5 291.8,787.5 269.0,771.5 249.2,764.5 223.5,758.5 195.2,743.3"/></clipPath>
<g clip-path="url(#khb)">
<line x1="190" y1="537.5" x2="560" y2="581.9" stroke="#d8a232" stroke-width="1.5" stroke-opacity="0.9"/>
<line x1="560" y1="581.9" x2="650" y2="592.7" stroke="#d8a232" stroke-width="1.05" stroke-opacity="0.55"/>
<line x1="190" y1="540.5" x2="560" y2="584.9" stroke="#d8a232" stroke-width="1.5" stroke-opacity="0.9"/>
<line x1="560" y1="584.9" x2="650" y2="595.7" stroke="#d8a232" stroke-width="1.05" stroke-opacity="0.55"/>
<line x1="190" y1="543.5" x2="560" y2="587.9" stroke="#d8a232" stroke-width="1.5" stroke-opacity="0.9"/>
<line x1="560" y1="587.9" x2="650" y2="598.7" stroke="#d8a232" stroke-width="1.05" stroke-opacity="0.55"/>
<line x1="190" y1="546.5" x2="560" y2="590.9" stroke="#d8a232" stroke-width="1.5" stroke-opacity="0.9"/>
<line x1="560" y1="590.9" x2="650" y2="601.7" stroke="#d8a232" stroke-width="1.05" stroke-opacity="0.55"/>
<line x1="190" y1="549.5" x2="560" y2="593.9" stroke="#d8a232" stroke-width="1.5" stroke-opacity="0.9"/>
<line x1="560" y1="593.9" x2="650" y2="604.7" stroke="#d8a232" stroke-width="1.05" stroke-opacity="0.55"/>
<line x1="190" y1="552.5" x2="560" y2="596.9" stroke="#d8a232" stroke-width="1.5" stroke-opacity="0.9"/>
<line x1="560" y1="596.9" x2="650" y2="607.7" stroke="#d8a232" stroke-width="1.05" stroke-opacity="0.55"/>
<line x1="190" y1="555.5" x2="560" y2="599.9" stroke="#d8a232" stroke-width="1.5" stroke-opacity="0.9"/>
<line x1="560" y1="599.9" x2="650" y2="610.7" stroke="#d8a232" stroke-width="1.05" stroke-opacity="0.55"/>
<line x1="190" y1="558.5" x2="560" y2="602.9" stroke="#d8a232" stroke-width="1.5" stroke-opacity="0.9"/>
<line x1="560" y1="602.9" x2="650" y2="613.7" stroke="#d8a232" stroke-width="1.05" stroke-opacity="0.55"/>
<line x1="190" y1="561.5" x2="560" y2="605.9" stroke="#d8a232" stroke-width="1.5" stroke-opacity="0.9"/>
<line x1="560" y1="605.9" x2="650" y2="616.7" stroke="#d8a232" stroke-width="1.05" stroke-opacity="0.55"/>
<line x1="190" y1="564.5" x2="560" y2="608.9" stroke="#d8a232" stroke-width="1.5" stroke-opacity="0.9"/>
<line x1="560" y1="608.9" x2="650" y2="619.7" stroke="#d8a232" stroke-width="1.05" stroke-opacity="0.55"/>
<line x1="190" y1="567.5" x2="560" y2="611.9" stroke="#d8a232" stroke-width="1.5" stroke-opacity="0.9"/>
<line x1="560" y1="611.9" x2="650" y2="622.7" stroke="#d8a232" stroke-width="1.05" stroke-opacity="0.55"/>
<line x1="190" y1="570.5" x2="560" y2="614.9" stroke="#d8a232" stroke-width="1.5" stroke-opacity="0.9"/>
<line x1="560" y1="614.9" x2="650" y2="625.7" stroke="#d8a232" stroke-width="1.05" stroke-opacity="0.55"/>
<line x1="190" y1="573.5" x2="560" y2="617.9" stroke="#d8a232" stroke-width="1.5" stroke-opacity="0.9"/>
<line x1="560" y1="617.9" x2="650" y2="628.7" stroke="#d8a232" stroke-width="1.05" stroke-opacity="0.55"/>
<line x1="190" y1="576.5" x2="560" y2="620.9" stroke="#d8a232" stroke-width="1.5" stroke-opacity="0.9"/>
<line x1="560" y1="620.9" x2="650" y2="631.7" stroke="#d8a232" stroke-width="1.05" stroke-opacity="0.55"/>
<line x1="190" y1="579.5" x2="560" y2="623.9" stroke="#d8a232" stroke-width="1.5" stroke-opacity="0.9"/>
<line x1="560" y1="623.9" x2="650" y2="634.7" stroke="#d8a232" stroke-width="1.05" stroke-opacity="0.55"/>
<line x1="190" y1="582.5" x2="560" y2="626.9" stroke="#d8a232" stroke-width="1.5" stroke-opacity="0.9"/>
<line x1="560" y1="626.9" x2="650" y2="637.7" stroke="#d8a232" stroke-width="1.05" stroke-opacity="0.55"/>
<line x1="190" y1="585.5" x2="560" y2="629.9" stroke="#d8a232" stroke-width="1.5" stroke-opacity="0.9"/>
<line x1="560" y1="629.9" x2="650" y2="640.7" stroke="#d8a232" stroke-width="1.05" stroke-opacity="0.55"/>
<line x1="190" y1="588.5" x2="560" y2="632.9" stroke="#d8a232" stroke-width="1.5" stroke-opacity="0.9"/>
<line x1="560" y1="632.9" x2="650" y2="643.7" stroke="#d8a232" stroke-width="1.05" stroke-opacity="0.55"/>
<line x1="190" y1="591.5" x2="560" y2="635.9" stroke="#d8a232" stroke-width="1.5" stroke-opacity="0.9"/>
<line x1="560" y1="635.9" x2="650" y2="646.7" stroke="#d8a232" stroke-width="1.05" stroke-opacity="0.55"/>
<line x1="190" y1="594.5" x2="560" y2="638.9" stroke="#d8a232" stroke-width="1.5" stroke-opacity="0.9"/>
<line x1="560" y1="638.9" x2="650" y2="649.7" stroke="#d8a232" stroke-width="1.05" stroke-opacity="0.55"/>
<line x1="190" y1="597.5" x2="560" y2="641.9" stroke="#d8a232" stroke-width="1.5" stroke-opacity="0.9"/>
<line x1="560" y1="641.9" x2="650" y2="652.7" stroke="#d8a232" stroke-width="1.05" stroke-opacity="0.55"/>
<line x1="190" y1="600.5" x2="560" y2="644.9" stroke="#d8a232" stroke-width="1.5" stroke-opacity="0.9"/>
<line x1="560" y1="644.9" x2="650" y2="655.7" stroke="#d8a232" stroke-width="1.05" stroke-opacity="0.55"/>
<line x1="190" y1="603.5" x2="560" y2="647.9" stroke="#d8a232" stroke-width="1.5" stroke-opacity="0.9"/>
<line x1="560" y1="647.9" x2="650" y2="658.7" stroke="#d8a232" stroke-width="1.05" stroke-opacity="0.55"/>
<line x1="190" y1="606.5" x2="560" y2="650.9" stroke="#d8a232" stroke-width="1.5" stroke-opacity="0.9"/>
<line x1="560" y1="650.9" x2="650" y2="661.7" stroke="#d8a232" stroke-width="1.05" stroke-opacity="0.55"/>
<line x1="190" y1="609.5" x2="560" y2="653.9" stroke="#d8a232" stroke-width="1.5" stroke-opacity="0.9"/>
<line x1="560" y1="653.9" x2="650" y2="664.7" stroke="#d8a232" stroke-width="1.05" stroke-opacity="0.55"/>
<line x1="190" y1="612.5" x2="560" y2="656.9" stroke="#d8a232" stroke-width="1.5" stroke-opacity="0.9"/>
<line x1="560" y1="656.9" x2="650" y2="667.7" stroke="#d8a232" stroke-width="1.05" stroke-opacity="0.55"/>
<line x1="190" y1="615.5" x2="560" y2="659.9" stroke="#d8a232" stroke-width="1.5" stroke-opacity="0.9"/>
<line x1="560" y1="659.9" x2="650" y2="670.7" stroke="#d8a232" stroke-width="1.05" stroke-opacity="0.55"/>
<line x1="190" y1="618.5" x2="560" y2="662.9" stroke="#d8a232" stroke-width="1.5" stroke-opacity="0.9"/>
<line x1="560" y1="662.9" x2="650" y2="673.7" stroke="#d8a232" stroke-width="1.05" stroke-opacity="0.55"/>
<line x1="190" y1="621.5" x2="560" y2="665.9" stroke="#d8a232" stroke-width="1.5" stroke-opacity="0.9"/>
<line x1="560" y1="665.9" x2="650" y2="676.7" stroke="#d8a232" stroke-width="1.05" stroke-opacity="0.55"/>
<line x1="190" y1="624.5" x2="560" y2="668.9" stroke="#d8a232" stroke-width="1.5" stroke-opacity="0.9"/>
<line x1="560" y1="668.9" x2="650" y2="679.7" stroke="#d8a232" stroke-width="1.05" stroke-opacity="0.55"/>
<line x1="190" y1="627.5" x2="560" y2="671.9" stroke="#d8a232" stroke-width="1.5" stroke-opacity="0.9"/>
<line x1="560" y1="671.9" x2="650" y2="682.7" stroke="#d8a232" stroke-width="1.05" stroke-opacity="0.55"/>
<line x1="190" y1="630.5" x2="560" y2="674.9" stroke="#d8a232" stroke-width="1.5" stroke-opacity="0.9"/>
<line x1="560" y1="674.9" x2="650" y2="685.7" stroke="#d8a232" stroke-width="1.05" stroke-opacity="0.55"/>
<line x1="190" y1="633.5" x2="560" y2="677.9" stroke="#d8a232" stroke-width="1.5" stroke-opacity="0.9"/>
<line x1="560" y1="677.9" x2="650" y2="688.7" stroke="#d8a232" stroke-width="1.05" stroke-opacity="0.55"/>
<line x1="190" y1="636.5" x2="560" y2="680.9" stroke="#d8a232" stroke-width="1.5" stroke-opacity="0.9"/>
<line x1="560" y1="680.9" x2="650" y2="691.7" stroke="#d8a232" stroke-width="1.05" stroke-opacity="0.55"/>
<line x1="190" y1="639.5" x2="560" y2="683.9" stroke="#d8a232" stroke-width="1.5" stroke-opacity="0.9"/>
<line x1="560" y1="683.9" x2="650" y2="694.7" stroke="#d8a232" stroke-width="1.05" stroke-opacity="0.55"/>
<line x1="190" y1="642.5" x2="560" y2="686.9" stroke="#d8a232" stroke-width="1.5" stroke-opacity="0.9"/>
<line x1="560" y1="686.9" x2="650" y2="697.7" stroke="#d8a232" stroke-width="1.05" stroke-opacity="0.55"/>
<line x1="190" y1="645.5" x2="560" y2="689.9" stroke="#d8a232" stroke-width="1.5" stroke-opacity="0.9"/>
<line x1="560" y1="689.9" x2="650" y2="700.7" stroke="#d8a232" stroke-width="1.05" stroke-opacity="0.55"/>
<line x1="190" y1="648.5" x2="560" y2="692.9" stroke="#d8a232" stroke-width="1.5" stroke-opacity="0.9"/>
<line x1="560" y1="692.9" x2="650" y2="703.7" stroke="#d8a232" stroke-width="1.05" stroke-opacity="0.55"/>
<line x1="190" y1="651.5" x2="560" y2="695.9" stroke="#d8a232" stroke-width="1.5" stroke-opacity="0.9"/>
<line x1="560" y1="695.9" x2="650" y2="706.7" stroke="#d8a232" stroke-width="1.05" stroke-opacity="0.55"/>
<line x1="190" y1="654.5" x2="560" y2="698.9" stroke="#d8a232" stroke-width="1.5" stroke-opacity="0.9"/>
<line x1="560" y1="698.9" x2="650" y2="709.7" stroke="#d8a232" stroke-width="1.05" stroke-opacity="0.55"/>
<line x1="190" y1="657.5" x2="560" y2="701.9" stroke="#d8a232" stroke-width="1.5" stroke-opacity="0.9"/>
<line x1="560" y1="701.9" x2="650" y2="712.7" stroke="#d8a232" stroke-width="1.05" stroke-opacity="0.55"/>
<line x1="190" y1="660.5" x2="560" y2="704.9" stroke="#d8a232" stroke-width="1.5" stroke-opacity="0.9"/>
<line x1="560" y1="704.9" x2="650" y2="715.7" stroke="#d8a232" stroke-width="1.05" stroke-opacity="0.55"/>
<line x1="190" y1="663.5" x2="560" y2="707.9" stroke="#d8a232" stroke-width="1.5" stroke-opacity="0.9"/>
<line x1="560" y1="707.9" x2="650" y2="718.7" stroke="#d8a232" stroke-width="1.05" stroke-opacity="0.55"/>
<line x1="190" y1="666.5" x2="560" y2="710.9" stroke="#d8a232" stroke-width="1.5" stroke-opacity="0.9"/>
<line x1="560" y1="710.9" x2="650" y2="721.7" stroke="#d8a232" stroke-width="1.05" stroke-opacity="0.55"/>
<line x1="190" y1="669.5" x2="560" y2="713.9" stroke="#d8a232" stroke-width="1.5" stroke-opacity="0.9"/>
<line x1="560" y1="713.9" x2="650" y2="724.7" stroke="#d8a232" stroke-width="1.05" stroke-opacity="0.55"/>
<line x1="190" y1="672.5" x2="560" y2="716.9" stroke="#d8a232" stroke-width="1.5" stroke-opacity="0.9"/>
<line x1="560" y1="716.9" x2="650" y2="727.7" stroke="#d8a232" stroke-width="1.05" stroke-opacity="0.55"/>
<line x1="190" y1="675.5" x2="560" y2="719.9" stroke="#d8a232" stroke-width="1.5" stroke-opacity="0.9"/>
<line x1="560" y1="719.9" x2="650" y2="730.7" stroke="#d8a232" stroke-width="1.05" stroke-opacity="0.55"/>
<line x1="190" y1="678.5" x2="560" y2="722.9" stroke="#d8a232" stroke-width="1.5" stroke-opacity="0.9"/>
<line x1="560" y1="722.9" x2="650" y2="733.7" stroke="#d8a232" stroke-width="1.05" stroke-opacity="0.55"/>
<line x1="190" y1="681.5" x2="560" y2="725.9" stroke="#d8a232" stroke-width="1.5" stroke-opacity="0.9"/>
<line x1="560" y1="725.9" x2="650" y2="736.7" stroke="#d8a232" stroke-width="1.05" stroke-opacity="0.55"/>
<line x1="190" y1="684.5" x2="560" y2="728.9" stroke="#d8a232" stroke-width="1.5" stroke-opacity="0.9"/>
<line x1="560" y1="728.9" x2="650" y2="739.7" stroke="#d8a232" stroke-width="1.05" stroke-opacity="0.55"/>
<line x1="190" y1="687.5" x2="560" y2="731.9" stroke="#d8a232" stroke-width="1.5" stroke-opacity="0.9"/>
<line x1="560" y1="731.9" x2="650" y2="742.7" stroke="#d8a232" stroke-width="1.05" stroke-opacity="0.55"/>
<line x1="190" y1="690.5" x2="560" y2="734.9" stroke="#d8a232" stroke-width="1.5" stroke-opacity="0.9"/>
<line x1="560" y1="734.9" x2="650" y2="745.7" stroke="#d8a232" stroke-width="1.05" stroke-opacity="0.55"/>
<line x1="190" y1="693.5" x2="560" y2="737.9" stroke="#d8a232" stroke-width="1.5" stroke-opacity="0.9"/>
<line x1="560" y1="737.9" x2="650" y2="748.7" stroke="#d8a232" stroke-width="1.05" stroke-opacity="0.55"/>
<line x1="190" y1="696.5" x2="560" y2="740.9" stroke="#d8a232" stroke-width="1.5" stroke-opacity="0.9"/>
<line x1="560" y1="740.9" x2="650" y2="751.7" stroke="#d8a232" stroke-width="1.05" stroke-opacity="0.55"/>
<line x1="190" y1="699.5" x2="560" y2="743.9" stroke="#d8a232" stroke-width="1.5" stroke-opacity="0.9"/>
<line x1="560" y1="743.9" x2="650" y2="754.7" stroke="#d8a232" stroke-width="1.05" stroke-opacity="0.55"/>
<line x1="190" y1="702.5" x2="560" y2="746.9" stroke="#d8a232" stroke-width="1.5" stroke-opacity="0.9"/>
<line x1="560" y1="746.9" x2="650" y2="757.7" stroke="#d8a232" stroke-width="1.05" stroke-opacity="0.55"/>
<line x1="190" y1="705.5" x2="560" y2="749.9" stroke="#d8a232" stroke-width="1.5" stroke-opacity="0.9"/>
<line x1="560" y1="749.9" x2="650" y2="760.7" stroke="#d8a232" stroke-width="1.05" stroke-opacity="0.55"/>
<line x1="190" y1="708.5" x2="560" y2="752.9" stroke="#d8a232" stroke-width="1.5" stroke-opacity="0.9"/>
<line x1="560" y1="752.9" x2="650" y2="763.7" stroke="#d8a232" stroke-width="1.05" stroke-opacity="0.55"/>
<line x1="190" y1="711.5" x2="560" y2="755.9" stroke="#d8a232" stroke-width="1.5" stroke-opacity="0.9"/>
<line x1="560" y1="755.9" x2="650" y2="766.7" stroke="#d8a232" stroke-width="1.05" stroke-opacity="0.55"/>
<line x1="190" y1="714.5" x2="560" y2="758.9" stroke="#d8a232" stroke-width="1.5" stroke-opacity="0.9"/>
<line x1="560" y1="758.9" x2="650" y2="769.7" stroke="#d8a232" stroke-width="1.05" stroke-opacity="0.55"/>
<line x1="190" y1="717.5" x2="560" y2="761.9" stroke="#d8a232" stroke-width="1.5" stroke-opacity="0.9"/>
<line x1="560" y1="761.9" x2="650" y2="772.7" stroke="#d8a232" stroke-width="1.05" stroke-opacity="0.55"/>
<line x1="190" y1="720.5" x2="560" y2="764.9" stroke="#d8a232" stroke-width="1.5" stroke-opacity="0.9"/>
<line x1="560" y1="764.9" x2="650" y2="775.7" stroke="#d8a232" stroke-width="1.05" stroke-opacity="0.55"/>
<line x1="190" y1="723.5" x2="560" y2="767.9" stroke="#d8a232" stroke-width="1.5" stroke-opacity="0.9"/>
<line x1="560" y1="767.9" x2="650" y2="778.7" stroke="#d8a232" stroke-width="1.05" stroke-opacity="0.55"/>
<line x1="190" y1="726.5" x2="560" y2="770.9" stroke="#d8a232" stroke-width="1.5" stroke-opacity="0.9"/>
<line x1="560" y1="770.9" x2="650" y2="781.7" stroke="#d8a232" stroke-width="1.05" stroke-opacity="0.55"/>
<line x1="190" y1="729.5" x2="560" y2="773.9" stroke="#d8a232" stroke-width="1.5" stroke-opacity="0.9"/>
<line x1="560" y1="773.9" x2="650" y2="784.7" stroke="#d8a232" stroke-width="1.05" stroke-opacity="0.55"/>
<line x1="190" y1="732.5" x2="560" y2="776.9" stroke="#d8a232" stroke-width="1.5" stroke-opacity="0.9"/>
<line x1="560" y1="776.9" x2="650" y2="787.7" stroke="#d8a232" stroke-width="1.05" stroke-opacity="0.55"/>
<line x1="190" y1="735.5" x2="560" y2="779.9" stroke="#d8a232" stroke-width="1.5" stroke-opacity="0.9"/>
<line x1="560" y1="779.9" x2="650" y2="790.7" stroke="#d8a232" stroke-width="1.05" stroke-opacity="0.55"/>
<line x1="190" y1="738.5" x2="560" y2="782.9" stroke="#d8a232" stroke-width="1.5" stroke-opacity="0.9"/>
<line x1="560" y1="782.9" x2="650" y2="793.7" stroke="#d8a232" stroke-width="1.05" stroke-opacity="0.55"/>
<line x1="190" y1="741.5" x2="560" y2="785.9" stroke="#d8a232" stroke-width="1.5" stroke-opacity="0.9"/>
<line x1="560" y1="785.9" x2="650" y2="796.7" stroke="#d8a232" stroke-width="1.05" stroke-opacity="0.55"/>
<line x1="190" y1="744.5" x2="560" y2="788.9" stroke="#d8a232" stroke-width="1.5" stroke-opacity="0.9"/>
<line x1="560" y1="788.9" x2="650" y2="799.7" stroke="#d8a232" stroke-width="1.05" stroke-opacity="0.55"/>
<line x1="190" y1="747.5" x2="560" y2="791.9" stroke="#d8a232" stroke-width="1.5" stroke-opacity="0.9"/>
<line x1="560" y1="791.9" x2="650" y2="802.7" stroke="#d8a232" stroke-width="1.05" stroke-opacity="0.55"/>
<line x1="190" y1="750.5" x2="560" y2="794.9" stroke="#d8a232" stroke-width="1.5" stroke-opacity="0.9"/>
<line x1="560" y1="794.9" x2="650" y2="805.7" stroke="#d8a232" stroke-width="1.05" stroke-opacity="0.55"/>
<line x1="190" y1="753.5" x2="560" y2="797.9" stroke="#d8a232" stroke-width="1.5" stroke-opacity="0.9"/>
<line x1="560" y1="797.9" x2="650" y2="808.7" stroke="#d8a232" stroke-width="1.05" stroke-opacity="0.55"/>
<line x1="190" y1="756.5" x2="560" y2="800.9" stroke="#d8a232" stroke-width="1.5" stroke-opacity="0.9"/>
<line x1="560" y1="800.9" x2="650" y2="811.7" stroke="#d8a232" stroke-width="1.05" stroke-opacity="0.55"/>
<line x1="190" y1="759.5" x2="560" y2="803.9" stroke="#d8a232" stroke-width="1.5" stroke-opacity="0.9"/>
<line x1="560" y1="803.9" x2="650" y2="814.7" stroke="#d8a232" stroke-width="1.05" stroke-opacity="0.55"/>
<line x1="190" y1="762.5" x2="560" y2="806.9" stroke="#d8a232" stroke-width="1.5" stroke-opacity="0.9"/>
<line x1="560" y1="806.9" x2="650" y2="817.7" stroke="#d8a232" stroke-width="1.05" stroke-opacity="0.55"/>
<line x1="190" y1="765.5" x2="560" y2="809.9" stroke="#d8a232" stroke-width="1.5" stroke-opacity="0.9"/>
<line x1="560" y1="809.9" x2="650" y2="820.7" stroke="#d8a232" stroke-width="1.05" stroke-opacity="0.55"/>
<line x1="190" y1="768.5" x2="560" y2="812.9" stroke="#d8a232" stroke-width="1.5" stroke-opacity="0.9"/>
<line x1="560" y1="812.9" x2="650" y2="823.7" stroke="#d8a232" stroke-width="1.05" stroke-opacity="0.55"/>
<line x1="190" y1="771.5" x2="560" y2="815.9" stroke="#d8a232" stroke-width="1.5" stroke-opacity="0.9"/>
<line x1="560" y1="815.9" x2="650" y2="826.7" stroke="#d8a232" stroke-width="1.05" stroke-opacity="0.55"/>
<line x1="190" y1="774.5" x2="560" y2="818.9" stroke="#d8a232" stroke-width="1.5" stroke-opacity="0.9"/>
<line x1="560" y1="818.9" x2="650" y2="829.7" stroke="#d8a232" stroke-width="1.05" stroke-opacity="0.55"/>
<line x1="190" y1="777.5" x2="560" y2="821.9" stroke="#d8a232" stroke-width="1.5" stroke-opacity="0.9"/>
<line x1="560" y1="821.9" x2="650" y2="832.7" stroke="#d8a232" stroke-width="1.05" stroke-opacity="0.55"/>
<line x1="190" y1="780.5" x2="560" y2="824.9" stroke="#d8a232" stroke-width="1.5" stroke-opacity="0.9"/>
<line x1="560" y1="824.9" x2="650" y2="835.7" stroke="#d8a232" stroke-width="1.05" stroke-opacity="0.55"/>
<line x1="190" y1="783.5" x2="560" y2="827.9" stroke="#d8a232" stroke-width="1.5" stroke-opacity="0.9"/>
<line x1="560" y1="827.9" x2="650" y2="838.7" stroke="#d8a232" stroke-width="1.05" stroke-opacity="0.55"/>
<line x1="190" y1="786.5" x2="560" y2="830.9" stroke="#d8a232" stroke-width="1.5" stroke-opacity="0.9"/>
<line x1="560" y1="830.9" x2="650" y2="841.7" stroke="#d8a232" stroke-width="1.05" stroke-opacity="0.55"/>
<line x1="190" y1="789.5" x2="560" y2="833.9" stroke="#d8a232" stroke-width="1.5" stroke-opacity="0.9"/>
<line x1="560" y1="833.9" x2="650" y2="844.7" stroke="#d8a232" stroke-width="1.05" stroke-opacity="0.55"/>
<line x1="190" y1="792.5" x2="560" y2="836.9" stroke="#d8a232" stroke-width="1.5" stroke-opacity="0.9"/>
<line x1="560" y1="836.9" x2="650" y2="847.7" stroke="#d8a232" stroke-width="1.05" stroke-opacity="0.55"/>
<line x1="190" y1="795.5" x2="560" y2="839.9" stroke="#d8a232" stroke-width="1.5" stroke-opacity="0.9"/>
<line x1="560" y1="839.9" x2="650" y2="850.7" stroke="#d8a232" stroke-width="1.05" stroke-opacity="0.55"/>
<line x1="190" y1="798.5" x2="560" y2="842.9" stroke="#d8a232" stroke-width="1.5" stroke-opacity="0.9"/>
<line x1="560" y1="842.9" x2="650" y2="853.7" stroke="#d8a232" stroke-width="1.05" stroke-opacity="0.55"/>
<line x1="190" y1="801.5" x2="560" y2="845.9" stroke="#d8a232" stroke-width="1.5" stroke-opacity="0.9"/>
<line x1="560" y1="845.9" x2="650" y2="856.7" stroke="#d8a232" stroke-width="1.05" stroke-opacity="0.55"/>
<line x1="190" y1="804.5" x2="560" y2="848.9" stroke="#d8a232" stroke-width="1.5" stroke-opacity="0.9"/>
<line x1="560" y1="848.9" x2="650" y2="859.7" stroke="#d8a232" stroke-width="1.05" stroke-opacity="0.55"/>
<line x1="190" y1="807.5" x2="560" y2="851.9" stroke="#d8a232" stroke-width="1.5" stroke-opacity="0.9"/>
<line x1="560" y1="851.9" x2="650" y2="862.7" stroke="#d8a232" stroke-width="1.05" stroke-opacity="0.55"/>
<line x1="190" y1="810.5" x2="560" y2="854.9" stroke="#d8a232" stroke-width="1.5" stroke-opacity="0.9"/>
<line x1="560" y1="854.9" x2="650" y2="865.7" stroke="#d8a232" stroke-width="1.05" stroke-opacity="0.55"/>
<line x1="190" y1="813.5" x2="560" y2="857.9" stroke="#d8a232" stroke-width="1.5" stroke-opacity="0.9"/>
<line x1="560" y1="857.9" x2="650" y2="868.7" stroke="#d8a232" stroke-width="1.05" stroke-opacity="0.55"/>
<line x1="190" y1="816.5" x2="560" y2="860.9" stroke="#d8a232" stroke-width="1.5" stroke-opacity="0.9"/>
<line x1="560" y1="860.9" x2="650" y2="871.7" stroke="#d8a232" stroke-width="1.05" stroke-opacity="0.55"/>
<line x1="190" y1="819.5" x2="560" y2="863.9" stroke="#d8a232" stroke-width="1.5" stroke-opacity="0.9"/>
<line x1="560" y1="863.9" x2="650" y2="874.7" stroke="#d8a232" stroke-width="1.05" stroke-opacity="0.55"/>
<line x1="190" y1="822.5" x2="560" y2="866.9" stroke="#d8a232" stroke-width="1.5" stroke-opacity="0.9"/>
<line x1="560" y1="866.9" x2="650" y2="877.7" stroke="#d8a232" stroke-width="1.05" stroke-opacity="0.55"/>
<line x1="190" y1="825.5" x2="560" y2="869.9" stroke="#d8a232" stroke-width="1.5" stroke-opacity="0.9"/>
<line x1="560" y1="869.9" x2="650" y2="880.7" stroke="#d8a232" stroke-width="1.05" stroke-opacity="0.55"/>
<line x1="190" y1="828.5" x2="560" y2="872.9" stroke="#d8a232" stroke-width="1.5" stroke-opacity="0.9"/>
<line x1="560" y1="872.9" x2="650" y2="883.7" stroke="#d8a232" stroke-width="1.05" stroke-opacity="0.55"/>
<line x1="190" y1="831.5" x2="560" y2="875.9" stroke="#d8a232" stroke-width="1.5" stroke-opacity="0.9"/>
<line x1="560" y1="875.9" x2="650" y2="886.7" stroke="#d8a232" stroke-width="1.05" stroke-opacity="0.55"/>
<line x1="190" y1="834.5" x2="560" y2="878.9" stroke="#d8a232" stroke-width="1.5" stroke-opacity="0.9"/>
<line x1="560" y1="878.9" x2="650" y2="889.7" stroke="#d8a232" stroke-width="1.05" stroke-opacity="0.55"/>
<line x1="190" y1="837.5" x2="560" y2="881.9" stroke="#d8a232" stroke-width="1.5" stroke-opacity="0.9"/>
<line x1="560" y1="881.9" x2="650" y2="892.7" stroke="#d8a232" stroke-width="1.05" stroke-opacity="0.55"/>
<line x1="190" y1="840.5" x2="560" y2="884.9" stroke="#d8a232" stroke-width="1.5" stroke-opacity="0.9"/>
<line x1="560" y1="884.9" x2="650" y2="895.7" stroke="#d8a232" stroke-width="1.05" stroke-opacity="0.55"/>
<line x1="190" y1="843.5" x2="560" y2="887.9" stroke="#d8a232" stroke-width="1.5" stroke-opacity="0.9"/>
<line x1="560" y1="887.9" x2="650" y2="898.7" stroke="#d8a232" stroke-width="1.05" stroke-opacity="0.55"/>
<line x1="190" y1="846.5" x2="560" y2="890.9" stroke="#d8a232" stroke-width="1.5" stroke-opacity="0.9"/>
<line x1="560" y1="890.9" x2="650" y2="901.7" stroke="#d8a232" stroke-width="1.05" stroke-opacity="0.55"/>
<line x1="190" y1="849.5" x2="560" y2="893.9" stroke="#d8a232" stroke-width="1.5" stroke-opacity="0.9"/>
<line x1="560" y1="893.9" x2="650" y2="904.7" stroke="#d8a232" stroke-width="1.05" stroke-opacity="0.55"/>
<line x1="190" y1="852.5" x2="560" y2="896.9" stroke="#d8a232" stroke-width="1.5" stroke-opacity="0.9"/>
<line x1="560" y1="896.9" x2="650" y2="907.7" stroke="#d8a232" stroke-width="1.05" stroke-opacity="0.55"/>
<line x1="190" y1="855.5" x2="560" y2="899.9" stroke="#d8a232" stroke-width="1.5" stroke-opacity="0.9"/>
<line x1="560" y1="899.9" x2="650" y2="910.7" stroke="#d8a232" stroke-width="1.05" stroke-opacity="0.55"/>
<line x1="190" y1="858.5" x2="560" y2="902.9" stroke="#d8a232" stroke-width="1.5" stroke-opacity="0.9"/>
<line x1="560" y1="902.9" x2="650" y2="913.7" stroke="#d8a232" stroke-width="1.05" stroke-opacity="0.55"/>
<line x1="190" y1="861.5" x2="560" y2="905.9" stroke="#d8a232" stroke-width="1.5" stroke-opacity="0.9"/>
<line x1="560" y1="905.9" x2="650" y2="916.7" stroke="#d8a232" stroke-width="1.05" stroke-opacity="0.55"/>
<line x1="190" y1="864.5" x2="560" y2="908.9" stroke="#d8a232" stroke-width="1.5" stroke-opacity="0.9"/>
<line x1="560" y1="908.9" x2="650" y2="919.7" stroke="#d8a232" stroke-width="1.05" stroke-opacity="0.55"/>
<line x1="190" y1="867.5" x2="560" y2="911.9" stroke="#d8a232" stroke-width="1.5" stroke-opacity="0.9"/>
<line x1="560" y1="911.9" x2="650" y2="922.7" stroke="#d8a232" stroke-width="1.05" stroke-opacity="0.55"/>
<line x1="190" y1="870.5" x2="560" y2="914.9" stroke="#d8a232" stroke-width="1.5" stroke-opacity="0.9"/>
<line x1="560" y1="914.9" x2="650" y2="925.7" stroke="#d8a232" stroke-width="1.05" stroke-opacity="0.55"/>
<line x1="190" y1="873.5" x2="560" y2="917.9" stroke="#d8a232" stroke-width="1.5" stroke-opacity="0.9"/>
<line x1="560" y1="917.9" x2="650" y2="928.7" stroke="#d8a232" stroke-width="1.05" stroke-opacity="0.55"/>
<line x1="190" y1="876.5" x2="560" y2="920.9" stroke="#d8a232" stroke-width="1.5" stroke-opacity="0.9"/>
<line x1="560" y1="920.9" x2="650" y2="931.7" stroke="#d8a232" stroke-width="1.05" stroke-opacity="0.55"/>
<line x1="190" y1="879.5" x2="560" y2="923.9" stroke="#d8a232" stroke-width="1.5" stroke-opacity="0.9"/>
<line x1="560" y1="923.9" x2="650" y2="934.7" stroke="#d8a232" stroke-width="1.05" stroke-opacity="0.55"/>
<line x1="190" y1="882.5" x2="560" y2="926.9" stroke="#d8a232" stroke-width="1.5" stroke-opacity="0.9"/>
<line x1="560" y1="926.9" x2="650" y2="937.7" stroke="#d8a232" stroke-width="1.05" stroke-opacity="0.55"/>
<line x1="190" y1="885.5" x2="560" y2="929.9" stroke="#d8a232" stroke-width="1.5" stroke-opacity="0.9"/>
<line x1="560" y1="929.9" x2="650" y2="940.7" stroke="#d8a232" stroke-width="1.05" stroke-opacity="0.55"/>
<line x1="190" y1="888.5" x2="560" y2="932.9" stroke="#d8a232" stroke-width="1.5" stroke-opacity="0.9"/>
<line x1="560" y1="932.9" x2="650" y2="943.7" stroke="#d8a232" stroke-width="1.05" stroke-opacity="0.55"/>
<line x1="190" y1="891.5" x2="560" y2="935.9" stroke="#d8a232" stroke-width="1.5" stroke-opacity="0.9"/>
<line x1="560" y1="935.9" x2="650" y2="946.7" stroke="#d8a232" stroke-width="1.05" stroke-opacity="0.55"/>
<line x1="190" y1="894.5" x2="560" y2="938.9" stroke="#d8a232" stroke-width="1.5" stroke-opacity="0.9"/>
<line x1="560" y1="938.9" x2="650" y2="949.7" stroke="#d8a232" stroke-width="1.05" stroke-opacity="0.55"/>
<line x1="190" y1="897.5" x2="560" y2="941.9" stroke="#d8a232" stroke-width="1.5" stroke-opacity="0.9"/>
<line x1="560" y1="941.9" x2="650" y2="952.7" stroke="#d8a232" stroke-width="1.05" stroke-opacity="0.55"/>
<line x1="190" y1="900.5" x2="560" y2="944.9" stroke="#d8a232" stroke-width="1.5" stroke-opacity="0.9"/>
<line x1="560" y1="944.9" x2="650" y2="955.7" stroke="#d8a232" stroke-width="1.05" stroke-opacity="0.55"/>
<line x1="190" y1="903.5" x2="560" y2="947.9" stroke="#d8a232" stroke-width="1.5" stroke-opacity="0.9"/>
<line x1="560" y1="947.9" x2="650" y2="958.7" stroke="#d8a232" stroke-width="1.05" stroke-opacity="0.55"/>
<line x1="190" y1="906.5" x2="560" y2="950.9" stroke="#d8a232" stroke-width="1.5" stroke-opacity="0.9"/>
<line x1="560" y1="950.9" x2="650" y2="961.7" stroke="#d8a232" stroke-width="1.05" stroke-opacity="0.55"/>
<line x1="190" y1="909.5" x2="560" y2="953.9" stroke="#d8a232" stroke-width="1.5" stroke-opacity="0.9"/>
<line x1="560" y1="953.9" x2="650" y2="964.7" stroke="#d8a232" stroke-width="1.05" stroke-opacity="0.55"/>
<line x1="190" y1="912.5" x2="560" y2="956.9" stroke="#d8a232" stroke-width="1.5" stroke-opacity="0.9"/>
<line x1="560" y1="956.9" x2="650" y2="967.7" stroke="#d8a232" stroke-width="1.05" stroke-opacity="0.55"/>
<line x1="190" y1="915.5" x2="560" y2="959.9" stroke="#d8a232" stroke-width="1.5" stroke-opacity="0.9"/>
<line x1="560" y1="959.9" x2="650" y2="970.7" stroke="#d8a232" stroke-width="1.05" stroke-opacity="0.55"/>
<line x1="190" y1="918.5" x2="560" y2="962.9" stroke="#d8a232" stroke-width="1.5" stroke-opacity="0.9"/>
<line x1="560" y1="962.9" x2="650" y2="973.7" stroke="#d8a232" stroke-width="1.05" stroke-opacity="0.55"/>
<line x1="190" y1="921.5" x2="560" y2="965.9" stroke="#d8a232" stroke-width="1.5" stroke-opacity="0.9"/>
<line x1="560" y1="965.9" x2="650" y2="976.7" stroke="#d8a232" stroke-width="1.05" stroke-opacity="0.55"/>
<line x1="190" y1="924.5" x2="560" y2="968.9" stroke="#d8a232" stroke-width="1.5" stroke-opacity="0.9"/>
<line x1="560" y1="968.9" x2="650" y2="979.7" stroke="#d8a232" stroke-width="1.05" stroke-opacity="0.55"/>
<line x1="190" y1="927.5" x2="560" y2="971.9" stroke="#d8a232" stroke-width="1.5" stroke-opacity="0.9"/>
<line x1="560" y1="971.9" x2="650" y2="982.7" stroke="#d8a232" stroke-width="1.05" stroke-opacity="0.55"/>
<line x1="190" y1="930.5" x2="560" y2="974.9" stroke="#d8a232" stroke-width="1.5" stroke-opacity="0.9"/>
<line x1="560" y1="974.9" x2="650" y2="985.7" stroke="#d8a232" stroke-width="1.05" stroke-opacity="0.55"/>
<line x1="190" y1="933.5" x2="560" y2="977.9" stroke="#d8a232" stroke-width="1.5" stroke-opacity="0.9"/>
<line x1="560" y1="977.9" x2="650" y2="988.7" stroke="#d8a232" stroke-width="1.05" stroke-opacity="0.55"/>
<line x1="190" y1="936.5" x2="560" y2="980.9" stroke="#d8a232" stroke-width="1.5" stroke-opacity="0.9"/>
<line x1="560" y1="980.9" x2="650" y2="991.7" stroke="#d8a232" stroke-width="1.05" stroke-opacity="0.55"/>
<line x1="190" y1="939.5" x2="560" y2="983.9" stroke="#d8a232" stroke-width="1.5" stroke-opacity="0.9"/>
<line x1="560" y1="983.9" x2="650" y2="994.7" stroke="#d8a232" stroke-width="1.05" stroke-opacity="0.55"/>
<line x1="190" y1="942.5" x2="560" y2="986.9" stroke="#d8a232" stroke-width="1.5" stroke-opacity="0.9"/>
<line x1="560" y1="986.9" x2="650" y2="997.7" stroke="#d8a232" stroke-width="1.05" stroke-opacity="0.55"/>
<line x1="190" y1="945.5" x2="560" y2="989.9" stroke="#d8a232" stroke-width="1.5" stroke-opacity="0.9"/>
<line x1="560" y1="989.9" x2="650" y2="1000.7" stroke="#d8a232" stroke-width="1.05" stroke-opacity="0.55"/>
<line x1="190" y1="948.5" x2="560" y2="992.9" stroke="#d8a232" stroke-width="1.5" stroke-opacity="0.9"/>
<line x1="560" y1="992.9" x2="650" y2="1003.7" stroke="#d8a232" stroke-width="1.05" stroke-opacity="0.55"/>
<line x1="190" y1="951.5" x2="560" y2="995.9" stroke="#d8a232" stroke-width="1.5" stroke-opacity="0.9"/>
<line x1="560" y1="995.9" x2="650" y2="1006.7" stroke="#d8a232" stroke-width="1.05" stroke-opacity="0.55"/>
<line x1="190" y1="954.5" x2="560" y2="998.9" stroke="#d8a232" stroke-width="1.5" stroke-opacity="0.9"/>
<line x1="560" y1="998.9" x2="650" y2="1009.7" stroke="#d8a232" stroke-width="1.05" stroke-opacity="0.55"/>
<line x1="190" y1="957.5" x2="560" y2="1001.9" stroke="#d8a232" stroke-width="1.5" stroke-opacity="0.9"/>
<line x1="560" y1="1001.9" x2="650" y2="1012.7" stroke="#d8a232" stroke-width="1.05" stroke-opacity="0.55"/>
<line x1="190" y1="960.5" x2="560" y2="1004.9" stroke="#d8a232" stroke-width="1.5" stroke-opacity="0.9"/>
<line x1="560" y1="1004.9" x2="650" y2="1015.7" stroke="#d8a232" stroke-width="1.05" stroke-opacity="0.55"/>
<line x1="190" y1="963.5" x2="560" y2="1007.9" stroke="#d8a232" stroke-width="1.5" stroke-opacity="0.9"/>
<line x1="560" y1="1007.9" x2="650" y2="1018.7" stroke="#d8a232" stroke-width="1.05" stroke-opacity="0.55"/>
<line x1="190" y1="966.5" x2="560" y2="1010.9" stroke="#d8a232" stroke-width="1.5" stroke-opacity="0.9"/>
<line x1="560" y1="1010.9" x2="650" y2="1021.7" stroke="#d8a232" stroke-width="1.05" stroke-opacity="0.55"/>
<line x1="190" y1="969.5" x2="560" y2="1013.9" stroke="#d8a232" stroke-width="1.5" stroke-opacity="0.9"/>
<line x1="560" y1="1013.9" x2="650" y2="1024.7" stroke="#d8a232" stroke-width="1.05" stroke-opacity="0.55"/>
<line x1="190" y1="972.5" x2="560" y2="1016.9" stroke="#d8a232" stroke-width="1.5" stroke-opacity="0.9"/>
<line x1="560" y1="1016.9" x2="650" y2="1027.7" stroke="#d8a232" stroke-width="1.05" stroke-opacity="0.55"/>
<line x1="190" y1="975.5" x2="560" y2="1019.9" stroke="#d8a232" stroke-width="1.5" stroke-opacity="0.9"/>
<line x1="560" y1="1019.9" x2="650" y2="1030.7" stroke="#d8a232" stroke-width="1.05" stroke-opacity="0.55"/>
<line x1="190" y1="978.5" x2="560" y2="1022.9" stroke="#d8a232" stroke-width="1.5" stroke-opacity="0.9"/>
<line x1="560" y1="1022.9" x2="650" y2="1033.7" stroke="#d8a232" stroke-width="1.05" stroke-opacity="0.55"/>
<line x1="190" y1="981.5" x2="560" y2="1025.9" stroke="#d8a232" stroke-width="1.5" stroke-opacity="0.9"/>
<line x1="560" y1="1025.9" x2="650" y2="1036.7" stroke="#d8a232" stroke-width="1.05" stroke-opacity="0.55"/>
<line x1="190" y1="984.5" x2="560" y2="1028.9" stroke="#d8a232" stroke-width="1.5" stroke-opacity="0.9"/>
<line x1="560" y1="1028.9" x2="650" y2="1039.7" stroke="#d8a232" stroke-width="1.05" stroke-opacity="0.55"/>
<line x1="190" y1="987.5" x2="560" y2="1031.9" stroke="#d8a232" stroke-width="1.5" stroke-opacity="0.9"/>
<line x1="560" y1="1031.9" x2="650" y2="1042.7" stroke="#d8a232" stroke-width="1.05" stroke-opacity="0.55"/>
<line x1="190" y1="990.5" x2="560" y2="1034.9" stroke="#d8a232" stroke-width="1.5" stroke-opacity="0.9"/>
<line x1="560" y1="1034.9" x2="650" y2="1045.7" stroke="#d8a232" stroke-width="1.05" stroke-opacity="0.55"/>
<line x1="190" y1="993.5" x2="560" y2="1037.9" stroke="#d8a232" stroke-width="1.5" stroke-opacity="0.9"/>
<line x1="560" y1="1037.9" x2="650" y2="1048.7" stroke="#d8a232" stroke-width="1.05" stroke-opacity="0.55"/>
<line x1="190" y1="996.5" x2="560" y2="1040.9" stroke="#d8a232" stroke-width="1.5" stroke-opacity="0.9"/>
<line x1="560" y1="1040.9" x2="650" y2="1051.7" stroke="#d8a232" stroke-width="1.05" stroke-opacity="0.55"/>
<line x1="190" y1="999.5" x2="560" y2="1043.9" stroke="#d8a232" stroke-width="1.5" stroke-opacity="0.9"/>
<line x1="560" y1="1043.9" x2="650" y2="1054.7" stroke="#d8a232" stroke-width="1.05" stroke-opacity="0.55"/>
<line x1="190" y1="1002.5" x2="560" y2="1046.9" stroke="#d8a232" stroke-width="1.5" stroke-opacity="0.9"/>
<line x1="560" y1="1046.9" x2="650" y2="1057.7" stroke="#d8a232" stroke-width="1.05" stroke-opacity="0.55"/>
<line x1="190" y1="1005.5" x2="560" y2="1049.9" stroke="#d8a232" stroke-width="1.5" stroke-opacity="0.9"/>
<line x1="560" y1="1049.9" x2="650" y2="1060.7" stroke="#d8a232" stroke-width="1.05" stroke-opacity="0.55"/>
<line x1="190" y1="1008.5" x2="560" y2="1052.9" stroke="#d8a232" stroke-width="1.5" stroke-opacity="0.9"/>
<line x1="560" y1="1052.9" x2="650" y2="1063.7" stroke="#d8a232" stroke-width="1.05" stroke-opacity="0.55"/>
<line x1="190" y1="1011.5" x2="560" y2="1055.9" stroke="#d8a232" stroke-width="1.5" stroke-opacity="0.9"/>
<line x1="560" y1="1055.9" x2="650" y2="1066.7" stroke="#d8a232" stroke-width="1.05" stroke-opacity="0.55"/>
<line x1="190" y1="1014.5" x2="560" y2="1058.9" stroke="#d8a232" stroke-width="1.5" stroke-opacity="0.9"/>
<line x1="560" y1="1058.9" x2="650" y2="1069.7" stroke="#d8a232" stroke-width="1.05" stroke-opacity="0.55"/>
<line x1="190" y1="1017.5" x2="560" y2="1061.9" stroke="#d8a232" stroke-width="1.5" stroke-opacity="0.9"/>
<line x1="560" y1="1061.9" x2="650" y2="1072.7" stroke="#d8a232" stroke-width="1.05" stroke-opacity="0.55"/>
<line x1="190" y1="1020.5" x2="560" y2="1064.9" stroke="#d8a232" stroke-width="1.5" stroke-opacity="0.9"/>
<line x1="560" y1="1064.9" x2="650" y2="1075.7" stroke="#d8a232" stroke-width="1.05" stroke-opacity="0.55"/>
<line x1="190" y1="1023.5" x2="560" y2="1067.9" stroke="#d8a232" stroke-width="1.5" stroke-opacity="0.9"/>
<line x1="560" y1="1067.9" x2="650" y2="1078.7" stroke="#d8a232" stroke-width="1.05" stroke-opacity="0.55"/>
<line x1="190" y1="1026.5" x2="560" y2="1070.9" stroke="#d8a232" stroke-width="1.5" stroke-opacity="0.9"/>
<line x1="560" y1="1070.9" x2="650" y2="1081.7" stroke="#d8a232" stroke-width="1.05" stroke-opacity="0.55"/>
<line x1="190" y1="1029.5" x2="560" y2="1073.9" stroke="#d8a232" stroke-width="1.5" stroke-opacity="0.9"/>
<line x1="560" y1="1073.9" x2="650" y2="1084.7" stroke="#d8a232" stroke-width="1.05" stroke-opacity="0.55"/>
<line x1="190" y1="1032.5" x2="560" y2="1076.9" stroke="#d8a232" stroke-width="1.5" stroke-opacity="0.9"/>
<line x1="560" y1="1076.9" x2="650" y2="1087.7" stroke="#d8a232" stroke-width="1.05" stroke-opacity="0.55"/>
<line x1="190" y1="1035.5" x2="560" y2="1079.9" stroke="#d8a232" stroke-width="1.5" stroke-opacity="0.9"/>
<line x1="560" y1="1079.9" x2="650" y2="1090.7" stroke="#d8a232" stroke-width="1.05" stroke-opacity="0.55"/>
<line x1="190" y1="1038.5" x2="560" y2="1082.9" stroke="#d8a232" stroke-width="1.5" stroke-opacity="0.9"/>
<line x1="560" y1="1082.9" x2="650" y2="1093.7" stroke="#d8a232" stroke-width="1.05" stroke-opacity="0.55"/>
</g>
<g clip-path="url(#khb)">
<line x1="542.0" y1="820.5" x2="752.7" y2="901.1" stroke="#e0b030" stroke-width="1.0" stroke-opacity="0.9"/>
<line x1="387.5" y1="762.7" x2="551.4" y2="833.4" stroke="#c8c838" stroke-width="1.0" stroke-opacity="0.9"/>
<line x1="409.4" y1="772.9" x2="556.4" y2="802.5" stroke="#e0b030" stroke-width="1.0" stroke-opacity="0.9"/>
<line x1="444.8" y1="791.2" x2="534.0" y2="813.9" stroke="#b0d040" stroke-width="1.0" stroke-opacity="0.9"/>
<line x1="421.5" y1="781.7" x2="580.3" y2="808.0" stroke="#c8c838" stroke-width="1.0" stroke-opacity="0.9"/>
<line x1="414.4" y1="780.2" x2="598.2" y2="802.5" stroke="#c8c838" stroke-width="1.0" stroke-opacity="0.9"/>
<line x1="606.8" y1="828.9" x2="753.1" y2="892.8" stroke="#c8c838" stroke-width="1.0" stroke-opacity="0.9"/>
<line x1="427.2" y1="785.9" x2="641.6" y2="825.6" stroke="#b0d040" stroke-width="1.0" stroke-opacity="0.9"/>
<line x1="457.7" y1="792.8" x2="541.0" y2="807.3" stroke="#90d838" stroke-width="1.0" stroke-opacity="0.9"/>
<line x1="466.3" y1="800.7" x2="621.6" y2="849.4" stroke="#70d030" stroke-width="1.0" stroke-opacity="0.9"/>
<line x1="397.2" y1="766.1" x2="568.6" y2="804.0" stroke="#c8c838" stroke-width="1.0" stroke-opacity="0.9"/>
<line x1="505.1" y1="812.3" x2="721.1" y2="842.3" stroke="#90d838" stroke-width="1.0" stroke-opacity="0.9"/>
<line x1="626.8" y1="833.7" x2="774.6" y2="871.2" stroke="#b0d040" stroke-width="1.0" stroke-opacity="0.9"/>
<line x1="475.2" y1="801.7" x2="542.7" y2="810.0" stroke="#c8c838" stroke-width="1.0" stroke-opacity="0.9"/>
<line x1="542.2" y1="822.7" x2="641.5" y2="838.5" stroke="#b0d040" stroke-width="1.0" stroke-opacity="0.9"/>
<line x1="469.5" y1="797.3" x2="653.6" y2="851.3" stroke="#90d838" stroke-width="1.0" stroke-opacity="0.9"/>
<line x1="533.3" y1="819.2" x2="640.7" y2="845.1" stroke="#b0d040" stroke-width="1.0" stroke-opacity="0.9"/>
<line x1="625.9" y1="830.9" x2="783.6" y2="867.5" stroke="#c8c838" stroke-width="1.0" stroke-opacity="0.9"/>
<line x1="468.4" y1="802.6" x2="578.4" y2="835.5" stroke="#70d030" stroke-width="1.0" stroke-opacity="0.9"/>
<line x1="459.6" y1="797.9" x2="635.0" y2="855.2" stroke="#70d030" stroke-width="1.0" stroke-opacity="0.9"/>
<line x1="639.1" y1="834.5" x2="857.0" y2="864.2" stroke="#e0b030" stroke-width="1.0" stroke-opacity="0.9"/>
<line x1="620.1" y1="829.0" x2="735.2" y2="870.9" stroke="#70d030" stroke-width="1.0" stroke-opacity="0.9"/>
<line x1="498.5" y1="807.8" x2="705.0" y2="836.4" stroke="#90d838" stroke-width="1.0" stroke-opacity="0.9"/>
<line x1="588.4" y1="825.6" x2="805.4" y2="866.5" stroke="#e0b030" stroke-width="1.0" stroke-opacity="0.9"/>
<line x1="626.9" y1="836.5" x2="704.0" y2="865.8" stroke="#b0d040" stroke-width="1.0" stroke-opacity="0.9"/>
<line x1="477.0" y1="797.2" x2="559.6" y2="818.6" stroke="#e0b030" stroke-width="1.0" stroke-opacity="0.9"/>
<line x1="601.6" y1="834.7" x2="739.7" y2="871.9" stroke="#70d030" stroke-width="1.0" stroke-opacity="0.9"/>
<line x1="504.6" y1="808.1" x2="588.0" y2="829.2" stroke="#b0d040" stroke-width="1.0" stroke-opacity="0.9"/>
<line x1="593.7" y1="828.7" x2="803.7" y2="866.3" stroke="#70d030" stroke-width="1.0" stroke-opacity="0.9"/>
<line x1="426.8" y1="781.0" x2="574.5" y2="823.8" stroke="#e0b030" stroke-width="1.0" stroke-opacity="0.9"/>
<line x1="473.9" y1="803.3" x2="645.1" y2="867.6" stroke="#90d838" stroke-width="1.0" stroke-opacity="0.9"/>
<line x1="577.5" y1="823.7" x2="682.4" y2="860.7" stroke="#b0d040" stroke-width="1.0" stroke-opacity="0.9"/>
<line x1="448.9" y1="795.4" x2="662.0" y2="871.3" stroke="#70d030" stroke-width="1.0" stroke-opacity="0.9"/>
<line x1="548.9" y1="820.2" x2="696.4" y2="838.5" stroke="#70d030" stroke-width="1.0" stroke-opacity="0.9"/>
<line x1="464.7" y1="794.6" x2="604.8" y2="824.8" stroke="#70d030" stroke-width="1.0" stroke-opacity="0.9"/>
<line x1="470.4" y1="800.6" x2="663.0" y2="870.5" stroke="#70d030" stroke-width="1.0" stroke-opacity="0.9"/>
<line x1="619.8" y1="830.3" x2="751.8" y2="883.9" stroke="#70d030" stroke-width="1.0" stroke-opacity="0.9"/>
<line x1="628.7" y1="835.7" x2="715.3" y2="861.3" stroke="#70d030" stroke-width="1.0" stroke-opacity="0.9"/>
<line x1="623.7" y1="834.2" x2="798.9" y2="895.2" stroke="#b0d040" stroke-width="1.0" stroke-opacity="0.9"/>
<line x1="424.7" y1="782.9" x2="591.2" y2="834.8" stroke="#b0d040" stroke-width="1.0" stroke-opacity="0.9"/>
<line x1="458.7" y1="795.1" x2="562.0" y2="837.0" stroke="#90d838" stroke-width="1.0" stroke-opacity="0.9"/>
<line x1="430.9" y1="783.7" x2="519.8" y2="812.7" stroke="#c8c838" stroke-width="1.0" stroke-opacity="0.9"/>
<line x1="544.0" y1="813.9" x2="640.2" y2="840.4" stroke="#90d838" stroke-width="1.0" stroke-opacity="0.9"/>
<line x1="611.9" y1="828.1" x2="749.1" y2="888.4" stroke="#e0b030" stroke-width="1.0" stroke-opacity="0.9"/>
<line x1="389.3" y1="763.5" x2="547.2" y2="802.3" stroke="#e0b030" stroke-width="1.0" stroke-opacity="0.9"/>
<line x1="433.1" y1="786.1" x2="549.2" y2="814.3" stroke="#70d030" stroke-width="1.0" stroke-opacity="0.9"/>
<line x1="602.5" y1="833.8" x2="750.1" y2="885.0" stroke="#90d838" stroke-width="1.0" stroke-opacity="0.9"/>
<line x1="523.0" y1="812.3" x2="665.0" y2="843.1" stroke="#e0b030" stroke-width="1.0" stroke-opacity="0.9"/>
<line x1="456.2" y1="792.1" x2="581.7" y2="812.5" stroke="#e0b030" stroke-width="1.0" stroke-opacity="0.9"/>
<line x1="547.0" y1="817.7" x2="702.3" y2="843.7" stroke="#e0b030" stroke-width="1.0" stroke-opacity="0.9"/>
<line x1="504.0" y1="807.0" x2="578.6" y2="819.2" stroke="#90d838" stroke-width="1.0" stroke-opacity="0.9"/>
<line x1="479.3" y1="800.7" x2="625.6" y2="862.5" stroke="#70d030" stroke-width="1.0" stroke-opacity="0.9"/>
<line x1="543.7" y1="822.3" x2="672.7" y2="853.8" stroke="#c8c838" stroke-width="1.0" stroke-opacity="0.9"/>
<line x1="508.3" y1="810.8" x2="629.7" y2="853.8" stroke="#c8c838" stroke-width="1.0" stroke-opacity="0.9"/>
<line x1="534.9" y1="814.3" x2="674.3" y2="876.2" stroke="#b0d040" stroke-width="1.0" stroke-opacity="0.9"/>
<line x1="385.1" y1="766.4" x2="593.8" y2="812.6" stroke="#c8c838" stroke-width="1.0" stroke-opacity="0.9"/>
<line x1="504.0" y1="806.2" x2="635.0" y2="848.8" stroke="#70d030" stroke-width="1.0" stroke-opacity="0.9"/>
<line x1="390.4" y1="760.7" x2="527.2" y2="794.9" stroke="#e0b030" stroke-width="1.0" stroke-opacity="0.9"/>
<line x1="451.2" y1="795.9" x2="550.5" y2="833.4" stroke="#70d030" stroke-width="1.0" stroke-opacity="0.9"/>
<line x1="599.4" y1="831.7" x2="738.2" y2="861.4" stroke="#b0d040" stroke-width="1.0" stroke-opacity="0.9"/>
<line x1="514.7" y1="816.1" x2="717.9" y2="899.5" stroke="#90d838" stroke-width="1.0" stroke-opacity="0.9"/>
<line x1="577.7" y1="823.2" x2="691.5" y2="856.8" stroke="#70d030" stroke-width="1.0" stroke-opacity="0.9"/>
<line x1="570.1" y1="818.9" x2="739.2" y2="858.7" stroke="#e0b030" stroke-width="1.0" stroke-opacity="0.9"/>
<line x1="414.4" y1="770.5" x2="584.2" y2="821.9" stroke="#90d838" stroke-width="1.0" stroke-opacity="0.9"/>
<line x1="610.9" y1="832.2" x2="795.4" y2="855.3" stroke="#b0d040" stroke-width="1.0" stroke-opacity="0.9"/>
<line x1="534.7" y1="818.6" x2="698.5" y2="889.7" stroke="#b0d040" stroke-width="1.0" stroke-opacity="0.9"/>
<line x1="503.7" y1="811.8" x2="707.5" y2="884.6" stroke="#b0d040" stroke-width="1.0" stroke-opacity="0.9"/>
<line x1="595.8" y1="824.4" x2="766.9" y2="892.2" stroke="#b0d040" stroke-width="1.0" stroke-opacity="0.9"/>
<line x1="531.3" y1="817.5" x2="641.1" y2="847.8" stroke="#c8c838" stroke-width="1.0" stroke-opacity="0.9"/>
<line x1="504.4" y1="810.6" x2="617.3" y2="842.7" stroke="#c8c838" stroke-width="1.0" stroke-opacity="0.9"/>
<line x1="482.1" y1="855.4" x2="630.1" y2="831.0" stroke="#70d030" stroke-width="1.0" stroke-opacity="0.85"/>
<line x1="576.7" y1="855.9" x2="639.8" y2="833.9" stroke="#b0d040" stroke-width="1.0" stroke-opacity="0.85"/>
<line x1="614.9" y1="856.3" x2="680.8" y2="832.6" stroke="#90d838" stroke-width="1.0" stroke-opacity="0.85"/>
<line x1="432.6" y1="855.6" x2="578.1" y2="792.2" stroke="#c8c838" stroke-width="1.0" stroke-opacity="0.85"/>
<line x1="618.6" y1="855.7" x2="700.5" y2="832.6" stroke="#c8c838" stroke-width="1.0" stroke-opacity="0.85"/>
<line x1="479.3" y1="854.6" x2="544.6" y2="832.7" stroke="#90d838" stroke-width="1.0" stroke-opacity="0.85"/>
<line x1="538.5" y1="855.8" x2="667.0" y2="825.7" stroke="#90d838" stroke-width="1.0" stroke-opacity="0.85"/>
<line x1="558.2" y1="856.1" x2="670.0" y2="834.8" stroke="#70d030" stroke-width="1.0" stroke-opacity="0.85"/>
<line x1="544.5" y1="855.3" x2="683.3" y2="819.8" stroke="#90d838" stroke-width="1.0" stroke-opacity="0.85"/>
<line x1="413.2" y1="854.9" x2="554.5" y2="809.6" stroke="#70d030" stroke-width="1.0" stroke-opacity="0.85"/>
<line x1="598.5" y1="855.4" x2="690.1" y2="824.6" stroke="#e0b030" stroke-width="1.0" stroke-opacity="0.85"/>
<line x1="436.6" y1="856.0" x2="613.6" y2="814.4" stroke="#c8c838" stroke-width="1.0" stroke-opacity="0.85"/>
<line x1="587.2" y1="855.2" x2="663.0" y2="835.0" stroke="#90d838" stroke-width="1.0" stroke-opacity="0.85"/>
<line x1="537.2" y1="854.5" x2="608.1" y2="829.6" stroke="#90d838" stroke-width="1.0" stroke-opacity="0.85"/>
<line x1="501.6" y1="855.2" x2="617.1" y2="824.4" stroke="#70d030" stroke-width="1.0" stroke-opacity="0.85"/>
<line x1="405.8" y1="855.4" x2="512.0" y2="822.2" stroke="#c8c838" stroke-width="1.0" stroke-opacity="0.85"/>
<line x1="606.7" y1="855.2" x2="756.7" y2="796.9" stroke="#90d838" stroke-width="1.0" stroke-opacity="0.85"/>
<line x1="613.4" y1="855.6" x2="690.2" y2="825.2" stroke="#e0b030" stroke-width="1.0" stroke-opacity="0.85"/>
<line x1="470.2" y1="856.0" x2="641.9" y2="815.3" stroke="#70d030" stroke-width="1.0" stroke-opacity="0.85"/>
<line x1="571.0" y1="855.1" x2="674.0" y2="817.3" stroke="#70d030" stroke-width="1.0" stroke-opacity="0.85"/>
<line x1="573.1" y1="855.2" x2="695.2" y2="805.7" stroke="#e0b030" stroke-width="1.0" stroke-opacity="0.85"/>
<line x1="618.3" y1="854.7" x2="685.9" y2="840.9" stroke="#90d838" stroke-width="1.0" stroke-opacity="0.85"/>
<line x1="388.0" y1="854.7" x2="554.7" y2="827.7" stroke="#b0d040" stroke-width="1.0" stroke-opacity="0.85"/>
<line x1="538.7" y1="855.0" x2="634.8" y2="828.3" stroke="#e0b030" stroke-width="1.0" stroke-opacity="0.85"/>
<line x1="601.2" y1="854.9" x2="684.2" y2="831.0" stroke="#c8c838" stroke-width="1.0" stroke-opacity="0.85"/>
<line x1="397.1" y1="856.0" x2="513.4" y2="808.3" stroke="#e0b030" stroke-width="1.0" stroke-opacity="0.85"/>
<line x1="441.0" y1="854.9" x2="535.4" y2="836.1" stroke="#c8c838" stroke-width="1.0" stroke-opacity="0.85"/>
<line x1="388.0" y1="856.1" x2="538.2" y2="818.0" stroke="#70d030" stroke-width="1.0" stroke-opacity="0.85"/>
<line x1="605.1" y1="855.7" x2="721.7" y2="814.6" stroke="#c8c838" stroke-width="1.0" stroke-opacity="0.85"/>
<line x1="408.3" y1="855.6" x2="549.2" y2="822.2" stroke="#c8c838" stroke-width="1.0" stroke-opacity="0.85"/>
<line x1="388.0" y1="855.7" x2="526.8" y2="811.0" stroke="#e0b030" stroke-width="1.0" stroke-opacity="0.85"/>
<line x1="476.3" y1="856.2" x2="573.7" y2="831.0" stroke="#b0d040" stroke-width="1.0" stroke-opacity="0.85"/>
<line x1="466.8" y1="854.4" x2="582.9" y2="802.4" stroke="#c8c838" stroke-width="1.0" stroke-opacity="0.85"/>
<line x1="422.2" y1="854.7" x2="555.2" y2="833.0" stroke="#70d030" stroke-width="1.0" stroke-opacity="0.85"/>
<line x1="381.5" y1="854.4" x2="490.7" y2="812.5" stroke="#90d838" stroke-width="1.0" stroke-opacity="0.85"/>
<line x1="388.0" y1="856.0" x2="515.8" y2="804.7" stroke="#90d838" stroke-width="1.0" stroke-opacity="0.85"/>
<line x1="552.0" y1="854.8" x2="623.0" y2="827.0" stroke="#b0d040" stroke-width="1.0" stroke-opacity="0.85"/>
<line x1="392.9" y1="854.8" x2="500.6" y2="837.0" stroke="#90d838" stroke-width="1.0" stroke-opacity="0.85"/>
<line x1="391.5" y1="856.0" x2="528.4" y2="817.1" stroke="#90d838" stroke-width="1.0" stroke-opacity="0.85"/>
<line x1="608.0" y1="854.7" x2="744.9" y2="805.6" stroke="#c8c838" stroke-width="1.0" stroke-opacity="0.85"/>
</g>
</g>
<polygon points="68.5,617.1 71.3,618.0 75.2,619.1 79.9,620.5 84.9,622.0 90.1,623.5 95.0,624.8 99.9,626.0 105.0,627.0 110.1,628.1 115.3,629.2 120.2,630.3 124.8,631.4 129.0,632.6 132.9,633.8 136.7,635.0 140.3,636.2 143.9,637.5 147.6,638.8 151.3,640.1 155.1,641.3 158.8,642.6 162.5,643.9 166.2,645.4 170.0,647.0 173.7,648.7 177.2,650.6 180.7,652.5 184.4,654.6 188.5,656.8 193.2,659.3 198.6,662.1 204.7,665.1 211.2,668.4 217.7,671.7 224.1,674.9 230.0,678.0 235.4,680.9 240.6,683.7 245.6,686.5 250.5,689.2 255.2,691.9 260.0,694.5 264.5,697.0 268.6,699.2 272.7,701.4 276.9,703.7 281.6,706.2 287.0,709.0 293.2,712.1 299.9,715.6 307.1,719.2 314.6,722.9 322.2,726.7 330.0,730.5 337.9,734.4 346.1,738.4 354.6,742.4 363.1,746.5 371.6,750.5 380.0,754.5 388.6,758.5 397.4,762.6 406.2,766.7 414.7,770.6 422.7,774.2 430.0,777.5 436.3,780.3 441.8,782.7 446.9,784.8 451.6,786.7 456.4,788.6 461.4,790.6 466.6,792.6 471.9,794.7 477.1,796.6 482.3,798.5 487.6,800.4 492.8,802.0 498.0,803.5 503.3,804.8 508.5,806.1 513.7,807.2 519.0,808.4 524.2,809.5 529.4,810.6 534.6,811.7 539.9,812.7 545.1,813.7 550.3,814.7 555.5,815.7 560.7,816.7 566.0,817.8 571.2,818.8 576.4,819.9 581.7,821.0 586.9,822.0 592.2,823.1 597.7,824.2 603.2,825.2 608.6,826.3 613.7,827.3 618.3,828.3 622.7,829.2 626.9,830.2 630.9,831.0 634.4,831.8 637.3,832.5 639.5,833.0 640.0,833.0 618.3,828.3 586.9,822.0 555.5,815.7 524.2,809.5 505.0,807.0 495.0,805.5 484.0,803.5 459.0,800.3 440.0,799.1 420.0,797.0 389.6,792.5 330.0,773.9 300.0,761.0 260.0,746.0 230.0,732.7 208.3,724.9 192.6,719.7 166.3,709.8 144.0,699.8 104.0,683.1 68.5,668.3" fill="#fcbd0a"/>
<clipPath id="upb"><polygon points="68.5,617.1 71.3,618.0 75.2,619.1 79.9,620.5 84.9,622.0 90.1,623.5 95.0,624.8 99.9,626.0 105.0,627.0 110.1,628.1 115.3,629.2 120.2,630.3 124.8,631.4 129.0,632.6 132.9,633.8 136.7,635.0 140.3,636.2 143.9,637.5 147.6,638.8 151.3,640.1 155.1,641.3 158.8,642.6 162.5,643.9 166.2,645.4 170.0,647.0 173.7,648.7 177.2,650.6 180.7,652.5 184.4,654.6 188.5,656.8 193.2,659.3 198.6,662.1 204.7,665.1 211.2,668.4 217.7,671.7 224.1,674.9 230.0,678.0 235.4,680.9 240.6,683.7 245.6,686.5 250.5,689.2 255.2,691.9 260.0,694.5 264.5,697.0 268.6,699.2 272.7,701.4 276.9,703.7 281.6,706.2 287.0,709.0 293.2,712.1 299.9,715.6 307.1,719.2 314.6,722.9 322.2,726.7 330.0,730.5 337.9,734.4 346.1,738.4 354.6,742.4 363.1,746.5 371.6,750.5 380.0,754.5 388.6,758.5 397.4,762.6 406.2,766.7 414.7,770.6 422.7,774.2 430.0,777.5 436.3,780.3 441.8,782.7 446.9,784.8 451.6,786.7 456.4,788.6 461.4,790.6 466.6,792.6 471.9,794.7 477.1,796.6 482.3,798.5 487.6,800.4 492.8,802.0 498.0,803.5 503.3,804.8 508.5,806.1 513.7,807.2 519.0,808.4 524.2,809.5 529.4,810.6 534.6,811.7 539.9,812.7 545.1,813.7 550.3,814.7 555.5,815.7 560.7,816.7 566.0,817.8 571.2,818.8 576.4,819.9 581.7,821.0 586.9,822.0 592.2,823.1 597.7,824.2 603.2,825.2 608.6,826.3 613.7,827.3 618.3,828.3 622.7,829.2 626.9,830.2 630.9,831.0 634.4,831.8 637.3,832.5 639.5,833.0 640.0,833.0 618.3,828.3 586.9,822.0 555.5,815.7 524.2,809.5 505.0,807.0 495.0,805.5 484.0,803.5 459.0,800.3 440.0,799.1 420.0,797.0 389.6,792.5 330.0,773.9 300.0,761.0 260.0,746.0 230.0,732.7 208.3,724.9 192.6,719.7 166.3,709.8 144.0,699.8 104.0,683.1 68.5,668.3"/></clipPath>
<polygon points="82.7,621.3 84.9,622.0 90.1,623.5 95.0,624.8 99.9,626.0 105.0,627.0 110.1,628.1 115.3,629.2 120.2,630.3 124.8,631.4 129.0,632.6 132.9,633.8 136.7,635.0 140.3,636.2 143.9,637.5 147.6,638.8 151.3,640.1 155.1,641.3 158.8,642.6 162.5,643.9 166.2,645.4 170.0,647.0 173.7,648.7 177.2,650.6 180.7,652.5 184.4,654.6 188.5,656.8 192.3,659.3 196.0,666.5 202.8,673.3 208.0,678.5 215.0,683.8 223.0,690.5 232.6,696.9 241.0,700.5 250.0,703.1 259.0,705.1 267.6,706.5 276.0,708.0 285.1,709.2 287.0,709.0 293.2,712.1 299.9,715.6 307.1,719.2 314.6,722.9 322.2,726.7 330.0,730.5 337.9,734.4 346.1,738.4 354.6,742.4 363.1,746.5 371.6,750.5 380.0,754.5 388.6,758.5 397.4,762.6 406.2,766.7 414.7,770.6 422.7,774.2 430.0,777.5 436.3,780.3 441.8,782.7 446.9,784.8 451.6,786.7 456.4,788.6 461.4,790.6 466.6,792.6 471.9,794.7 477.1,796.6 482.0,798.4 482.0,806.5 470.0,809.0 455.0,807.5 438.0,802.5 409.0,794.5 383.0,786.5 330.0,769.0 300.0,756.0 258.5,739.5 230.0,725.5 208.9,713.5 184.0,695.5 151.5,685.6 134.0,671.5 121.8,664.5 110.0,654.5 99.0,647.0 92.0,635.5 82.7,621.3" fill="#f41a08"/>
<g clip-path="url(#upb)">
<line x1="72.0" y1="618.2" x2="78.7" y2="669.8" stroke="#a08060" stroke-width="0.45" stroke-opacity="0.32"/>
<line x1="77.6" y1="619.8" x2="81.2" y2="672.1" stroke="#a08060" stroke-width="0.45" stroke-opacity="0.32"/>
<line x1="83.2" y1="621.5" x2="88.4" y2="674.4" stroke="#a08060" stroke-width="0.45" stroke-opacity="0.32"/>
<line x1="88.8" y1="623.1" x2="92.6" y2="676.8" stroke="#a08060" stroke-width="0.45" stroke-opacity="0.32"/>
<line x1="94.4" y1="624.6" x2="101.2" y2="679.1" stroke="#a08060" stroke-width="0.45" stroke-opacity="0.32"/>
<line x1="100.0" y1="626.0" x2="109.4" y2="681.4" stroke="#a08060" stroke-width="0.45" stroke-opacity="0.32"/>
<line x1="105.6" y1="627.2" x2="112.8" y2="683.8" stroke="#a08060" stroke-width="0.45" stroke-opacity="0.32"/>
<line x1="111.2" y1="628.3" x2="120.2" y2="686.1" stroke="#a08060" stroke-width="0.45" stroke-opacity="0.32"/>
<line x1="116.8" y1="629.5" x2="121.3" y2="688.4" stroke="#a08060" stroke-width="0.45" stroke-opacity="0.32"/>
<line x1="122.4" y1="630.8" x2="125.5" y2="690.8" stroke="#a08060" stroke-width="0.45" stroke-opacity="0.32"/>
<line x1="128.0" y1="632.3" x2="134.8" y2="693.1" stroke="#a08060" stroke-width="0.45" stroke-opacity="0.32"/>
<line x1="133.6" y1="634.0" x2="140.0" y2="695.5" stroke="#a08060" stroke-width="0.45" stroke-opacity="0.32"/>
<line x1="139.2" y1="635.9" x2="146.2" y2="697.8" stroke="#a08060" stroke-width="0.45" stroke-opacity="0.32"/>
<line x1="144.8" y1="637.8" x2="150.4" y2="700.2" stroke="#a08060" stroke-width="0.45" stroke-opacity="0.32"/>
<line x1="150.4" y1="639.7" x2="157.8" y2="702.7" stroke="#a08060" stroke-width="0.45" stroke-opacity="0.32"/>
<line x1="156.0" y1="641.6" x2="164.1" y2="705.2" stroke="#a08060" stroke-width="0.45" stroke-opacity="0.32"/>
<line x1="161.6" y1="643.6" x2="171.0" y2="707.7" stroke="#a08060" stroke-width="0.45" stroke-opacity="0.32"/>
<line x1="167.2" y1="645.8" x2="172.4" y2="710.1" stroke="#a08060" stroke-width="0.45" stroke-opacity="0.32"/>
<line x1="172.8" y1="648.3" x2="178.9" y2="712.2" stroke="#a08060" stroke-width="0.45" stroke-opacity="0.32"/>
<line x1="178.4" y1="651.2" x2="187.2" y2="714.4" stroke="#a08060" stroke-width="0.45" stroke-opacity="0.32"/>
<line x1="184.0" y1="654.3" x2="188.6" y2="716.5" stroke="#a08060" stroke-width="0.45" stroke-opacity="0.32"/>
<line x1="189.6" y1="657.4" x2="193.4" y2="718.6" stroke="#a08060" stroke-width="0.45" stroke-opacity="0.32"/>
<line x1="195.2" y1="660.3" x2="200.4" y2="720.6" stroke="#a08060" stroke-width="0.45" stroke-opacity="0.32"/>
<line x1="200.8" y1="663.2" x2="204.4" y2="722.4" stroke="#a08060" stroke-width="0.45" stroke-opacity="0.32"/>
<line x1="206.4" y1="666.0" x2="214.8" y2="724.3" stroke="#a08060" stroke-width="0.45" stroke-opacity="0.32"/>
<line x1="212.0" y1="668.8" x2="220.7" y2="726.2" stroke="#a08060" stroke-width="0.45" stroke-opacity="0.32"/>
<line x1="217.6" y1="671.6" x2="222.8" y2="728.2" stroke="#a08060" stroke-width="0.45" stroke-opacity="0.32"/>
<line x1="223.2" y1="674.5" x2="227.1" y2="730.3" stroke="#a08060" stroke-width="0.45" stroke-opacity="0.32"/>
<line x1="228.8" y1="677.4" x2="232.4" y2="732.3" stroke="#a08060" stroke-width="0.45" stroke-opacity="0.32"/>
<line x1="234.4" y1="680.3" x2="239.1" y2="734.7" stroke="#a08060" stroke-width="0.45" stroke-opacity="0.32"/>
<line x1="240.0" y1="683.4" x2="243.6" y2="737.1" stroke="#a08060" stroke-width="0.45" stroke-opacity="0.32"/>
<line x1="245.6" y1="686.5" x2="251.6" y2="739.6" stroke="#a08060" stroke-width="0.45" stroke-opacity="0.32"/>
<line x1="251.2" y1="689.6" x2="258.2" y2="742.1" stroke="#a08060" stroke-width="0.45" stroke-opacity="0.32"/>
<line x1="256.8" y1="692.7" x2="261.5" y2="744.6" stroke="#a08060" stroke-width="0.45" stroke-opacity="0.32"/>
<line x1="262.4" y1="695.8" x2="265.8" y2="746.9" stroke="#a08060" stroke-width="0.45" stroke-opacity="0.32"/>
<line x1="268.0" y1="698.9" x2="275.9" y2="749.0" stroke="#a08060" stroke-width="0.45" stroke-opacity="0.32"/>
<line x1="273.6" y1="701.9" x2="276.9" y2="751.1" stroke="#a08060" stroke-width="0.45" stroke-opacity="0.32"/>
<line x1="279.2" y1="704.9" x2="283.6" y2="753.2" stroke="#a08060" stroke-width="0.45" stroke-opacity="0.32"/>
<line x1="284.8" y1="707.9" x2="289.8" y2="755.3" stroke="#a08060" stroke-width="0.45" stroke-opacity="0.32"/>
<line x1="290.4" y1="710.7" x2="296.0" y2="757.4" stroke="#a08060" stroke-width="0.45" stroke-opacity="0.32"/>
<line x1="296.0" y1="713.6" x2="299.7" y2="759.5" stroke="#a08060" stroke-width="0.45" stroke-opacity="0.32"/>
<line x1="301.6" y1="716.4" x2="307.5" y2="761.7" stroke="#a08060" stroke-width="0.45" stroke-opacity="0.32"/>
<line x1="307.2" y1="719.2" x2="312.4" y2="764.1" stroke="#a08060" stroke-width="0.45" stroke-opacity="0.32"/>
<line x1="312.8" y1="722.0" x2="321.1" y2="766.5" stroke="#a08060" stroke-width="0.45" stroke-opacity="0.32"/>
<line x1="318.4" y1="724.8" x2="325.3" y2="768.9" stroke="#a08060" stroke-width="0.45" stroke-opacity="0.32"/>
<line x1="324.0" y1="727.6" x2="333.3" y2="771.3" stroke="#a08060" stroke-width="0.45" stroke-opacity="0.32"/>
<line x1="329.6" y1="730.3" x2="337.2" y2="773.7" stroke="#a08060" stroke-width="0.45" stroke-opacity="0.32"/>
<line x1="335.2" y1="733.0" x2="343.5" y2="775.5" stroke="#a08060" stroke-width="0.45" stroke-opacity="0.32"/>
<line x1="340.8" y1="735.8" x2="347.8" y2="777.3" stroke="#a08060" stroke-width="0.45" stroke-opacity="0.32"/>
<line x1="346.4" y1="738.5" x2="352.5" y2="779.0" stroke="#a08060" stroke-width="0.45" stroke-opacity="0.32"/>
<line x1="352.0" y1="741.2" x2="360.7" y2="780.8" stroke="#a08060" stroke-width="0.45" stroke-opacity="0.32"/>
<line x1="357.6" y1="743.9" x2="365.2" y2="782.5" stroke="#a08060" stroke-width="0.45" stroke-opacity="0.32"/>
<line x1="363.2" y1="746.5" x2="372.9" y2="784.3" stroke="#a08060" stroke-width="0.45" stroke-opacity="0.32"/>
<line x1="368.8" y1="749.2" x2="376.9" y2="786.0" stroke="#a08060" stroke-width="0.45" stroke-opacity="0.32"/>
<line x1="374.4" y1="751.9" x2="382.3" y2="787.8" stroke="#a08060" stroke-width="0.45" stroke-opacity="0.32"/>
<line x1="380.0" y1="754.5" x2="384.9" y2="789.5" stroke="#a08060" stroke-width="0.45" stroke-opacity="0.32"/>
<line x1="385.6" y1="757.1" x2="394.3" y2="791.3" stroke="#a08060" stroke-width="0.45" stroke-opacity="0.32"/>
<line x1="391.2" y1="759.7" x2="396.9" y2="792.7" stroke="#a08060" stroke-width="0.45" stroke-opacity="0.32"/>
<line x1="396.8" y1="762.3" x2="400.7" y2="793.6" stroke="#a08060" stroke-width="0.45" stroke-opacity="0.32"/>
<line x1="402.4" y1="764.9" x2="405.9" y2="794.4" stroke="#a08060" stroke-width="0.45" stroke-opacity="0.32"/>
<line x1="408.0" y1="767.5" x2="412.2" y2="795.2" stroke="#a08060" stroke-width="0.45" stroke-opacity="0.32"/>
<line x1="413.6" y1="770.1" x2="418.4" y2="796.1" stroke="#a08060" stroke-width="0.45" stroke-opacity="0.32"/>
<line x1="419.2" y1="772.6" x2="426.9" y2="796.9" stroke="#a08060" stroke-width="0.45" stroke-opacity="0.32"/>
<line x1="424.8" y1="775.2" x2="429.8" y2="797.5" stroke="#a08060" stroke-width="0.45" stroke-opacity="0.32"/>
<line x1="430.4" y1="777.7" x2="433.8" y2="798.1" stroke="#a08060" stroke-width="0.45" stroke-opacity="0.32"/>
<line x1="436.0" y1="780.1" x2="444.3" y2="798.7" stroke="#a08060" stroke-width="0.45" stroke-opacity="0.32"/>
<line x1="441.6" y1="782.6" x2="448.5" y2="799.2" stroke="#a08060" stroke-width="0.45" stroke-opacity="0.32"/>
<line x1="447.2" y1="784.9" x2="450.4" y2="799.6" stroke="#a08060" stroke-width="0.45" stroke-opacity="0.32"/>
<line x1="452.8" y1="787.2" x2="456.2" y2="799.9" stroke="#a08060" stroke-width="0.45" stroke-opacity="0.32"/>
<line x1="458.4" y1="789.4" x2="462.3" y2="800.3" stroke="#a08060" stroke-width="0.45" stroke-opacity="0.32"/>
<line x1="464.0" y1="791.6" x2="469.5" y2="800.9" stroke="#a08060" stroke-width="0.45" stroke-opacity="0.32"/>
<line x1="469.6" y1="793.8" x2="478.6" y2="801.7" stroke="#a08060" stroke-width="0.45" stroke-opacity="0.32"/>
<line x1="475.2" y1="795.9" x2="484.8" y2="802.4" stroke="#a08060" stroke-width="0.45" stroke-opacity="0.32"/>
<line x1="480.8" y1="798.0" x2="488.1" y2="803.1" stroke="#a08060" stroke-width="0.45" stroke-opacity="0.32"/>
<line x1="486.4" y1="799.9" x2="491.0" y2="803.9" stroke="#a08060" stroke-width="0.45" stroke-opacity="0.32"/>
<line x1="70.0" y1="636.3" x2="107.7" y2="643.6" stroke="#a08060" stroke-width="0.45" stroke-opacity="0.32"/>
<line x1="79.0" y1="622.8" x2="124.5" y2="635.0" stroke="#a08060" stroke-width="0.45" stroke-opacity="0.32"/>
<line x1="88.0" y1="654.6" x2="116.3" y2="663.9" stroke="#a08060" stroke-width="0.45" stroke-opacity="0.32"/>
<line x1="97.0" y1="634.5" x2="146.8" y2="642.9" stroke="#a08060" stroke-width="0.45" stroke-opacity="0.32"/>
<line x1="106.0" y1="669.9" x2="158.8" y2="675.1" stroke="#a08060" stroke-width="0.45" stroke-opacity="0.32"/>
<line x1="115.0" y1="645.3" x2="172.0" y2="654.0" stroke="#a08060" stroke-width="0.45" stroke-opacity="0.32"/>
<line x1="124.0" y1="653.3" x2="164.4" y2="664.9" stroke="#a08060" stroke-width="0.45" stroke-opacity="0.32"/>
<line x1="133.0" y1="679.9" x2="176.6" y2="693.6" stroke="#a08060" stroke-width="0.45" stroke-opacity="0.32"/>
<line x1="142.0" y1="667.3" x2="170.6" y2="679.4" stroke="#a08060" stroke-width="0.45" stroke-opacity="0.32"/>
<line x1="151.0" y1="662.2" x2="177.8" y2="676.0" stroke="#a08060" stroke-width="0.45" stroke-opacity="0.32"/>
<line x1="160.0" y1="646.6" x2="205.2" y2="655.5" stroke="#a08060" stroke-width="0.45" stroke-opacity="0.32"/>
<line x1="169.0" y1="692.1" x2="207.7" y2="698.3" stroke="#a08060" stroke-width="0.45" stroke-opacity="0.32"/>
<line x1="178.0" y1="666.5" x2="210.0" y2="676.1" stroke="#a08060" stroke-width="0.45" stroke-opacity="0.32"/>
<line x1="187.0" y1="674.9" x2="238.3" y2="681.3" stroke="#a08060" stroke-width="0.45" stroke-opacity="0.32"/>
<line x1="196.0" y1="678.9" x2="229.7" y2="692.8" stroke="#a08060" stroke-width="0.45" stroke-opacity="0.32"/>
<line x1="205.0" y1="704.9" x2="259.7" y2="715.1" stroke="#a08060" stroke-width="0.45" stroke-opacity="0.32"/>
<line x1="214.0" y1="689.3" x2="244.0" y2="701.7" stroke="#a08060" stroke-width="0.45" stroke-opacity="0.32"/>
<line x1="223.0" y1="697.3" x2="249.3" y2="703.0" stroke="#a08060" stroke-width="0.45" stroke-opacity="0.32"/>
<line x1="232.0" y1="685.2" x2="282.1" y2="698.2" stroke="#a08060" stroke-width="0.45" stroke-opacity="0.32"/>
<line x1="241.0" y1="694.1" x2="293.9" y2="701.3" stroke="#a08060" stroke-width="0.45" stroke-opacity="0.32"/>
<line x1="250.0" y1="718.3" x2="305.2" y2="728.6" stroke="#a08060" stroke-width="0.45" stroke-opacity="0.32"/>
<line x1="259.0" y1="727.4" x2="297.2" y2="731.5" stroke="#a08060" stroke-width="0.45" stroke-opacity="0.32"/>
<line x1="268.0" y1="720.4" x2="313.5" y2="726.2" stroke="#a08060" stroke-width="0.45" stroke-opacity="0.32"/>
<line x1="277.0" y1="720.1" x2="313.1" y2="724.4" stroke="#a08060" stroke-width="0.45" stroke-opacity="0.32"/>
<line x1="286.0" y1="721.7" x2="324.4" y2="730.4" stroke="#a08060" stroke-width="0.45" stroke-opacity="0.32"/>
<line x1="295.0" y1="739.6" x2="334.0" y2="753.4" stroke="#a08060" stroke-width="0.45" stroke-opacity="0.32"/>
<line x1="304.0" y1="747.4" x2="361.3" y2="758.3" stroke="#a08060" stroke-width="0.45" stroke-opacity="0.32"/>
<line x1="313.0" y1="746.6" x2="356.8" y2="758.6" stroke="#a08060" stroke-width="0.45" stroke-opacity="0.32"/>
<line x1="322.0" y1="740.6" x2="367.8" y2="751.4" stroke="#a08060" stroke-width="0.45" stroke-opacity="0.32"/>
<line x1="331.0" y1="750.0" x2="365.9" y2="754.8" stroke="#a08060" stroke-width="0.45" stroke-opacity="0.32"/>
<line x1="340.0" y1="740.1" x2="377.5" y2="749.9" stroke="#a08060" stroke-width="0.45" stroke-opacity="0.32"/>
<line x1="349.0" y1="764.6" x2="399.0" y2="771.6" stroke="#a08060" stroke-width="0.45" stroke-opacity="0.32"/>
<line x1="358.0" y1="772.9" x2="392.6" y2="784.0" stroke="#a08060" stroke-width="0.45" stroke-opacity="0.32"/>
<line x1="367.0" y1="752.3" x2="418.4" y2="763.0" stroke="#a08060" stroke-width="0.45" stroke-opacity="0.32"/>
<line x1="376.0" y1="780.0" x2="432.4" y2="790.9" stroke="#a08060" stroke-width="0.45" stroke-opacity="0.32"/>
<line x1="385.0" y1="780.1" x2="435.9" y2="790.2" stroke="#a08060" stroke-width="0.45" stroke-opacity="0.32"/>
<line x1="394.0" y1="768.0" x2="437.1" y2="781.0" stroke="#a08060" stroke-width="0.45" stroke-opacity="0.32"/>
<line x1="403.0" y1="772.3" x2="462.1" y2="781.8" stroke="#a08060" stroke-width="0.45" stroke-opacity="0.32"/>
<line x1="412.0" y1="778.9" x2="437.1" y2="786.8" stroke="#a08060" stroke-width="0.45" stroke-opacity="0.32"/>
<line x1="421.0" y1="778.5" x2="468.9" y2="791.5" stroke="#a08060" stroke-width="0.45" stroke-opacity="0.32"/>
<line x1="430.0" y1="792.6" x2="476.5" y2="800.5" stroke="#a08060" stroke-width="0.45" stroke-opacity="0.32"/>
<line x1="439.0" y1="784.7" x2="488.1" y2="794.3" stroke="#a08060" stroke-width="0.45" stroke-opacity="0.32"/>
<line x1="448.0" y1="794.0" x2="486.1" y2="806.9" stroke="#a08060" stroke-width="0.45" stroke-opacity="0.32"/>
<line x1="457.0" y1="792.4" x2="492.7" y2="799.0" stroke="#a08060" stroke-width="0.45" stroke-opacity="0.32"/>
<line x1="466.0" y1="797.5" x2="522.4" y2="803.2" stroke="#a08060" stroke-width="0.45" stroke-opacity="0.32"/>
<line x1="126.0" y1="631.7" x2="120.0" y2="657.5" stroke="#f41a08" stroke-width="0.6" stroke-opacity="0.8"/>
<line x1="132.5" y1="633.6" x2="126.5" y2="661.7" stroke="#f41a08" stroke-width="0.6" stroke-opacity="0.8"/>
<line x1="139.0" y1="635.8" x2="133.0" y2="654.6" stroke="#f41a08" stroke-width="0.6" stroke-opacity="0.8"/>
<line x1="145.5" y1="638.1" x2="139.5" y2="654.1" stroke="#f41a08" stroke-width="0.6" stroke-opacity="0.8"/>
<line x1="152.0" y1="640.3" x2="146.0" y2="664.9" stroke="#f41a08" stroke-width="0.6" stroke-opacity="0.8"/>
<line x1="158.5" y1="642.5" x2="152.5" y2="671.6" stroke="#f41a08" stroke-width="0.6" stroke-opacity="0.8"/>
<line x1="165.0" y1="644.9" x2="159.0" y2="674.8" stroke="#f41a08" stroke-width="0.6" stroke-opacity="0.8"/>
<line x1="171.5" y1="647.7" x2="165.5" y2="675.1" stroke="#f41a08" stroke-width="0.6" stroke-opacity="0.8"/>
<line x1="178.0" y1="651.0" x2="172.0" y2="673.1" stroke="#f41a08" stroke-width="0.6" stroke-opacity="0.8"/>
<line x1="184.5" y1="654.6" x2="178.5" y2="676.8" stroke="#f41a08" stroke-width="0.6" stroke-opacity="0.8"/>
<line x1="191.0" y1="658.1" x2="185.0" y2="682.1" stroke="#f41a08" stroke-width="0.6" stroke-opacity="0.8"/>
<line x1="197.5" y1="661.5" x2="191.5" y2="691.9" stroke="#f41a08" stroke-width="0.6" stroke-opacity="0.8"/>
<line x1="204.0" y1="664.8" x2="198.0" y2="684.9" stroke="#f41a08" stroke-width="0.6" stroke-opacity="0.8"/>
<line x1="210.5" y1="668.1" x2="204.5" y2="687.8" stroke="#f41a08" stroke-width="0.6" stroke-opacity="0.8"/>
<line x1="217.0" y1="671.3" x2="211.0" y2="696.6" stroke="#f41a08" stroke-width="0.6" stroke-opacity="0.8"/>
<line x1="223.5" y1="674.6" x2="217.5" y2="706.1" stroke="#f41a08" stroke-width="0.6" stroke-opacity="0.8"/>
<line x1="230.0" y1="678.0" x2="224.0" y2="696.2" stroke="#f41a08" stroke-width="0.6" stroke-opacity="0.8"/>
<line x1="236.5" y1="681.5" x2="230.5" y2="697.0" stroke="#f41a08" stroke-width="0.6" stroke-opacity="0.8"/>
<line x1="243.0" y1="685.1" x2="237.0" y2="702.0" stroke="#f41a08" stroke-width="0.6" stroke-opacity="0.8"/>
<line x1="249.5" y1="688.7" x2="243.5" y2="713.3" stroke="#f41a08" stroke-width="0.6" stroke-opacity="0.8"/>
<line x1="256.0" y1="692.3" x2="250.0" y2="717.6" stroke="#f41a08" stroke-width="0.6" stroke-opacity="0.8"/>
<line x1="262.5" y1="695.9" x2="256.5" y2="714.0" stroke="#f41a08" stroke-width="0.6" stroke-opacity="0.8"/>
<line x1="269.0" y1="699.4" x2="263.0" y2="717.7" stroke="#f41a08" stroke-width="0.6" stroke-opacity="0.8"/>
<line x1="275.5" y1="703.0" x2="269.5" y2="728.1" stroke="#f41a08" stroke-width="0.6" stroke-opacity="0.8"/>
<line x1="282.0" y1="706.4" x2="276.0" y2="732.4" stroke="#f41a08" stroke-width="0.6" stroke-opacity="0.8"/>
<line x1="288.5" y1="709.8" x2="282.5" y2="736.5" stroke="#f41a08" stroke-width="0.6" stroke-opacity="0.8"/>
<line x1="295.0" y1="713.1" x2="289.0" y2="740.5" stroke="#f41a08" stroke-width="0.6" stroke-opacity="0.8"/>
<line x1="301.5" y1="716.4" x2="295.5" y2="732.4" stroke="#f41a08" stroke-width="0.6" stroke-opacity="0.8"/>
<line x1="308.0" y1="719.6" x2="302.0" y2="742.9" stroke="#f41a08" stroke-width="0.6" stroke-opacity="0.8"/>
<line x1="314.5" y1="722.9" x2="308.5" y2="752.0" stroke="#f41a08" stroke-width="0.6" stroke-opacity="0.8"/>
<line x1="321.0" y1="726.1" x2="315.0" y2="757.3" stroke="#f41a08" stroke-width="0.6" stroke-opacity="0.8"/>
<line x1="327.5" y1="729.3" x2="321.5" y2="749.7" stroke="#f41a08" stroke-width="0.6" stroke-opacity="0.8"/>
<line x1="334.0" y1="732.5" x2="328.0" y2="761.9" stroke="#f41a08" stroke-width="0.6" stroke-opacity="0.8"/>
<line x1="340.5" y1="735.6" x2="334.5" y2="761.6" stroke="#f41a08" stroke-width="0.6" stroke-opacity="0.8"/>
<line x1="347.0" y1="738.8" x2="341.0" y2="769.5" stroke="#f41a08" stroke-width="0.6" stroke-opacity="0.8"/>
<line x1="353.5" y1="741.9" x2="347.5" y2="760.8" stroke="#f41a08" stroke-width="0.6" stroke-opacity="0.8"/>
<line x1="360.0" y1="745.0" x2="354.0" y2="771.9" stroke="#f41a08" stroke-width="0.6" stroke-opacity="0.8"/>
<line x1="366.5" y1="748.1" x2="360.5" y2="777.4" stroke="#f41a08" stroke-width="0.6" stroke-opacity="0.8"/>
<line x1="373.0" y1="751.2" x2="367.0" y2="774.3" stroke="#f41a08" stroke-width="0.6" stroke-opacity="0.8"/>
<line x1="379.5" y1="754.3" x2="373.5" y2="771.0" stroke="#f41a08" stroke-width="0.6" stroke-opacity="0.8"/>
<line x1="128.0" y1="632.3" x2="146.0" y2="662.3" stroke="#f0c040" stroke-width="0.5" stroke-opacity="0.6"/>
<line x1="133.5" y1="634.0" x2="151.5" y2="664.0" stroke="#f0c040" stroke-width="0.5" stroke-opacity="0.6"/>
<line x1="139.0" y1="635.8" x2="157.0" y2="665.8" stroke="#f0c040" stroke-width="0.5" stroke-opacity="0.6"/>
<line x1="144.5" y1="637.7" x2="162.5" y2="667.7" stroke="#f0c040" stroke-width="0.5" stroke-opacity="0.6"/>
<line x1="150.0" y1="639.6" x2="168.0" y2="669.6" stroke="#f0c040" stroke-width="0.5" stroke-opacity="0.6"/>
<line x1="155.5" y1="641.5" x2="173.5" y2="671.5" stroke="#f0c040" stroke-width="0.5" stroke-opacity="0.6"/>
<line x1="161.0" y1="643.4" x2="179.0" y2="673.4" stroke="#f0c040" stroke-width="0.5" stroke-opacity="0.6"/>
<line x1="166.5" y1="645.5" x2="184.5" y2="675.5" stroke="#f0c040" stroke-width="0.5" stroke-opacity="0.6"/>
<line x1="172.0" y1="648.0" x2="190.0" y2="678.0" stroke="#f0c040" stroke-width="0.5" stroke-opacity="0.6"/>
<line x1="177.5" y1="650.7" x2="195.5" y2="680.7" stroke="#f0c040" stroke-width="0.5" stroke-opacity="0.6"/>
<line x1="183.0" y1="653.8" x2="201.0" y2="683.8" stroke="#f0c040" stroke-width="0.5" stroke-opacity="0.6"/>
<line x1="188.5" y1="656.8" x2="206.5" y2="686.8" stroke="#f0c040" stroke-width="0.5" stroke-opacity="0.6"/>
<line x1="194.0" y1="659.7" x2="212.0" y2="689.7" stroke="#f0c040" stroke-width="0.5" stroke-opacity="0.6"/>
<line x1="199.5" y1="662.5" x2="217.5" y2="692.5" stroke="#f0c040" stroke-width="0.5" stroke-opacity="0.6"/>
<line x1="205.0" y1="665.3" x2="223.0" y2="695.3" stroke="#f0c040" stroke-width="0.5" stroke-opacity="0.6"/>
<line x1="210.5" y1="668.1" x2="228.5" y2="698.1" stroke="#f0c040" stroke-width="0.5" stroke-opacity="0.6"/>
<line x1="216.0" y1="670.8" x2="234.0" y2="700.8" stroke="#f0c040" stroke-width="0.5" stroke-opacity="0.6"/>
<line x1="221.5" y1="673.6" x2="239.5" y2="703.6" stroke="#f0c040" stroke-width="0.5" stroke-opacity="0.6"/>
<line x1="227.0" y1="676.4" x2="245.0" y2="706.4" stroke="#f0c040" stroke-width="0.5" stroke-opacity="0.6"/>
<line x1="232.5" y1="679.3" x2="250.5" y2="709.3" stroke="#f0c040" stroke-width="0.5" stroke-opacity="0.6"/>
<line x1="238.0" y1="682.3" x2="256.0" y2="712.3" stroke="#f0c040" stroke-width="0.5" stroke-opacity="0.6"/>
<line x1="243.5" y1="685.3" x2="261.5" y2="715.3" stroke="#f0c040" stroke-width="0.5" stroke-opacity="0.6"/>
<line x1="249.0" y1="688.4" x2="267.0" y2="718.4" stroke="#f0c040" stroke-width="0.5" stroke-opacity="0.6"/>
<line x1="254.5" y1="691.5" x2="272.5" y2="721.5" stroke="#f0c040" stroke-width="0.5" stroke-opacity="0.6"/>
<line x1="260.0" y1="694.5" x2="278.0" y2="724.5" stroke="#f0c040" stroke-width="0.5" stroke-opacity="0.6"/>
<line x1="265.5" y1="697.5" x2="283.5" y2="727.5" stroke="#f0c040" stroke-width="0.5" stroke-opacity="0.6"/>
<line x1="271.0" y1="700.5" x2="289.0" y2="730.5" stroke="#f0c040" stroke-width="0.5" stroke-opacity="0.6"/>
<line x1="276.5" y1="703.5" x2="294.5" y2="733.5" stroke="#f0c040" stroke-width="0.5" stroke-opacity="0.6"/>
<line x1="282.0" y1="706.4" x2="300.0" y2="736.4" stroke="#f0c040" stroke-width="0.5" stroke-opacity="0.6"/>
<line x1="287.5" y1="709.3" x2="305.5" y2="739.3" stroke="#f0c040" stroke-width="0.5" stroke-opacity="0.6"/>
<path d="M68.5,618.5 C70.8,620.7 77.3,627.2 82.0,631.5 C86.7,635.8 90.0,640.3 96.7,644.2 C103.4,648.1 113.8,651.8 122.4,654.7 C131.0,657.6 138.4,658.8 148.1,661.7 C157.8,664.6 169.7,668.4 180.8,672.2 C192.0,676.0 203.5,680.1 215.0,684.5 C226.5,688.9 244.2,696.2 250.0,698.5" fill="none" stroke="#f5a020" stroke-width="1.8" stroke-opacity="0.9" />
<path d="M68.5,619.5 C70.8,621.8 77.3,629.0 82.0,633.5 C86.7,638.0 90.0,642.3 96.7,646.2 C103.4,650.1 113.8,653.8 122.4,656.7 C131.0,659.6 138.4,660.8 148.1,663.7 C157.8,666.6 169.7,670.4 180.8,674.2 C192.0,678.0 203.5,682.1 215.0,686.5 C226.5,690.9 244.2,698.2 250.0,700.5" fill="none" stroke="#f0c030" stroke-width="1.8" stroke-opacity="0.9" />
<path d="M68.5,620.5 C70.8,623.0 77.3,630.9 82.0,635.5 C86.7,640.1 90.0,644.3 96.7,648.2 C103.4,652.1 113.8,655.8 122.4,658.7 C131.0,661.6 138.4,662.8 148.1,665.7 C157.8,668.6 169.7,672.4 180.8,676.2 C192.0,680.0 203.5,684.1 215.0,688.5 C226.5,692.9 244.2,700.2 250.0,702.5" fill="none" stroke="#e88018" stroke-width="1.8" stroke-opacity="0.9" />
<path d="M150.0,643.5 C151.7,647.5 156.0,660.5 160.0,667.5 C164.0,674.5 168.0,679.3 174.2,685.5 C180.3,691.7 186.8,697.5 196.9,704.5 C207.0,711.5 222.2,720.9 234.9,727.2 C247.6,733.5 260.2,737.6 272.8,742.4 C285.4,747.1 298.2,751.6 310.8,755.7 C323.4,759.8 333.8,763.0 348.7,767.1 C363.6,771.2 391.4,778.2 400.0,780.4" fill="none" stroke="#f07010" stroke-width="1.0" stroke-opacity="0.9" />
<path d="M212.0,677.5 C214.0,679.2 220.2,684.5 224.0,687.5 C227.8,690.5 229.9,692.0 234.9,695.5 C239.9,699.0 245.7,703.0 253.9,708.5 C262.1,714.0 274.7,722.7 284.2,728.5 C293.7,734.3 300.1,738.3 310.8,743.5 C321.6,748.7 335.5,754.5 348.7,759.5 C361.9,764.5 383.1,771.2 390.0,773.5" fill="none" stroke="#f07010" stroke-width="1.0" stroke-opacity="0.9" />
<path d="M157.4,667.5 C160.5,669.9 169.9,675.4 176.1,681.6 C182.3,687.8 188.3,698.2 194.8,704.9 C201.3,711.5 207.5,716.1 215.0,721.5 C222.5,726.9 235.8,734.8 240.0,737.5" fill="none" stroke="#f07010" stroke-width="1.0" stroke-opacity="0.9" />
<path d="M270.0,701.5 C275.0,705.2 290.0,717.0 300.0,723.5 C310.0,730.0 318.3,734.8 330.0,740.5 C341.7,746.2 355.0,752.0 370.0,757.5 C385.0,763.0 411.7,770.8 420.0,773.5" fill="none" stroke="#f07010" stroke-width="1.0" stroke-opacity="0.9" />
</g>
<g clip-path="url(#slopeb)">
<path d="M69.0,623.5 C69.2,626.3 69.6,635.2 70.0,640.5 C70.4,645.8 69.8,650.7 71.5,655.5 C73.2,660.3 77.4,664.4 80.4,669.5 C83.4,674.6 86.2,680.8 89.7,685.9 C93.2,691.0 96.7,695.6 101.4,699.9 C106.1,704.2 111.1,707.7 117.7,711.6 C124.3,715.5 133.3,719.7 141.1,723.2 C148.9,726.7 156.6,729.9 164.4,732.6 C172.2,735.3 179.2,737.5 187.8,739.6 C196.4,741.7 206.3,743.6 215.8,745.4 C225.3,747.2 240.1,749.6 245.0,750.5" fill="none" stroke="#a0a09c" stroke-width="1.2" stroke-opacity="0.9" />
<path d="M69.0,623.5 C69.2,626.4 69.6,635.4 70.0,640.8 C70.4,646.2 69.8,651.0 71.5,656.0 C73.2,661.0 77.4,665.4 80.4,670.5 C83.4,675.6 86.2,681.8 89.7,686.9 C93.2,692.0 96.7,696.6 101.4,700.9 C106.1,705.2 111.1,708.7 117.7,712.6 C124.3,716.5 133.3,720.7 141.1,724.2 C148.9,727.7 156.6,730.9 164.4,733.6 C172.2,736.3 179.2,738.5 187.8,740.6 C196.4,742.7 206.3,744.6 215.8,746.4 C225.3,748.2 240.1,750.6 245.0,751.5" fill="none" stroke="#a0a09c" stroke-width="1.2" stroke-opacity="0.9" />
<path d="M69.0,623.5 C69.2,626.4 69.6,635.6 70.0,641.1 C70.4,646.6 69.8,651.4 71.5,656.5 C73.2,661.6 77.4,666.3 80.4,671.5 C83.4,676.7 86.2,682.8 89.7,687.9 C93.2,693.0 96.7,697.6 101.4,701.9 C106.1,706.2 111.1,709.7 117.7,713.6 C124.3,717.5 133.3,721.7 141.1,725.2 C148.9,728.7 156.6,731.9 164.4,734.6 C172.2,737.3 179.2,739.5 187.8,741.6 C196.4,743.7 206.3,745.6 215.8,747.4 C225.3,749.2 240.1,751.6 245.0,752.5" fill="none" stroke="#a0a09c" stroke-width="1.2" stroke-opacity="0.9" />
<path d="M69.0,623.5 C69.2,626.5 69.6,635.8 70.0,641.4 C70.4,647.0 69.8,651.8 71.5,657.0 C73.2,662.2 77.4,667.2 80.4,672.5 C83.4,677.8 86.2,683.8 89.7,688.9 C93.2,694.0 96.7,698.6 101.4,702.9 C106.1,707.2 111.1,710.7 117.7,714.6 C124.3,718.5 133.3,722.7 141.1,726.2 C148.9,729.7 156.6,732.9 164.4,735.6 C172.2,738.3 179.2,740.5 187.8,742.6 C196.4,744.7 206.3,746.6 215.8,748.4 C225.3,750.2 240.1,752.6 245.0,753.5" fill="none" stroke="#a0a09c" stroke-width="1.2" stroke-opacity="0.9" />
<path d="M72.0,623.5 C74.2,625.5 79.3,630.2 85.0,635.5 C90.7,640.8 99.8,649.3 106.0,655.5 C112.2,661.7 116.7,666.6 122.4,672.5 C128.1,678.4 135.8,686.0 140.0,690.8 C144.2,695.6 144.6,697.4 147.9,701.3 C151.2,705.2 154.4,709.6 159.7,714.4 C164.9,719.2 173.5,725.4 179.4,730.2 C185.3,735.0 187.8,738.6 195.2,743.3 C202.5,748.0 214.5,755.0 223.5,758.5 C232.5,762.0 241.6,762.3 249.2,764.5 C256.8,766.7 261.9,767.7 269.0,771.5 C276.1,775.3 281.7,782.5 291.8,787.5 C301.9,792.5 317.1,796.7 329.7,801.5 C342.3,806.3 356.0,811.8 367.7,816.5 C379.4,821.2 388.4,824.6 400.0,829.5 C411.6,834.4 427.6,841.6 437.6,845.9 C447.6,850.2 453.8,853.0 460.0,855.1 C466.2,857.2 472.5,857.9 475.0,858.5" fill="none" stroke="#f0a020" stroke-width="1.5" stroke-opacity="0.95" />
<path d="M72.0,623.5 C74.2,625.5 79.3,630.2 85.0,635.5 C90.7,640.8 99.8,649.3 106.0,655.5 C112.2,661.7 116.7,666.5 122.4,672.5 C128.1,678.5 135.8,686.5 140.0,691.5 C144.2,696.4 144.6,697.9 147.9,702.0 C151.2,706.0 154.4,710.8 159.7,715.7 C164.9,720.6 173.5,726.7 179.4,731.5 C185.3,736.3 187.8,739.9 195.2,744.6 C202.5,749.3 214.5,756.3 223.5,759.8 C232.5,763.3 241.6,763.6 249.2,765.8 C256.8,768.0 261.9,769.0 269.0,772.8 C276.1,776.6 281.7,783.8 291.8,788.8 C301.9,793.8 317.1,798.0 329.7,802.8 C342.3,807.6 356.0,813.1 367.7,817.8 C379.4,822.5 388.4,826.0 400.0,830.8 C411.6,835.6 427.6,842.5 437.6,846.5 C447.6,850.6 453.8,853.1 460.0,855.1 C466.2,857.1 472.5,857.9 475.0,858.5" fill="none" stroke="#f5c028" stroke-width="1.5" stroke-opacity="0.95" />
<path d="M72.0,623.5 C74.2,625.5 79.3,630.2 85.0,635.5 C90.7,640.8 99.8,649.3 106.0,655.5 C112.2,661.7 116.7,666.4 122.4,672.5 C128.1,678.6 135.8,687.1 140.0,692.1 C144.2,697.1 144.6,698.5 147.9,702.6 C151.2,706.8 154.4,712.0 159.7,717.0 C164.9,722.0 173.5,728.0 179.4,732.8 C185.3,737.6 187.8,741.2 195.2,745.9 C202.5,750.6 214.5,757.6 223.5,761.1 C232.5,764.6 241.6,764.9 249.2,767.1 C256.8,769.3 261.9,770.3 269.0,774.1 C276.1,777.9 281.7,785.1 291.8,790.1 C301.9,795.1 317.1,799.3 329.7,804.1 C342.3,808.9 356.0,814.4 367.7,819.1 C379.4,823.8 388.4,827.4 400.0,832.1 C411.6,836.8 427.6,843.4 437.6,847.2 C447.6,851.0 453.8,853.2 460.0,855.1 C466.2,857.0 472.5,857.9 475.0,858.5" fill="none" stroke="#e88a1a" stroke-width="1.5" stroke-opacity="0.95" />
<path d="M72.0,623.5 C74.2,625.5 79.3,630.2 85.0,635.5 C90.7,640.8 99.8,649.3 106.0,655.5 C112.2,661.7 116.7,666.3 122.4,672.5 C128.1,678.7 135.8,687.6 140.0,692.8 C144.2,697.9 144.6,699.0 147.9,703.2 C151.2,707.5 154.4,713.2 159.7,718.3 C164.9,723.4 173.5,729.3 179.4,734.1 C185.3,738.9 187.8,742.5 195.2,747.2 C202.5,751.9 214.5,758.9 223.5,762.4 C232.5,765.9 241.6,766.2 249.2,768.4 C256.8,770.6 261.9,771.6 269.0,775.4 C276.1,779.2 281.7,786.4 291.8,791.4 C301.9,796.4 317.1,800.6 329.7,805.4 C342.3,810.2 356.0,815.7 367.7,820.4 C379.4,825.1 388.4,828.8 400.0,833.4 C411.6,838.0 427.6,844.2 437.6,847.8 C447.6,851.5 453.8,853.3 460.0,855.1 C466.2,856.9 472.5,857.9 475.0,858.5" fill="none" stroke="#f2b030" stroke-width="1.5" stroke-opacity="0.95" />
<path d="M85.0,620.8 C88.5,625.9 99.8,642.6 106.0,651.2 C112.2,659.8 115.8,663.2 122.4,672.2 C129.0,681.2 139.5,697.4 145.8,704.9 C152.1,712.4 157.6,715.4 160.0,717.5" fill="none" stroke="#f0a828" stroke-width="1.15" stroke-opacity="0.8" />
<path d="M196.0,665.5 C197.5,670.5 202.5,686.8 205.0,695.5 C207.5,704.2 208.8,711.2 211.0,717.5 C213.2,723.8 215.8,729.2 218.0,733.5 C220.2,737.8 220.3,739.6 224.0,743.3 C227.7,747.0 233.7,751.5 240.0,755.5 C246.3,759.5 258.3,765.5 262.0,767.5" fill="none" stroke="#f5c030" stroke-width="1.15" stroke-opacity="0.8" />
<path d="M244.0,691.5 C245.3,693.8 249.6,700.3 252.0,705.5 C254.4,710.7 255.7,716.0 258.5,722.5 C261.3,729.0 265.3,738.1 269.0,744.7 C272.7,751.3 277.2,757.1 280.7,762.2 C284.2,767.3 285.9,771.3 290.0,775.5 C294.1,779.7 302.5,785.5 305.0,787.5" fill="none" stroke="#e89020" stroke-width="1.15" stroke-opacity="0.8" />
<path d="M300.0,723.5 C302.0,725.8 307.1,731.2 312.0,737.5 C316.9,743.8 324.2,752.4 329.7,761.4 C335.2,770.4 338.7,783.3 345.0,791.8 C351.3,800.3 360.2,807.2 367.7,812.5 C375.2,817.8 386.3,821.7 390.0,823.5" fill="none" stroke="#d8c838" stroke-width="1.15" stroke-opacity="0.8" />
<path d="M345.0,739.5 C347.8,742.2 356.9,748.7 362.0,755.5 C367.1,762.3 371.0,773.2 375.3,780.4 C379.6,787.6 383.9,793.1 388.0,798.5 C392.1,803.9 394.7,807.7 400.0,812.5 C405.3,817.3 416.7,825.0 420.0,827.5" fill="none" stroke="#f0b030" stroke-width="1.15" stroke-opacity="0.8" />
<path d="M330.0,737.5 C332.5,740.5 339.5,747.5 344.9,755.5 C350.3,763.5 354.4,774.7 362.3,785.5 C370.2,796.3 380.8,811.0 392.0,820.5 C403.2,830.0 423.1,838.6 429.3,842.2" fill="none" stroke="#f0a828" stroke-width="1.15" stroke-opacity="0.8" />
<path d="M354.8,747.8 C358.9,752.3 372.2,766.4 379.6,775.1 C387.1,783.8 394.1,792.5 399.5,800.0 C404.9,807.5 406.1,812.8 411.9,819.8 C417.7,826.8 426.3,836.4 434.2,842.2 C442.1,848.0 454.9,852.5 459.0,854.5" fill="none" stroke="#f5c030" stroke-width="1.15" stroke-opacity="0.8" />
<path d="M100.0,626.5 C102.0,629.7 107.7,638.7 112.0,645.5 C116.3,652.3 121.3,660.0 126.0,667.5 C130.7,675.0 135.0,683.2 140.0,690.5 C145.0,697.8 150.2,704.8 156.0,711.5 C161.8,718.2 168.5,725.2 175.0,730.5 C181.5,735.8 191.7,741.3 195.0,743.5" fill="none" stroke="#e89020" stroke-width="1.15" stroke-opacity="0.8" />
<path d="M150.0,641.5 C152.2,644.7 158.3,653.5 163.0,660.5 C167.7,667.5 173.2,676.0 178.0,683.5 C182.8,691.0 187.3,698.8 192.0,705.5 C196.7,712.2 201.3,717.7 206.0,723.5 C210.7,729.3 215.0,735.2 220.0,740.5 C225.0,745.8 233.3,753.0 236.0,755.5" fill="none" stroke="#d8c838" stroke-width="1.15" stroke-opacity="0.8" />
<path d="M262.0,695.5 C264.2,699.2 270.3,710.0 275.0,717.5 C279.7,725.0 285.0,733.3 290.0,740.5 C295.0,747.7 300.0,754.3 305.0,760.5 C310.0,766.7 314.2,772.3 320.0,777.5 C325.8,782.7 336.7,789.2 340.0,791.5" fill="none" stroke="#f0b030" stroke-width="1.15" stroke-opacity="0.8" />
<path d="M419.4,772.7 C421.9,775.6 429.6,784.2 434.2,790.0 C438.8,795.8 440.9,800.8 446.7,807.4 C452.5,814.0 460.1,823.9 469.0,829.7 C477.9,835.5 488.2,838.2 500.0,842.2 C511.8,846.2 533.3,851.6 540.0,853.5" fill="none" stroke="#a8e040" stroke-width="1.6" stroke-opacity="0.9" />
<path d="M392.0,762.5 C395.0,766.3 402.0,777.0 410.0,785.5 C418.0,794.0 430.0,805.5 440.0,813.5 C450.0,821.5 458.3,827.5 470.0,833.5 C481.7,839.5 503.3,846.8 510.0,849.5" fill="none" stroke="#f0c030" stroke-width="1.6" stroke-opacity="0.9" />
<path d="M470.0,795.5 C473.3,798.2 482.5,805.7 490.0,811.5 C497.5,817.3 505.0,824.8 515.0,830.5 C525.0,836.2 535.8,841.5 550.0,845.5 C564.2,849.5 591.7,853.0 600.0,854.5" fill="none" stroke="#80d830" stroke-width="1.6" stroke-opacity="0.9" />
<path d="M566.0,815.5 C568.3,817.7 574.7,824.3 580.0,828.5 C585.3,832.7 591.3,837.2 598.0,840.5 C604.7,843.8 613.0,846.7 620.0,848.5 C627.0,850.3 636.7,851.0 640.0,851.5" fill="none" stroke="#e0b030" stroke-width="1.6" stroke-opacity="0.9" />
<path d="M430.0,777.5 C435.0,780.5 448.3,789.2 460.0,795.5 C471.7,801.8 485.0,809.2 500.0,815.5 C515.0,821.8 533.3,828.5 550.0,833.5 C566.7,838.5 591.7,843.5 600.0,845.5" fill="none" stroke="#a8e040" stroke-width="1.6" stroke-opacity="0.9" />
<path d="M380.0,785.5 C386.7,788.5 403.3,797.2 420.0,803.5 C436.7,809.8 463.3,818.2 480.0,823.5 C496.7,828.8 513.3,833.5 520.0,835.5" fill="none" stroke="#f0c030" stroke-width="1.6" stroke-opacity="0.9" />
<polyline points="486.0,802.3 492.0,804.2 498.0,806.0 504.0,807.5 510.0,808.9 516.0,810.2 522.0,811.5 528.0,812.8 534.0,814.0 540.0,815.2 546.0,816.4 552.0,817.5 558.0,818.7 564.0,819.9 570.0,821.1 576.0,822.3 582.0,823.5 588.0,824.7 594.0,825.9 600.0,827.1 606.0,828.3 612.0,829.5 618.0,830.7 624.0,832.0 630.0,833.3 636.0,834.7" fill="none" stroke="#e8a020" stroke-width="3.2" stroke-dasharray="9,4" stroke-opacity="0.9"/>
<polyline points="486.0,806.8 492.0,808.7 498.0,810.5 504.0,812.0 510.0,813.4 516.0,814.7 522.0,816.0 528.0,817.3 534.0,818.5 540.0,819.7 546.0,820.9 552.0,822.0 558.0,823.2 564.0,824.4 570.0,825.6 576.0,826.8 582.0,828.0 588.0,829.2 594.0,830.4 600.0,831.6 606.0,832.8 612.0,834.0 618.0,835.2 624.0,836.5 630.0,837.8 636.0,839.2" fill="none" stroke="#e8a020" stroke-width="2.6" stroke-dasharray="7,6" stroke-opacity="0.9"/>
<polyline points="486.0,811.3 492.0,813.2 498.0,815.0 504.0,816.5 510.0,817.9 516.0,819.2 522.0,820.5 528.0,821.8 534.0,823.0 540.0,824.2 546.0,825.4 552.0,826.5 558.0,827.7 564.0,828.9 570.0,830.1 576.0,831.3 582.0,832.5 588.0,833.7 594.0,834.9 600.0,836.1 606.0,837.3 612.0,838.5 618.0,839.7 624.0,841.0 630.0,842.3 636.0,843.7" fill="none" stroke="#e8a020" stroke-width="2.0" stroke-dasharray="6,8" stroke-opacity="0.9"/>
<line x1="458" y1="789.3" x2="458" y2="856.3" stroke="#c8ccc0" stroke-width="1.0" stroke-opacity="0.75"/>
<line x1="460.5" y1="790.2" x2="460.5" y2="856.3" stroke="#c8ccc0" stroke-width="1.0" stroke-opacity="0.75"/>
<line x1="482" y1="798.4" x2="482" y2="856.3" stroke="#c8ccc0" stroke-width="1.0" stroke-opacity="0.75"/>
<line x1="484.5" y1="799.3" x2="484.5" y2="856.3" stroke="#c8ccc0" stroke-width="1.0" stroke-opacity="0.75"/>
<line x1="458" y1="795.3" x2="482" y2="856.3" stroke="#c8ccc0" stroke-width="1.2" stroke-opacity="0.75"/>
<line x1="461" y1="795.3" x2="485" y2="856.3" stroke="#c8ccc0" stroke-width="1.0" stroke-opacity="0.6"/>
<line x1="537" y1="812.1" x2="537" y2="856.3" stroke="#c8ccc0" stroke-width="1.0" stroke-opacity="0.75"/>
<line x1="539.5" y1="812.6" x2="539.5" y2="856.3" stroke="#c8ccc0" stroke-width="1.0" stroke-opacity="0.75"/>
<line x1="560" y1="816.6" x2="560" y2="856.3" stroke="#c8ccc0" stroke-width="1.0" stroke-opacity="0.75"/>
<line x1="562.5" y1="817.1" x2="562.5" y2="856.3" stroke="#c8ccc0" stroke-width="1.0" stroke-opacity="0.75"/>
<line x1="537" y1="818.1" x2="560" y2="856.3" stroke="#c8ccc0" stroke-width="1.2" stroke-opacity="0.75"/>
<line x1="540" y1="818.1" x2="563" y2="856.3" stroke="#c8ccc0" stroke-width="1.0" stroke-opacity="0.6"/>
<path d="M67.5,657.2 C74.7,660.0 98.0,668.5 110.7,674.1 C123.5,679.7 134.7,686.0 144.0,691.0 C153.3,696.0 158.2,699.6 166.3,703.9 C174.4,708.2 186.0,713.5 192.6,717.0 C199.2,720.5 200.9,721.8 205.7,724.9 C210.5,728.0 212.0,730.5 221.2,735.4 C230.4,740.2 247.8,749.1 260.9,754.0 C274.0,758.9 288.5,761.1 300.0,764.5 C311.5,767.9 316.2,769.8 330.0,774.5 C343.8,779.2 369.8,788.6 383.0,792.7 C396.2,796.8 400.0,796.9 409.2,799.3 C418.4,801.7 430.6,804.8 438.4,807.3 C446.2,809.8 449.0,812.9 455.9,814.6 C462.8,816.3 472.0,816.4 480.0,817.5 C488.0,818.6 494.8,820.5 504.0,821.0 C513.2,821.5 525.3,821.2 535.0,820.5 C544.7,819.8 557.5,817.6 562.0,817.0" fill="none" stroke="#1a1aa0" stroke-width="2.7" stroke-dasharray="4.5,3"/>
<path d="M95.0,643.0 C97.6,644.0 99.5,643.2 110.7,648.9 C121.9,654.5 148.5,670.3 162.1,676.9 C175.7,683.5 182.2,685.0 192.5,688.6 C202.8,692.2 212.0,691.1 224.0,698.5 C236.0,705.9 251.7,725.8 264.4,733.0 C277.1,740.2 289.1,738.7 300.0,741.8 C310.9,744.9 315.7,746.9 330.0,751.5 C344.3,756.1 372.6,765.3 385.8,769.4 C399.0,773.5 400.4,773.3 409.2,775.9 C418.0,778.5 429.9,781.8 438.4,784.7 C446.9,787.6 453.1,790.7 460.0,793.5 C466.9,796.3 476.7,800.2 480.0,801.5" fill="none" stroke="#202040" stroke-width="0.9" stroke-dasharray="5,2,1,2"/>
<path d="M68.5,668.3 C74.4,670.8 91.4,677.9 104.0,683.1 C116.6,688.4 133.6,695.3 144.0,699.8 C154.4,704.2 158.2,706.5 166.3,709.8 C174.4,713.1 185.6,717.2 192.6,719.7 C199.6,722.2 202.1,722.7 208.3,724.9 C214.5,727.1 221.4,729.2 230.0,732.7 C238.6,736.2 248.3,741.3 260.0,746.0 C271.7,750.7 288.3,756.4 300.0,761.0 C311.7,765.6 315.1,768.6 330.0,773.9 C344.9,779.1 379.7,789.4 389.6,792.5" fill="none" stroke="#111" stroke-width="1.4"/>
</g>
<polygon points="192.3,659.3 230.0,678.3 260.0,694.5 285.1,709.2 276.0,708.0 267.6,706.5 259.0,705.1 250.0,703.1 241.0,700.5 232.6,696.9 223.0,690.5 215.0,683.8 208.0,678.5 202.8,673.3 196.0,666.5 192.3,659.3" fill="#44c822"/>
<clipPath id="wgb"><polygon points="192.3,659.3 230.0,678.3 260.0,694.5 285.1,709.2 276.0,708.0 267.6,706.5 259.0,705.1 250.0,703.1 241.0,700.5 232.6,696.9 223.0,690.5 215.0,683.8 208.0,678.5 202.8,673.3 196.0,666.5 192.3,659.3"/></clipPath>
<g clip-path="url(#wgb)" stroke="#1a2a08" stroke-width="0.7">
<line x1="196.0" y1="645.5" x2="197.5" y2="725.5"/>
<line x1="199.6" y1="645.5" x2="201.1" y2="725.5"/>
<line x1="203.2" y1="645.5" x2="204.7" y2="725.5"/>
<line x1="206.8" y1="645.5" x2="208.3" y2="725.5"/>
<line x1="210.4" y1="645.5" x2="211.9" y2="725.5"/>
<line x1="214.0" y1="645.5" x2="215.5" y2="725.5"/>
<line x1="217.6" y1="645.5" x2="219.1" y2="725.5"/>
<line x1="221.2" y1="645.5" x2="222.7" y2="725.5"/>
<line x1="224.8" y1="645.5" x2="226.3" y2="725.5"/>
<line x1="228.4" y1="645.5" x2="229.9" y2="725.5"/>
<line x1="232.0" y1="645.5" x2="233.5" y2="725.5"/>
<line x1="235.6" y1="645.5" x2="237.1" y2="725.5"/>
<line x1="239.2" y1="645.5" x2="240.7" y2="725.5"/>
<line x1="242.8" y1="645.5" x2="244.3" y2="725.5"/>
<line x1="246.4" y1="645.5" x2="247.9" y2="725.5"/>
<line x1="250.0" y1="645.5" x2="251.5" y2="725.5"/>
<line x1="253.6" y1="645.5" x2="255.1" y2="725.5"/>
<line x1="257.2" y1="645.5" x2="258.7" y2="725.5"/>
<line x1="260.8" y1="645.5" x2="262.3" y2="725.5"/>
<line x1="264.4" y1="645.5" x2="265.9" y2="725.5"/>
<line x1="268.0" y1="645.5" x2="269.5" y2="725.5"/>
<line x1="271.6" y1="645.5" x2="273.1" y2="725.5"/>
<line x1="275.2" y1="645.5" x2="276.7" y2="725.5"/>
<line x1="278.8" y1="645.5" x2="280.3" y2="725.5"/>
<line x1="282.4" y1="645.5" x2="283.9" y2="725.5"/>
<line x1="286.0" y1="645.5" x2="287.5" y2="725.5"/>
<line x1="262" y1="645.5" x2="263.5" y2="725.5" stroke="#e05018" stroke-width="1.6"/>
<line x1="270" y1="645.5" x2="271.5" y2="725.5" stroke="#e05018" stroke-width="1.6"/>
<line x1="277" y1="645.5" x2="278.5" y2="725.5" stroke="#e05018" stroke-width="1.6"/>
<line x1="281" y1="645.5" x2="282.5" y2="725.5" stroke="#e05018" stroke-width="1.6"/>
<line x1="214" y1="645.5" x2="215.5" y2="725.5" stroke="#e08020" stroke-width="1.2"/>
<line x1="231" y1="645.5" x2="232.5" y2="725.5" stroke="#e08020" stroke-width="1.2"/>
</g>
<path d="M192.3,659.3 C192.9,660.5 194.2,664.2 196.0,666.5 C197.8,668.8 200.8,671.3 202.8,673.3 C204.8,675.3 206.0,676.8 208.0,678.5 C210.0,680.2 212.5,681.8 215.0,683.8 C217.5,685.8 220.1,688.3 223.0,690.5 C225.9,692.7 229.6,695.2 232.6,696.9 C235.6,698.6 238.1,699.5 241.0,700.5 C243.9,701.5 247.0,702.3 250.0,703.1 C253.0,703.9 256.1,704.5 259.0,705.1 C261.9,705.7 264.8,706.0 267.6,706.5 C270.4,707.0 273.1,707.5 276.0,708.0 C278.9,708.5 283.6,709.0 285.1,709.2" fill="none" stroke="#ffffff" stroke-width="2.4" stroke-opacity="1" />
<polyline points="68.5,617.1 71.3,618.0 75.2,619.1 79.9,620.5 84.9,622.0 90.1,623.5 95.0,624.8 99.9,626.0 105.0,627.0 110.1,628.1 115.3,629.2 120.2,630.3 124.8,631.4 129.0,632.6 132.9,633.8 136.7,635.0 140.3,636.2 143.9,637.5 147.6,638.8 151.3,640.1 155.1,641.3 158.8,642.6 162.5,643.9 166.2,645.4 170.0,647.0 173.7,648.7 177.2,650.6 180.7,652.5 184.4,654.6 188.5,656.8 193.2,659.3 198.6,662.1 204.7,665.1 211.2,668.4 217.7,671.7 224.1,674.9 230.0,678.0 235.4,680.9 240.6,683.7 245.6,686.5 250.5,689.2 255.2,691.9 260.0,694.5 264.5,697.0 268.6,699.2 272.7,701.4 276.9,703.7 281.6,706.2 287.0,709.0 293.2,712.1 299.9,715.6 307.1,719.2 314.6,722.9 322.2,726.7 330.0,730.5 337.9,734.4 346.1,738.4 354.6,742.4 363.1,746.5 371.6,750.5 380.0,754.5 388.6,758.5 397.4,762.6 406.2,766.7 414.7,770.6 422.7,774.2 430.0,777.5 436.3,780.3 441.8,782.7 446.9,784.8 451.6,786.7 456.4,788.6 461.4,790.6 466.6,792.6 471.9,794.7 477.1,796.6 482.3,798.5 487.6,800.4 492.8,802.0 498.0,803.5 503.3,804.8 508.5,806.1 513.7,807.2 519.0,808.4 524.2,809.5 529.4,810.6 534.6,811.7 539.9,812.7 545.1,813.7 550.3,814.7 555.5,815.7 560.7,816.7 566.0,817.8 571.2,818.8 576.4,819.9 581.7,821.0 586.9,822.0 592.2,823.1 597.7,824.2 603.2,825.2 608.6,826.3 613.7,827.3 618.3,828.3 622.7,829.2 626.9,830.2 630.9,831.0 634.4,831.8 637.3,832.5 639.5,833.0" fill="none" stroke="#111" stroke-width="1.6"/>
<line x1="639.5" y1="833.0" x2="639.5" y2="856.3" stroke="#111" stroke-width="1.4"/>
<line x1="68.5" y1="617.1" x2="68.5" y2="856.3" stroke="#222" stroke-width="1.6"/>
<rect x="67.3" y="729.1" width="9.7" height="5.8" fill="#fff" stroke="#333" stroke-width="0.6"/>
<circle cx="68.5" cy="657.1" r="1.6" fill="#2020c0"/>
<g stroke="#555" stroke-width="1.1" fill="none">
<line x1="68.5" y1="587.8" x2="68.5" y2="856.3"/>
<line x1="639.5" y1="856.3" x2="669.5" y2="856.3"/>
<line x1="669.3" y1="856.3" x2="669.3" y2="841.3"/>
</g>
<line x1="67.5" y1="856.3" x2="640" y2="856.3" stroke="#111" stroke-width="1.8"/>
<line x1="68.5" y1="856.3" x2="83.3" y2="856.3" stroke="#333" stroke-width="1"/>
<text x="61.4" y="861.0" text-anchor="end" class="tk">0</text>
<line x1="68.5" y1="802.6" x2="83.3" y2="802.6" stroke="#333" stroke-width="1"/>
<text x="61.4" y="807.3" text-anchor="end" class="tk">50</text>
<line x1="68.5" y1="748.9" x2="83.3" y2="748.9" stroke="#333" stroke-width="1"/>
<text x="61.4" y="753.6" text-anchor="end" class="tk">100</text>
<line x1="68.5" y1="695.2" x2="83.3" y2="695.2" stroke="#333" stroke-width="1"/>
<text x="61.4" y="699.9" text-anchor="end" class="tk">150</text>
<line x1="68.5" y1="641.5" x2="83.3" y2="641.5" stroke="#333" stroke-width="1"/>
<text x="61.4" y="646.2" text-anchor="end" class="tk">200</text>
<line x1="68.5" y1="587.8" x2="83.3" y2="587.8" stroke="#333" stroke-width="1"/>
<text x="61.4" y="592.5" text-anchor="end" class="tk">250</text>
<text x="68.5" y="876.6" text-anchor="middle" class="tk">0</text>
<line x1="123.1" y1="856.3" x2="123.1" y2="841.3" stroke="#222" stroke-width="0.9"/>
<text x="123.1" y="876.6" text-anchor="middle" class="tk">50</text>
<line x1="177.8" y1="856.3" x2="177.8" y2="841.3" stroke="#222" stroke-width="0.9"/>
<text x="177.8" y="876.6" text-anchor="middle" class="tk">100</text>
<line x1="232.4" y1="856.3" x2="232.4" y2="841.3" stroke="#222" stroke-width="0.9"/>
<text x="232.4" y="876.6" text-anchor="middle" class="tk">150</text>
<line x1="287.0" y1="856.3" x2="287.0" y2="841.3" stroke="#222" stroke-width="0.9"/>
<text x="287.0" y="876.6" text-anchor="middle" class="tk">200</text>
<line x1="341.7" y1="856.3" x2="341.7" y2="841.3" stroke="#222" stroke-width="0.9"/>
<text x="341.7" y="876.6" text-anchor="middle" class="tk">250</text>
<line x1="396.3" y1="856.3" x2="396.3" y2="841.3" stroke="#222" stroke-width="0.9"/>
<text x="396.3" y="876.6" text-anchor="middle" class="tk">300</text>
<line x1="450.9" y1="856.3" x2="450.9" y2="841.3" stroke="#222" stroke-width="0.9"/>
<text x="450.9" y="876.6" text-anchor="middle" class="tk">350</text>
<line x1="505.6" y1="856.3" x2="505.6" y2="841.3" stroke="#222" stroke-width="0.9"/>
<text x="505.6" y="876.6" text-anchor="middle" class="tk">400</text>
<line x1="560.2" y1="856.3" x2="560.2" y2="841.3" stroke="#222" stroke-width="0.9"/>
<text x="560.2" y="876.6" text-anchor="middle" class="tk">450</text>
<line x1="614.9" y1="856.3" x2="614.9" y2="841.3" stroke="#222" stroke-width="0.9"/>
<text x="614.9" y="876.6" text-anchor="middle" class="tk">500</text>
<text x="669.5" y="876.6" text-anchor="middle" class="tk">550</text>
<text x="372" y="907.4" text-anchor="middle" class="ax">Distance (m)</text>
<text transform="translate(21.8,725.3) rotate(-90)" text-anchor="middle" class="ax">Elevation (m)</text>
<rect x="527.0" y="459.9" width="120.79999999999995" height="176.80000000000007" fill="#fff" stroke="#555" stroke-width="1.1"/>
<text x="586.0" y="476.7" text-anchor="middle" style="font-family:Liberation Serif,serif;font-weight:bold;font-size:16px" fill="#111" textLength="89" lengthAdjust="spacingAndGlyphs">Safety factor</text>
<rect x="533.2" y="487.7" width="8.6" height="8.3" fill="#ff0000" stroke="#333" stroke-width="0.8"/>
<text x="547.8" y="495.7" font-size="10.5" fill="#333" textLength="51.5" lengthAdjust="spacingAndGlyphs">0.49 - 0.59</text>
<rect x="533.2" y="499.8" width="8.6" height="8.3" fill="#ff7a00" stroke="#333" stroke-width="0.8"/>
<text x="547.8" y="507.8" font-size="10.5" fill="#333" textLength="51.5" lengthAdjust="spacingAndGlyphs">0.59 - 0.69</text>
<rect x="533.2" y="511.8" width="8.6" height="8.3" fill="#ffdc00" stroke="#333" stroke-width="0.8"/>
<text x="547.8" y="519.8" font-size="10.5" fill="#333" textLength="51.5" lengthAdjust="spacingAndGlyphs">0.69 - 0.79</text>
<rect x="533.2" y="523.9" width="8.6" height="8.3" fill="#a2f50c" stroke="#333" stroke-width="0.8"/>
<text x="547.8" y="531.9" font-size="10.5" fill="#333" textLength="51.5" lengthAdjust="spacingAndGlyphs">0.79 - 0.89</text>
<rect x="533.2" y="536.0" width="8.6" height="8.3" fill="#38f014" stroke="#333" stroke-width="0.8"/>
<text x="547.8" y="544.0" font-size="10.5" fill="#333" textLength="51.5" lengthAdjust="spacingAndGlyphs">0.89 - 0.99</text>
<rect x="533.2" y="548.0" width="8.6" height="8.3" fill="#12ec3c" stroke="#333" stroke-width="0.8"/>
<text x="547.8" y="556.0" font-size="10.5" fill="#333" textLength="51.5" lengthAdjust="spacingAndGlyphs">0.99 - 1.09</text>
<rect x="533.2" y="560.1" width="8.6" height="8.3" fill="#18f0a6" stroke="#333" stroke-width="0.8"/>
<text x="547.8" y="568.1" font-size="10.5" fill="#333" textLength="51.5" lengthAdjust="spacingAndGlyphs">1.09 - 1.19</text>
<rect x="533.2" y="572.2" width="8.6" height="8.3" fill="#1ce0ff" stroke="#333" stroke-width="0.8"/>
<text x="547.8" y="580.2" font-size="10.5" fill="#333" textLength="51.5" lengthAdjust="spacingAndGlyphs">1.19 - 1.29</text>
<rect x="533.2" y="584.3" width="8.6" height="8.3" fill="#1470f0" stroke="#333" stroke-width="0.8"/>
<text x="547.8" y="592.3" font-size="10.5" fill="#333" textLength="51.5" lengthAdjust="spacingAndGlyphs">1.29 - 1.39</text>
<rect x="533.2" y="596.3" width="8.6" height="8.3" fill="#0000ee" stroke="#333" stroke-width="0.8"/>
<text x="547.8" y="604.3" font-size="10.5" fill="#333" textLength="29.4" lengthAdjust="spacingAndGlyphs">≥ 1.39</text>
<rect x="76.8" y="476.9" width="42" height="36.3" fill="#fff" stroke="#444" stroke-width="1.2"/>
<text x="97.5" y="502.6" text-anchor="middle" style="font-family:Liberation Serif,serif;font-size:20px" fill="#111">b)</text>
</svg></body></html>
